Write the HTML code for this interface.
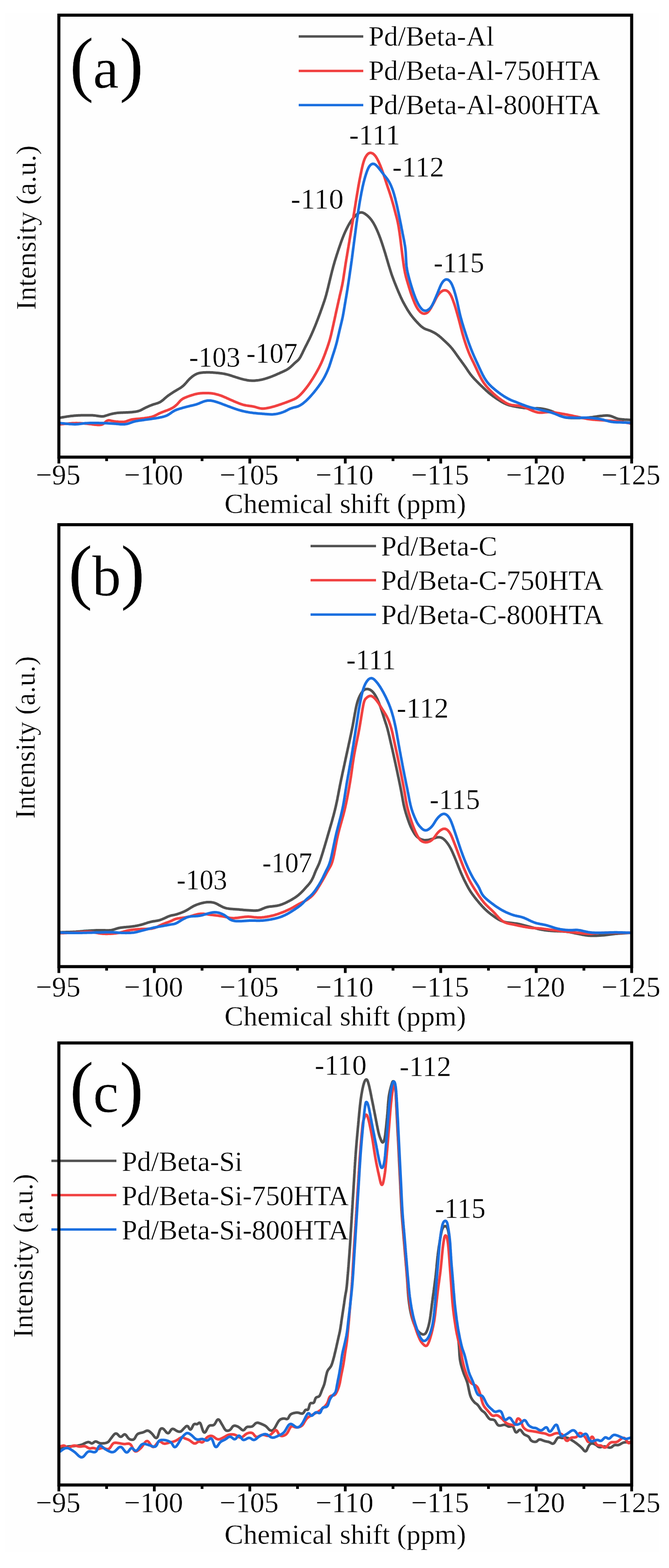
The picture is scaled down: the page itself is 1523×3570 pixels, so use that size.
<!DOCTYPE html><html><head><meta charset="utf-8"><style>html,body{margin:0;padding:0;background:#fff;}svg{display:block;filter:blur(0.5px);}text{font-family:"Liberation Serif","Times New Roman",serif;fill:#000;stroke:#fefefe;stroke-width:0.5px;}</style></head><body>
<svg width="1523" height="3570" viewBox="0 0 1523 3570">
<rect width="1523" height="3570" fill="#ffffff"/>
<rect x="12" y="29" width="1489" height="3505" fill="#fefefe"/>
<g fill="none" stroke-width="6" stroke-linejoin="round" stroke-linecap="round">
<path stroke="#515151" d="M136.8 951.0L139.5 950.6L141.1 950.3L142.8 950.0L144.7 949.7L146.7 949.4L148.6 949.1L150.6 948.8L152.6 948.4L154.6 948.1L156.6 947.9L158.5 947.6L160.5 947.3L162.5 947.1L164.5 946.9L166.5 946.7L168.5 946.5L170.5 946.3L172.5 946.2L174.4 946.0L176.4 945.9L178.4 945.8L180.4 945.8L182.4 945.7L184.4 945.6L186.4 945.6L188.4 945.5L190.4 945.5L192.4 945.4L194.4 945.4L196.4 945.4L198.4 945.4L200.4 945.4L202.4 945.4L204.4 945.4L206.4 945.4L208.4 945.5L210.4 945.6L212.4 945.7L214.4 945.9L216.4 946.1L218.4 946.4L220.4 946.7L222.3 947.0L224.3 947.3L226.3 947.6L228.3 947.8L230.3 948.0L232.2 948.0L234.2 947.9L236.2 947.7L238.1 947.3L240.0 946.7L241.9 946.1L243.8 945.5L245.7 944.9L247.6 944.3L249.5 943.7L251.4 943.2L253.4 942.7L255.3 942.2L257.3 941.8L259.2 941.4L261.2 941.0L263.2 940.7L265.1 940.4L267.1 940.1L269.1 939.9L271.1 939.8L273.1 939.7L275.1 939.6L277.1 939.5L279.1 939.4L281.1 939.3L283.1 939.3L285.1 939.2L287.1 939.1L289.1 939.0L291.1 938.9L293.1 938.8L295.1 938.7L297.1 938.5L299.1 938.4L301.0 938.2L303.0 938.0L305.0 937.8L307.0 937.6L309.0 937.3L310.9 936.9L312.9 936.5L314.8 936.0L316.7 935.4L318.6 934.7L320.4 933.9L322.2 933.1L324.0 932.1L325.7 931.2L327.5 930.2L329.3 929.3L331.0 928.4L332.8 927.5L334.6 926.7L336.5 925.9L338.3 925.1L340.1 924.3L342.0 923.5L343.9 922.8L345.7 922.1L347.6 921.4L349.5 920.7L351.4 920.1L353.3 919.6L355.2 919.0L357.1 918.4L359.0 917.8L360.9 917.1L362.7 916.3L364.5 915.4L366.2 914.3L367.8 913.2L369.4 912.0L370.9 910.8L372.5 909.5L374.0 908.1L375.5 906.8L377.0 905.5L378.5 904.2L380.0 903.0L381.6 901.7L383.2 900.5L384.8 899.4L386.5 898.2L388.1 897.1L389.8 896.0L391.5 894.9L393.1 893.8L394.8 892.7L396.5 891.7L398.2 890.6L399.9 889.6L401.7 888.6L403.4 887.5L405.1 886.5L406.8 885.5L408.6 884.5L410.2 883.5L411.9 882.4L413.5 881.2L415.1 880.0L416.7 878.7L418.1 877.4L419.6 876.0L420.9 874.5L422.3 873.1L423.6 871.6L424.9 870.1L426.2 868.5L427.5 867.0L428.9 865.5L430.2 864.1L431.6 862.7L433.1 861.3L434.6 860.0L436.1 858.7L437.7 857.4L439.3 856.2L440.9 855.1L442.6 854.0L444.3 853.0L446.1 852.1L447.9 851.3L449.7 850.5L451.6 849.9L453.5 849.4L455.5 849.0L457.4 848.7L459.4 848.4L461.4 848.2L463.4 848.1L465.4 848.0L467.4 847.9L469.4 847.8L471.4 847.8L473.4 847.8L475.4 847.8L477.4 847.8L479.4 847.9L481.4 848.0L483.4 848.1L485.4 848.2L487.4 848.4L489.4 848.6L491.3 848.7L493.3 848.9L495.3 849.1L497.3 849.3L499.3 849.5L501.3 849.8L503.3 850.0L505.3 850.3L507.2 850.6L509.2 850.9L511.2 851.3L513.1 851.7L515.1 852.1L517.0 852.6L519.0 853.1L520.9 853.6L522.8 854.2L524.7 854.8L526.6 855.4L528.5 856.0L530.4 856.7L532.3 857.3L534.2 857.9L536.1 858.5L538.0 859.2L539.9 859.7L541.8 860.3L543.7 860.9L545.7 861.5L547.6 862.1L549.5 862.6L551.4 863.1L553.4 863.6L555.3 864.1L557.3 864.5L559.2 864.9L561.2 865.3L563.1 865.7L565.1 866.0L567.1 866.3L569.1 866.5L571.1 866.6L573.1 866.7L575.1 866.8L577.1 866.7L579.1 866.7L581.0 866.5L583.0 866.3L585.0 866.1L587.0 865.9L589.0 865.6L591.0 865.2L592.9 864.9L594.9 864.5L596.8 864.1L598.8 863.6L600.7 863.1L602.6 862.6L604.6 862.0L606.5 861.4L608.4 860.8L610.3 860.2L612.2 859.5L614.0 858.9L615.9 858.2L617.8 857.5L619.7 856.8L621.5 856.0L623.4 855.3L625.2 854.5L627.1 853.7L628.9 852.9L630.7 852.1L632.5 851.3L634.4 850.5L636.2 849.7L638.0 848.8L639.8 848.0L641.7 847.2L643.5 846.4L645.3 845.5L647.1 844.7L648.9 843.8L650.7 843.0L652.5 842.0L654.2 841.0L655.8 839.9L657.5 838.7L659.1 837.5L660.6 836.3L662.1 835.0L663.6 833.6L665.1 832.3L666.5 830.9L667.9 829.5L669.4 828.1L670.8 826.7L672.3 825.4L673.8 824.1L675.4 822.8L676.9 821.5L678.3 820.2L679.7 818.8L680.9 817.2L682.1 815.6L683.2 813.9L684.2 812.2L685.1 810.5L686.0 808.7L686.9 806.9L687.8 805.1L688.7 803.3L689.5 801.5L690.4 799.7L691.3 797.9L692.1 796.1L693.0 794.3L693.9 792.5L694.8 790.7L695.7 788.9L696.6 787.1L697.5 785.3L698.4 783.6L699.3 781.8L700.2 780.0L701.1 778.2L702.0 776.4L702.9 774.6L703.8 772.9L704.7 771.1L705.5 769.3L706.4 767.5L707.2 765.6L708.1 763.8L708.9 762.0L709.7 760.2L710.5 758.4L711.3 756.5L712.1 754.7L712.9 752.8L713.7 751.0L714.5 749.2L715.2 747.3L716.0 745.5L716.8 743.6L717.5 741.8L718.3 739.9L719.0 738.1L719.8 736.2L720.5 734.3L721.2 732.5L721.9 730.6L722.7 728.7L723.4 726.9L724.1 725.0L724.8 723.1L725.5 721.3L726.2 719.4L726.9 717.5L727.6 715.6L728.3 713.8L729.0 711.9L729.7 710.0L730.3 708.1L731.0 706.2L731.7 704.4L732.4 702.5L733.1 700.6L733.7 698.7L734.4 696.8L735.0 694.9L735.7 693.0L736.3 691.2L737.0 689.3L737.6 687.4L738.3 685.5L738.9 683.6L739.5 681.7L740.1 679.8L740.7 677.9L741.3 675.9L741.8 674.0L742.4 672.1L742.9 670.2L743.4 668.2L743.9 666.3L744.4 664.4L744.9 662.4L745.4 660.5L745.9 658.5L746.4 656.6L746.9 654.7L747.3 652.7L747.8 650.8L748.3 648.8L748.7 646.9L749.2 644.9L749.7 643.0L750.1 641.1L750.6 639.1L751.1 637.2L751.5 635.2L752.0 633.3L752.5 631.3L753.0 629.4L753.4 627.4L753.9 625.5L754.4 623.6L754.9 621.6L755.4 619.7L755.8 617.7L756.3 615.8L756.9 613.9L757.4 611.9L757.9 610.0L758.4 608.1L758.9 606.1L759.5 604.2L760.0 602.3L760.6 600.4L761.1 598.4L761.7 596.5L762.2 594.6L762.8 592.7L763.4 590.8L764.0 588.9L764.6 587.0L765.2 585.1L765.8 583.1L766.4 581.2L767.0 579.3L767.6 577.4L768.3 575.5L768.9 573.6L769.5 571.7L770.1 569.8L770.8 567.9L771.4 566.0L772.0 564.1L772.7 562.3L773.3 560.4L774.0 558.5L774.6 556.6L775.3 554.7L776.0 552.8L776.6 550.9L777.3 549.0L778.0 547.2L778.7 545.3L779.4 543.4L780.1 541.6L780.9 539.7L781.6 537.8L782.4 536.0L783.1 534.1L783.9 532.3L784.7 530.5L785.5 528.6L786.3 526.8L787.2 525.0L788.0 523.2L788.9 521.4L789.8 519.6L790.7 517.8L791.6 516.0L792.5 514.3L793.5 512.5L794.5 510.8L795.5 509.0L796.5 507.3L797.6 505.6L798.6 503.9L799.8 502.3L800.9 500.7L802.1 499.1L803.3 497.5L804.6 496.0L805.9 494.5L807.3 493.0L808.7 491.5L810.1 490.1L811.5 488.8L813.1 487.5L814.6 486.3L816.3 485.3L818.0 484.5L819.9 483.9L821.7 483.7L823.6 483.7L825.4 484.1L827.3 484.8L829.0 485.7L830.7 486.7L832.3 487.8L833.9 489.0L835.5 490.2L837.0 491.5L838.5 492.9L839.9 494.3L841.3 495.7L842.6 497.2L843.9 498.7L845.1 500.3L846.3 501.9L847.4 503.6L848.5 505.2L849.6 506.9L850.6 508.6L851.6 510.4L852.5 512.1L853.5 513.9L854.4 515.7L855.3 517.5L856.1 519.3L857.0 521.1L857.8 522.9L858.6 524.7L859.4 526.6L860.2 528.4L861.0 530.3L861.7 532.1L862.5 534.0L863.2 535.8L863.9 537.7L864.6 539.6L865.3 541.4L866.0 543.3L866.7 545.2L867.3 547.1L868.0 549.0L868.6 550.9L869.3 552.8L869.9 554.7L870.5 556.6L871.2 558.5L871.8 560.4L872.4 562.3L873.0 564.2L873.6 566.1L874.2 568.0L874.8 569.9L875.4 571.8L876.0 573.7L876.6 575.6L877.2 577.5L877.8 579.5L878.3 581.4L878.9 583.3L879.5 585.2L880.0 587.1L880.6 589.0L881.2 591.0L881.7 592.9L882.3 594.8L882.9 596.7L883.4 598.6L884.0 600.6L884.6 602.5L885.1 604.4L885.7 606.3L886.3 608.2L886.9 610.1L887.5 612.0L888.1 614.0L888.7 615.9L889.3 617.8L889.9 619.7L890.5 621.6L891.1 623.5L891.8 625.4L892.4 627.2L893.1 629.1L893.8 631.0L894.5 632.9L895.2 634.8L895.9 636.6L896.6 638.5L897.3 640.4L898.0 642.2L898.8 644.1L899.5 646.0L900.3 647.8L901.0 649.7L901.8 651.5L902.5 653.4L903.3 655.2L904.0 657.1L904.8 658.9L905.6 660.8L906.3 662.6L907.1 664.5L907.9 666.3L908.7 668.1L909.5 670.0L910.3 671.8L911.1 673.6L911.9 675.4L912.7 677.3L913.6 679.1L914.5 680.9L915.3 682.7L916.2 684.5L917.1 686.3L918.0 688.0L919.0 689.8L919.9 691.6L920.9 693.3L921.8 695.1L922.8 696.8L923.8 698.6L924.8 700.3L925.8 702.0L926.8 703.7L927.8 705.5L928.9 707.2L930.0 708.8L931.1 710.5L932.2 712.2L933.3 713.8L934.4 715.5L935.6 717.1L936.8 718.7L938.0 720.3L939.2 721.9L940.5 723.4L941.8 725.0L943.1 726.5L944.4 728.0L945.7 729.5L947.0 731.0L948.4 732.5L949.7 733.9L951.1 735.4L952.5 736.8L953.9 738.3L955.3 739.7L956.7 741.1L958.2 742.4L959.7 743.7L961.3 744.9L962.9 746.1L964.6 747.2L966.3 748.1L968.1 749.0L970.0 749.7L971.8 750.4L973.7 751.0L975.6 751.7L977.5 752.3L979.4 753.1L981.2 753.8L983.0 754.7L984.8 755.6L986.6 756.5L988.3 757.4L990.1 758.4L991.8 759.4L993.5 760.5L995.1 761.6L996.7 762.8L998.3 764.0L999.9 765.2L1001.4 766.5L1003.0 767.8L1004.5 769.1L1005.9 770.5L1007.4 771.8L1008.9 773.2L1010.3 774.6L1011.8 775.9L1013.3 777.3L1014.7 778.6L1016.2 780.0L1017.6 781.4L1019.1 782.8L1020.5 784.2L1021.9 785.6L1023.3 787.0L1024.7 788.5L1026.0 790.0L1027.4 791.5L1028.6 793.0L1029.9 794.5L1031.1 796.1L1032.3 797.7L1033.5 799.3L1034.7 800.9L1035.9 802.5L1037.0 804.2L1038.2 805.8L1039.3 807.4L1040.5 809.1L1041.7 810.7L1042.8 812.3L1044.0 814.0L1045.1 815.6L1046.3 817.2L1047.5 818.8L1048.7 820.4L1049.9 822.0L1051.0 823.7L1052.2 825.3L1053.4 826.9L1054.6 828.5L1055.7 830.1L1056.9 831.8L1058.1 833.4L1059.2 835.0L1060.4 836.6L1061.5 838.3L1062.6 840.0L1063.7 841.6L1064.8 843.3L1065.9 845.0L1067.0 846.6L1068.2 848.3L1069.3 849.9L1070.5 851.5L1071.7 853.1L1073.0 854.7L1074.2 856.2L1075.5 857.7L1076.9 859.2L1078.2 860.7L1079.5 862.2L1080.9 863.7L1082.3 865.1L1083.7 866.5L1085.1 868.0L1086.5 869.4L1087.9 870.8L1089.3 872.3L1090.7 873.7L1092.1 875.1L1093.6 876.5L1095.0 877.9L1096.4 879.3L1097.9 880.6L1099.3 882.0L1100.8 883.4L1102.2 884.8L1103.7 886.1L1105.1 887.5L1106.6 888.9L1108.1 890.2L1109.6 891.5L1111.1 892.9L1112.6 894.2L1114.1 895.5L1115.7 896.7L1117.2 898.0L1118.8 899.2L1120.4 900.4L1122.0 901.6L1123.6 902.8L1125.2 903.9L1126.9 905.1L1128.5 906.2L1130.2 907.4L1131.8 908.5L1133.5 909.6L1135.2 910.6L1136.9 911.7L1138.6 912.8L1140.3 913.8L1142.0 914.8L1143.8 915.8L1145.5 916.8L1147.3 917.7L1149.1 918.6L1150.9 919.4L1152.7 920.2L1154.6 921.0L1156.4 921.7L1158.3 922.3L1160.2 922.9L1162.2 923.4L1164.1 923.9L1166.1 924.3L1168.0 924.7L1170.0 925.1L1171.9 925.5L1173.9 925.8L1175.9 926.2L1177.8 926.5L1179.8 926.9L1181.8 927.2L1183.8 927.5L1185.7 927.8L1187.7 928.1L1189.7 928.4L1191.7 928.7L1193.7 928.9L1195.7 929.1L1197.6 929.3L1199.6 929.5L1201.6 929.6L1203.6 929.8L1205.6 929.9L1207.6 929.9L1209.6 929.9L1211.6 929.9L1213.6 929.8L1215.6 929.8L1217.6 929.7L1219.6 929.7L1221.6 929.6L1223.6 929.6L1225.6 929.7L1227.6 929.8L1229.6 929.9L1231.6 930.1L1233.5 930.4L1235.5 930.7L1237.5 931.1L1239.4 931.5L1241.4 931.9L1243.3 932.3L1245.3 932.8L1247.2 933.4L1249.1 933.9L1251.0 934.5L1252.9 935.2L1254.8 935.8L1256.7 936.6L1258.5 937.3L1260.3 938.1L1262.1 939.0L1263.9 939.9L1265.7 940.9L1267.4 941.8L1269.2 942.8L1270.9 943.8L1272.6 944.8L1274.4 945.7L1276.2 946.6L1278.0 947.5L1279.8 948.2L1281.7 948.9L1283.6 949.5L1285.5 950.0L1287.5 950.5L1289.4 950.8L1291.4 951.1L1293.4 951.3L1295.4 951.5L1297.4 951.6L1299.4 951.7L1301.4 951.7L1303.4 951.7L1305.4 951.8L1307.4 951.8L1309.4 951.8L1311.4 951.8L1313.4 951.8L1315.4 951.8L1317.4 951.7L1319.4 951.7L1321.4 951.6L1323.4 951.6L1325.4 951.5L1327.4 951.4L1329.4 951.3L1331.4 951.2L1333.4 951.1L1335.4 951.0L1337.3 950.8L1339.3 950.7L1341.3 950.5L1343.3 950.3L1345.3 950.1L1347.3 949.9L1349.3 949.6L1351.3 949.3L1353.2 949.0L1355.2 948.7L1357.2 948.4L1359.2 948.1L1361.1 947.8L1363.1 947.6L1365.1 947.3L1367.1 947.1L1369.1 946.9L1371.1 946.7L1373.1 946.5L1375.1 946.3L1377.1 946.2L1379.0 946.1L1381.0 946.1L1383.0 946.1L1385.0 946.2L1387.0 946.5L1388.9 946.8L1390.8 947.3L1392.7 947.9L1394.6 948.7L1396.4 949.5L1398.2 950.3L1400.1 951.1L1401.9 951.8L1403.8 952.5L1405.7 953.1L1407.6 953.6L1409.6 954.0L1411.5 954.3L1413.5 954.6L1415.5 954.8L1417.5 955.0L1419.5 955.1L1421.5 955.3L1423.5 955.4L1425.5 955.5L1427.4 955.6L1429.4 955.7L1431.3 955.8L1432.9 955.9L1434.3 956.0L1437.0 956.1"/>
<path stroke="#F14040" d="M136.8 966.0L139.6 965.7L141.1 965.6L142.9 965.4L144.8 965.3L146.8 965.1L148.7 964.9L150.7 964.7L152.7 964.5L154.7 964.4L156.7 964.2L158.7 964.0L160.7 963.9L162.7 963.7L164.7 963.6L166.7 963.5L168.7 963.4L170.7 963.4L172.7 963.3L174.7 963.3L176.7 963.4L178.7 963.4L180.7 963.5L182.7 963.6L184.7 963.7L186.7 963.8L188.7 964.0L190.7 964.1L192.7 964.3L194.6 964.4L196.6 964.6L198.6 964.8L200.6 965.0L202.6 965.2L204.6 965.4L206.6 965.6L208.6 965.9L210.6 966.2L212.5 966.4L214.5 966.7L216.5 966.9L218.5 967.1L220.5 967.3L222.5 967.4L224.5 967.5L226.4 967.5L228.4 967.3L230.3 967.0L232.2 966.5L234.0 965.7L235.6 964.7L237.1 963.5L238.6 962.2L240.0 960.8L241.4 959.6L243.0 958.4L244.6 957.6L246.4 957.1L248.2 957.0L250.1 957.2L252.0 957.6L253.9 958.1L255.8 958.5L257.8 958.9L259.8 959.3L261.7 959.5L263.7 959.8L265.7 960.0L267.7 960.1L269.7 960.3L271.7 960.4L273.7 960.6L275.7 960.6L277.7 960.6L279.7 960.6L281.6 960.4L283.6 960.2L285.6 959.8L287.5 959.3L289.3 958.6L291.2 957.9L293.1 957.2L294.9 956.6L296.8 956.0L298.8 955.5L300.7 955.0L302.7 954.7L304.7 954.4L306.6 954.2L308.6 954.0L310.6 953.8L312.6 953.7L314.6 953.5L316.6 953.4L318.6 953.2L320.6 953.0L322.6 952.8L324.6 952.6L326.5 952.4L328.5 952.1L330.5 951.8L332.5 951.6L334.5 951.3L336.4 950.9L338.4 950.6L340.4 950.2L342.3 949.8L344.3 949.3L346.2 948.8L348.1 948.2L350.0 947.5L351.8 946.8L353.6 945.9L355.4 945.0L357.2 944.1L358.9 943.1L360.7 942.2L362.5 941.3L364.3 940.5L366.1 939.7L368.0 938.9L369.8 938.2L371.7 937.5L373.6 936.8L375.4 936.1L377.3 935.4L379.2 934.7L381.1 934.0L382.9 933.3L384.8 932.5L386.6 931.7L388.4 930.9L390.2 930.0L392.0 929.1L393.7 928.0L395.4 927.0L397.0 925.8L398.6 924.6L400.1 923.3L401.6 922.0L403.1 920.7L404.4 919.2L405.8 917.7L407.1 916.2L408.4 914.7L409.7 913.2L411.1 911.8L412.6 910.5L414.1 909.3L415.8 908.2L417.5 907.2L419.3 906.3L421.1 905.5L422.9 904.7L424.8 903.9L426.6 903.2L428.5 902.5L430.4 901.8L432.3 901.2L434.2 900.6L436.1 899.9L438.0 899.3L439.9 898.8L441.8 898.2L443.7 897.7L445.7 897.2L447.6 896.8L449.6 896.4L451.6 896.0L453.5 895.7L455.5 895.5L457.5 895.3L459.5 895.2L461.5 895.0L463.5 895.0L465.5 894.9L467.5 894.9L469.5 894.9L471.5 894.9L473.5 895.0L475.5 895.1L477.5 895.2L479.5 895.3L481.5 895.6L483.4 895.8L485.4 896.1L487.4 896.4L489.3 896.8L491.3 897.3L493.2 897.8L495.2 898.3L497.1 898.9L499.0 899.5L500.9 900.1L502.8 900.7L504.6 901.4L506.5 902.1L508.4 902.9L510.2 903.7L512.0 904.5L513.9 905.3L515.7 906.1L517.5 907.0L519.3 907.8L521.1 908.6L523.0 909.4L524.8 910.2L526.6 911.0L528.5 911.8L530.3 912.6L532.1 913.4L534.0 914.2L535.8 915.0L537.7 915.8L539.5 916.5L541.3 917.3L543.2 918.0L545.1 918.8L546.9 919.4L548.8 920.1L550.7 920.7L552.6 921.3L554.6 921.8L556.5 922.3L558.5 922.7L560.4 923.1L562.4 923.4L564.4 923.7L566.4 924.0L568.3 924.3L570.3 924.5L572.3 924.8L574.3 925.1L576.2 925.5L578.2 925.9L580.1 926.4L582.0 926.9L584.0 927.5L585.9 928.1L587.8 928.6L589.7 929.1L591.7 929.6L593.6 929.9L595.6 930.2L597.6 930.3L599.6 930.2L601.5 930.1L603.5 929.9L605.5 929.6L607.5 929.3L609.4 928.9L611.4 928.5L613.3 928.1L615.3 927.6L617.2 927.2L619.2 926.7L621.1 926.2L623.0 925.6L624.9 925.1L626.9 924.5L628.8 923.9L630.7 923.3L632.6 922.7L634.5 922.0L636.4 921.4L638.3 920.8L640.2 920.1L642.0 919.5L643.9 918.8L645.8 918.1L647.7 917.5L649.6 916.8L651.5 916.1L653.3 915.4L655.2 914.7L657.1 913.9L658.9 913.2L660.8 912.5L662.6 911.7L664.5 911.0L666.3 910.2L668.2 909.5L670.0 908.7L671.8 907.8L673.6 906.8L675.3 905.8L676.9 904.7L678.5 903.5L680.0 902.2L681.5 900.9L682.9 899.5L684.4 898.1L685.7 896.7L687.1 895.2L688.5 893.7L689.8 892.2L691.1 890.7L692.4 889.2L693.7 887.6L694.9 886.1L696.2 884.5L697.4 883.0L698.6 881.4L699.8 879.8L701.0 878.2L702.2 876.5L703.4 874.9L704.5 873.3L705.6 871.6L706.7 870.0L707.8 868.3L708.9 866.6L710.0 864.9L711.1 863.3L712.2 861.6L713.2 859.9L714.3 858.2L715.3 856.5L716.3 854.7L717.4 853.0L718.4 851.3L719.4 849.6L720.4 847.8L721.4 846.1L722.3 844.3L723.3 842.6L724.2 840.8L725.2 839.1L726.1 837.3L727.0 835.5L727.9 833.7L728.8 831.9L729.7 830.1L730.5 828.3L731.4 826.5L732.2 824.7L733.0 822.9L733.8 821.0L734.6 819.2L735.3 817.3L736.1 815.5L736.8 813.6L737.5 811.8L738.3 809.9L739.0 808.0L739.7 806.1L740.4 804.3L741.1 802.4L741.7 800.5L742.4 798.6L743.1 796.8L743.8 794.9L744.5 793.0L745.1 791.1L745.8 789.2L746.4 787.3L747.1 785.4L747.7 783.5L748.3 781.6L748.9 779.7L749.5 777.8L750.1 775.9L750.6 774.0L751.2 772.1L751.7 770.1L752.2 768.2L752.7 766.3L753.2 764.3L753.7 762.4L754.1 760.4L754.6 758.5L755.0 756.5L755.5 754.6L755.9 752.6L756.3 750.7L756.8 748.7L757.2 746.8L757.6 744.8L758.1 742.9L758.5 740.9L759.0 739.0L759.4 737.0L759.8 735.1L760.3 733.1L760.7 731.2L761.1 729.2L761.6 727.2L762.0 725.3L762.4 723.3L762.8 721.4L763.3 719.4L763.7 717.5L764.1 715.5L764.5 713.6L765.0 711.6L765.4 709.7L765.8 707.7L766.3 705.8L766.7 703.8L767.1 701.8L767.6 699.9L768.0 697.9L768.4 696.0L768.9 694.0L769.3 692.1L769.7 690.1L770.2 688.2L770.6 686.2L771.0 684.3L771.5 682.3L771.9 680.4L772.4 678.4L772.8 676.5L773.2 674.5L773.7 672.6L774.1 670.6L774.6 668.7L775.0 666.7L775.5 664.8L776.0 662.8L776.4 660.9L776.9 658.9L777.3 657.0L777.7 655.0L778.2 653.1L778.6 651.1L779.0 649.2L779.4 647.2L779.8 645.2L780.1 643.3L780.5 641.3L780.8 639.3L781.2 637.4L781.5 635.4L781.8 633.4L782.1 631.4L782.4 629.5L782.7 627.5L783.0 625.5L783.3 623.5L783.6 621.6L783.9 619.6L784.2 617.6L784.5 615.6L784.8 613.6L785.1 611.7L785.4 609.7L785.7 607.7L786.0 605.7L786.3 603.8L786.6 601.8L786.9 599.8L787.2 597.8L787.6 595.9L787.9 593.9L788.2 591.9L788.5 589.9L788.9 588.0L789.2 586.0L789.5 584.0L789.9 582.0L790.2 580.1L790.5 578.1L790.8 576.1L791.2 574.2L791.5 572.2L791.8 570.2L792.2 568.2L792.5 566.3L792.8 564.3L793.2 562.3L793.5 560.4L793.8 558.4L794.2 556.4L794.5 554.4L794.8 552.5L795.2 550.5L795.5 548.5L795.8 546.5L796.1 544.6L796.5 542.6L796.8 540.6L797.1 538.7L797.5 536.7L797.8 534.7L798.1 532.7L798.4 530.8L798.8 528.8L799.1 526.8L799.4 524.8L799.8 522.9L800.1 520.9L800.4 518.9L800.8 517.0L801.1 515.0L801.4 513.0L801.7 511.0L802.1 509.1L802.4 507.1L802.7 505.1L803.1 503.1L803.4 501.2L803.7 499.2L804.0 497.2L804.4 495.3L804.7 493.3L805.0 491.3L805.3 489.3L805.6 487.4L806.0 485.4L806.3 483.4L806.6 481.4L806.9 479.5L807.2 477.5L807.5 475.5L807.8 473.5L808.2 471.6L808.5 469.6L808.8 467.6L809.1 465.6L809.4 463.7L809.7 461.7L810.0 459.7L810.4 457.7L810.7 455.8L811.0 453.8L811.3 451.8L811.6 449.8L812.0 447.9L812.3 445.9L812.6 443.9L813.0 441.9L813.3 440.0L813.6 438.0L813.9 436.0L814.3 434.0L814.6 432.1L814.9 430.1L815.3 428.1L815.6 426.2L815.9 424.2L816.3 422.2L816.6 420.2L817.0 418.3L817.3 416.3L817.7 414.3L818.1 412.4L818.4 410.4L818.8 408.5L819.2 406.5L819.6 404.5L820.0 402.6L820.4 400.6L820.8 398.6L821.2 396.7L821.6 394.7L822.0 392.8L822.4 390.8L822.8 388.9L823.2 386.9L823.6 384.9L824.1 383.0L824.5 381.0L825.0 379.1L825.4 377.1L825.9 375.2L826.4 373.3L826.9 371.3L827.5 369.4L828.1 367.5L828.7 365.6L829.4 363.7L830.1 361.9L830.9 360.1L831.8 358.3L832.8 356.6L833.9 354.9L835.0 353.3L836.3 351.8L837.6 350.4L839.1 349.3L840.8 348.5L842.5 348.1L844.3 348.1L846.1 348.5L847.8 349.2L849.5 350.2L851.0 351.4L852.4 352.7L853.7 354.2L855.0 355.8L856.1 357.4L857.1 359.1L858.1 360.8L859.1 362.6L860.0 364.3L860.9 366.1L861.8 367.9L862.6 369.7L863.4 371.6L864.2 373.4L865.0 375.2L865.8 377.1L866.5 378.9L867.2 380.8L868.0 382.7L868.7 384.5L869.4 386.4L870.0 388.3L870.7 390.2L871.4 392.1L872.1 393.9L872.7 395.8L873.4 397.7L874.0 399.6L874.7 401.5L875.3 403.4L875.9 405.3L876.5 407.2L877.1 409.1L877.8 411.0L878.4 412.9L879.0 414.8L879.6 416.7L880.2 418.6L880.9 420.5L881.5 422.4L882.1 424.3L882.8 426.2L883.4 428.1L884.1 430.0L884.7 431.9L885.4 433.8L886.0 435.7L886.6 437.6L887.3 439.5L887.9 441.4L888.5 443.3L889.1 445.2L889.7 447.1L890.3 449.0L890.9 450.9L891.5 452.8L892.0 454.8L892.6 456.7L893.1 458.6L893.7 460.5L894.2 462.4L894.8 464.4L895.3 466.3L895.8 468.2L896.4 470.1L896.9 472.1L897.4 474.0L897.9 475.9L898.4 477.9L898.9 479.8L899.4 481.8L899.9 483.7L900.4 485.6L900.9 487.6L901.4 489.5L902.0 491.4L902.5 493.4L903.0 495.3L903.5 497.2L904.0 499.2L904.4 501.1L904.9 503.1L905.3 505.0L905.7 507.0L906.1 508.9L906.5 510.9L906.9 512.9L907.2 514.8L907.6 516.8L907.9 518.8L908.2 520.7L908.5 522.7L908.8 524.7L909.1 526.7L909.4 528.7L909.7 530.6L910.0 532.6L910.2 534.6L910.5 536.6L910.8 538.6L911.0 540.5L911.3 542.5L911.5 544.5L911.8 546.5L912.0 548.5L912.3 550.5L912.5 552.5L912.7 554.4L913.0 556.4L913.2 558.4L913.5 560.4L913.7 562.4L914.0 564.4L914.2 566.4L914.4 568.3L914.7 570.3L914.9 572.3L915.2 574.3L915.4 576.3L915.6 578.3L915.9 580.3L916.1 582.2L916.4 584.2L916.6 586.2L916.9 588.2L917.2 590.2L917.4 592.2L917.7 594.1L918.0 596.1L918.2 598.1L918.5 600.1L918.8 602.1L919.1 604.0L919.4 606.0L919.7 608.0L920.0 610.0L920.4 611.9L920.7 613.9L921.1 615.9L921.5 617.8L921.8 619.8L922.2 621.8L922.7 623.7L923.1 625.7L923.6 627.6L924.0 629.5L924.5 631.5L925.1 633.4L925.6 635.3L926.2 637.3L926.7 639.2L927.3 641.1L927.9 643.0L928.4 644.9L929.0 646.8L929.6 648.8L930.2 650.7L930.7 652.6L931.3 654.5L931.9 656.4L932.5 658.3L933.1 660.2L933.7 662.1L934.3 664.0L934.9 665.9L935.6 667.8L936.2 669.7L936.9 671.6L937.6 673.5L938.2 675.4L938.9 677.3L939.6 679.1L940.4 681.0L941.1 682.9L941.8 684.7L942.6 686.6L943.3 688.4L944.1 690.3L944.9 692.1L945.8 693.9L946.6 695.7L947.6 697.5L948.5 699.2L949.5 700.9L950.6 702.6L951.7 704.3L952.9 705.9L954.2 707.4L955.5 708.9L956.9 710.2L958.5 711.5L960.1 712.5L961.8 713.4L963.6 713.9L965.5 714.2L967.3 714.0L969.2 713.6L970.9 712.9L972.5 711.9L974.1 710.6L975.4 709.2L976.7 707.7L977.9 706.1L979.0 704.5L980.0 702.8L981.1 701.1L982.0 699.3L983.0 697.6L984.0 695.8L985.0 694.1L985.9 692.3L986.9 690.6L987.8 688.8L988.7 687.0L989.6 685.3L990.5 683.5L991.4 681.7L992.3 679.9L993.3 678.1L994.2 676.4L995.2 674.7L996.3 673.0L997.4 671.3L998.7 669.8L1000.0 668.3L1001.3 666.8L1002.8 665.5L1004.3 664.2L1005.9 663.1L1007.6 662.1L1009.4 661.4L1011.2 661.0L1013.1 660.9L1014.9 661.2L1016.7 661.8L1018.4 662.7L1019.9 663.8L1021.3 665.1L1022.7 666.6L1023.8 668.2L1024.9 669.8L1025.9 671.6L1026.9 673.3L1027.7 675.1L1028.6 676.9L1029.3 678.8L1030.1 680.6L1030.8 682.5L1031.5 684.4L1032.1 686.3L1032.8 688.2L1033.5 690.0L1034.1 691.9L1034.8 693.8L1035.4 695.7L1036.0 697.6L1036.6 699.5L1037.2 701.5L1037.8 703.4L1038.3 705.3L1038.9 707.2L1039.4 709.1L1040.0 711.1L1040.5 713.0L1041.1 714.9L1041.6 716.8L1042.1 718.8L1042.7 720.7L1043.2 722.6L1043.7 724.5L1044.3 726.5L1044.8 728.4L1045.3 730.3L1045.8 732.3L1046.3 734.2L1046.8 736.1L1047.3 738.1L1047.8 740.0L1048.3 742.0L1048.8 743.9L1049.3 745.8L1049.8 747.8L1050.3 749.7L1050.8 751.6L1051.3 753.6L1051.8 755.5L1052.3 757.4L1052.8 759.4L1053.4 761.3L1053.9 763.2L1054.5 765.1L1055.1 767.1L1055.6 769.0L1056.2 770.9L1056.8 772.8L1057.4 774.7L1058.0 776.6L1058.6 778.5L1059.2 780.4L1059.8 782.3L1060.5 784.2L1061.1 786.1L1061.8 788.0L1062.4 789.9L1063.1 791.8L1063.8 793.7L1064.5 795.5L1065.2 797.4L1065.9 799.3L1066.6 801.1L1067.4 803.0L1068.1 804.8L1068.9 806.7L1069.7 808.5L1070.5 810.3L1071.4 812.1L1072.2 814.0L1073.1 815.8L1074.0 817.6L1074.8 819.4L1075.7 821.2L1076.6 823.0L1077.5 824.7L1078.4 826.5L1079.2 828.3L1080.1 830.1L1081.0 831.9L1081.8 833.8L1082.7 835.6L1083.5 837.4L1084.4 839.2L1085.2 841.0L1086.0 842.8L1086.9 844.6L1087.7 846.5L1088.6 848.3L1089.4 850.1L1090.3 851.9L1091.2 853.7L1092.1 855.5L1093.0 857.2L1093.9 859.0L1094.8 860.8L1095.8 862.5L1096.8 864.3L1097.8 866.0L1098.8 867.7L1099.9 869.4L1101.0 871.1L1102.1 872.7L1103.3 874.3L1104.5 875.9L1105.7 877.5L1107.0 879.1L1108.3 880.6L1109.6 882.1L1110.9 883.6L1112.3 885.1L1113.6 886.5L1115.0 888.0L1116.4 889.4L1117.8 890.8L1119.2 892.2L1120.7 893.6L1122.1 895.0L1123.6 896.4L1125.1 897.7L1126.5 899.0L1128.0 900.4L1129.6 901.6L1131.1 902.9L1132.7 904.2L1134.3 905.4L1135.8 906.6L1137.4 907.8L1139.1 909.0L1140.7 910.2L1142.3 911.3L1144.0 912.4L1145.6 913.5L1147.3 914.6L1149.0 915.7L1150.7 916.8L1152.4 917.7L1154.2 918.6L1156.0 919.5L1157.9 920.2L1159.7 920.9L1161.7 921.4L1163.6 921.9L1165.5 922.3L1167.5 922.6L1169.5 922.8L1171.5 923.0L1173.5 923.2L1175.5 923.3L1177.5 923.5L1179.5 923.7L1181.4 923.9L1183.4 924.2L1185.4 924.6L1187.3 925.0L1189.2 925.5L1191.1 926.1L1193.0 926.8L1194.9 927.5L1196.7 928.3L1198.5 929.1L1200.4 929.9L1202.2 930.8L1204.0 931.6L1205.8 932.5L1207.6 933.3L1209.5 934.1L1211.3 934.9L1213.2 935.6L1215.0 936.3L1216.9 937.0L1218.8 937.7L1220.7 938.2L1222.6 938.7L1224.6 939.1L1226.5 939.4L1228.5 939.5L1230.5 939.5L1232.5 939.5L1234.5 939.4L1236.5 939.2L1238.5 939.0L1240.5 938.8L1242.4 938.6L1244.4 938.4L1246.4 938.3L1248.4 938.2L1250.4 938.2L1252.4 938.3L1254.4 938.4L1256.4 938.6L1258.4 938.8L1260.4 939.0L1262.4 939.2L1264.3 939.5L1266.3 939.8L1268.3 940.1L1270.3 940.4L1272.2 940.7L1274.2 941.0L1276.2 941.4L1278.2 941.7L1280.1 942.1L1282.1 942.4L1284.1 942.8L1286.0 943.2L1288.0 943.5L1290.0 943.9L1291.9 944.3L1293.9 944.7L1295.8 945.1L1297.8 945.5L1299.7 945.9L1301.7 946.3L1303.7 946.7L1305.6 947.2L1307.6 947.6L1309.5 948.0L1311.5 948.4L1313.5 948.8L1315.4 949.2L1317.4 949.6L1319.3 950.0L1321.3 950.5L1323.2 950.9L1325.2 951.3L1327.1 951.7L1329.1 952.2L1331.1 952.6L1333.0 952.9L1335.0 953.3L1337.0 953.7L1338.9 954.0L1340.9 954.3L1342.9 954.6L1344.9 954.8L1346.9 955.1L1348.8 955.3L1350.8 955.5L1352.8 955.6L1354.8 955.8L1356.8 955.9L1358.8 956.1L1360.8 956.2L1362.8 956.3L1364.8 956.5L1366.8 956.6L1368.8 956.7L1370.8 956.8L1372.8 957.0L1374.8 957.1L1376.8 957.2L1378.8 957.4L1380.8 957.5L1382.8 957.6L1384.8 957.7L1386.7 957.8L1388.7 958.0L1390.7 958.1L1392.7 958.2L1394.7 958.3L1396.7 958.5L1398.7 958.6L1400.7 958.8L1402.7 959.0L1404.7 959.1L1406.7 959.4L1408.7 959.6L1410.7 959.8L1412.6 960.1L1414.6 960.4L1416.6 960.7L1418.6 961.0L1420.5 961.4L1422.5 961.7L1424.5 962.0L1426.4 962.4L1428.4 962.7L1430.3 963.1L1432.0 963.4L1433.6 963.7L1437.0 964.3"/>
<path stroke="#1A6FDF" d="M136.8 963.3L139.6 963.6L141.1 963.7L142.9 963.9L144.8 964.1L146.8 964.3L148.7 964.5L150.7 964.7L152.7 964.9L154.7 965.0L156.7 965.2L158.7 965.4L160.7 965.5L162.7 965.6L164.7 965.7L166.7 965.8L168.7 965.9L170.7 965.9L172.7 965.9L174.7 965.8L176.7 965.7L178.7 965.5L180.6 965.3L182.6 965.0L184.6 964.8L186.6 964.5L188.6 964.3L190.6 964.0L192.6 963.8L194.5 963.6L196.5 963.5L198.5 963.4L200.5 963.3L202.5 963.2L204.5 963.1L206.5 963.1L208.5 963.1L210.5 963.1L212.5 963.1L214.5 963.1L216.5 963.1L218.5 963.1L220.5 963.1L222.5 963.1L224.5 963.1L226.5 963.2L228.5 963.2L230.5 963.2L232.5 963.3L234.5 963.3L236.5 963.4L238.5 963.5L240.5 963.5L242.5 963.6L244.5 963.7L246.5 963.8L248.5 964.0L250.5 964.1L252.5 964.2L254.5 964.3L256.5 964.4L258.5 964.6L260.5 964.7L262.5 964.8L264.5 965.0L266.5 965.2L268.5 965.3L270.4 965.5L272.4 965.7L274.4 965.9L276.4 966.0L278.4 966.1L280.4 966.1L282.4 966.0L284.4 965.9L286.4 965.6L288.3 965.3L290.3 964.8L292.2 964.3L294.1 963.7L296.0 963.0L297.8 962.4L299.7 961.7L301.6 961.0L303.5 960.4L305.4 959.9L307.4 959.4L309.3 958.9L311.3 958.5L313.2 958.2L315.2 957.8L317.2 957.5L319.2 957.2L321.1 957.0L323.1 956.7L325.1 956.4L327.1 956.2L329.1 955.9L331.0 955.6L333.0 955.3L335.0 955.1L337.0 954.8L339.0 954.5L341.0 954.2L342.9 954.0L344.9 953.7L346.9 953.4L348.9 953.1L350.9 952.8L352.8 952.6L354.8 952.2L356.8 951.9L358.8 951.6L360.7 951.2L362.7 950.8L364.6 950.4L366.6 950.0L368.5 949.6L370.5 949.1L372.4 948.6L374.3 948.0L376.2 947.4L378.1 946.7L379.9 945.9L381.7 945.1L383.4 944.1L385.1 943.0L386.8 941.9L388.4 940.8L390.0 939.6L391.6 938.4L393.3 937.3L395.0 936.3L396.7 935.3L398.5 934.4L400.4 933.6L402.2 932.9L404.1 932.2L406.0 931.6L407.9 931.0L409.8 930.4L411.7 929.8L413.6 929.3L415.6 928.7L417.5 928.2L419.4 927.7L421.3 927.1L423.3 926.6L425.2 926.1L427.2 925.6L429.1 925.1L431.0 924.7L433.0 924.2L434.9 923.7L436.9 923.3L438.8 922.8L440.8 922.3L442.7 921.8L444.6 921.3L446.5 920.8L448.5 920.2L450.3 919.5L452.2 918.9L454.1 918.1L455.9 917.3L457.7 916.5L459.6 915.7L461.4 915.0L463.3 914.3L465.2 913.6L467.1 913.1L469.0 912.7L471.0 912.3L473.0 912.1L474.9 912.0L476.9 912.0L478.9 912.1L480.9 912.3L482.9 912.6L484.8 913.0L486.8 913.4L488.7 914.0L490.6 914.5L492.5 915.1L494.4 915.7L496.3 916.3L498.2 917.0L500.1 917.6L502.0 918.3L503.9 919.0L505.7 919.8L507.6 920.5L509.5 921.2L511.3 921.9L513.2 922.6L515.1 923.3L516.9 924.0L518.8 924.7L520.7 925.4L522.6 926.1L524.4 926.8L526.3 927.5L528.2 928.2L530.1 928.9L532.0 929.5L533.8 930.2L535.7 930.9L537.6 931.5L539.5 932.1L541.4 932.8L543.3 933.3L545.2 933.9L547.2 934.5L549.1 935.0L551.0 935.5L553.0 936.0L554.9 936.4L556.9 936.9L558.8 937.3L560.8 937.7L562.8 938.0L564.7 938.4L566.7 938.7L568.7 939.1L570.6 939.4L572.6 939.6L574.6 939.9L576.6 940.2L578.6 940.4L580.6 940.6L582.6 940.8L584.5 941.0L586.5 941.2L588.5 941.4L590.5 941.5L592.5 941.7L594.5 941.8L596.5 942.0L598.5 942.2L600.5 942.3L602.5 942.5L604.5 942.7L606.5 942.8L608.5 943.0L610.5 943.1L612.5 943.2L614.5 943.3L616.4 943.4L618.4 943.4L620.4 943.4L622.4 943.3L624.4 943.1L626.4 942.9L628.4 942.6L630.4 942.3L632.3 941.9L634.3 941.4L636.2 940.9L638.1 940.4L640.0 939.8L641.9 939.1L643.8 938.5L645.7 937.8L647.5 937.0L649.3 936.2L651.1 935.3L652.9 934.4L654.7 933.5L656.4 932.5L658.2 931.6L660.0 930.8L661.9 930.0L663.7 929.4L665.6 928.8L667.6 928.2L669.5 927.7L671.4 927.2L673.4 926.8L675.3 926.2L677.2 925.6L679.0 924.9L680.9 924.1L682.6 923.2L684.4 922.2L686.0 921.1L687.7 920.0L689.3 918.8L690.9 917.6L692.4 916.3L693.9 915.0L695.4 913.7L696.9 912.4L698.4 911.0L699.8 909.6L701.2 908.2L702.6 906.8L704.0 905.3L705.4 903.9L706.7 902.4L708.1 900.9L709.4 899.4L710.7 897.9L712.0 896.4L713.3 894.9L714.6 893.3L715.8 891.8L717.1 890.2L718.3 888.6L719.6 887.1L720.8 885.5L722.0 883.9L723.2 882.3L724.4 880.7L725.6 879.1L726.7 877.4L727.9 875.8L729.0 874.2L730.2 872.5L731.3 870.9L732.4 869.2L733.4 867.5L734.5 865.8L735.5 864.1L736.5 862.4L737.5 860.6L738.5 858.9L739.4 857.1L740.3 855.3L741.2 853.5L742.1 851.7L743.0 849.9L743.8 848.1L744.6 846.3L745.4 844.5L746.2 842.6L747.0 840.8L747.7 838.9L748.5 837.1L749.2 835.2L749.9 833.3L750.5 831.4L751.1 829.5L751.8 827.6L752.4 825.7L753.0 823.8L753.6 821.9L754.2 820.0L754.8 818.1L755.4 816.2L756.0 814.3L756.6 812.4L757.2 810.5L757.8 808.6L758.4 806.7L759.1 804.8L759.7 802.9L760.3 801.0L760.9 799.1L761.5 797.2L762.1 795.2L762.7 793.3L763.3 791.4L763.8 789.5L764.4 787.6L764.9 785.7L765.5 783.7L766.0 781.8L766.5 779.9L767.0 777.9L767.5 776.0L767.9 774.0L768.4 772.1L768.9 770.1L769.3 768.2L769.7 766.2L770.2 764.3L770.6 762.3L771.1 760.4L771.5 758.4L772.0 756.5L772.4 754.5L772.9 752.6L773.3 750.7L773.8 748.7L774.3 746.8L774.7 744.8L775.2 742.9L775.7 740.9L776.2 739.0L776.6 737.1L777.1 735.1L777.6 733.2L778.0 731.2L778.5 729.3L778.9 727.3L779.3 725.4L779.8 723.4L780.2 721.4L780.6 719.5L780.9 717.5L781.3 715.6L781.7 713.6L782.0 711.6L782.4 709.7L782.7 707.7L783.0 705.7L783.4 703.7L783.7 701.8L784.0 699.8L784.4 697.8L784.7 695.8L785.0 693.9L785.4 691.9L785.7 689.9L786.0 688.0L786.4 686.0L786.7 684.0L787.0 682.0L787.4 680.1L787.7 678.1L788.1 676.1L788.4 674.2L788.7 672.2L789.1 670.2L789.4 668.2L789.7 666.3L790.0 664.3L790.3 662.3L790.7 660.3L791.0 658.4L791.3 656.4L791.6 654.4L791.9 652.4L792.2 650.5L792.5 648.5L792.8 646.5L793.1 644.5L793.4 642.6L793.7 640.6L794.0 638.6L794.3 636.6L794.6 634.6L794.9 632.7L795.2 630.7L795.5 628.7L795.8 626.7L796.1 624.8L796.4 622.8L796.6 620.8L796.9 618.8L797.2 616.8L797.5 614.9L797.8 612.9L798.1 610.9L798.4 608.9L798.6 606.9L798.9 605.0L799.2 603.0L799.5 601.0L799.7 599.0L800.0 597.0L800.3 595.1L800.6 593.1L800.8 591.1L801.1 589.1L801.4 587.1L801.6 585.1L801.9 583.2L802.1 581.2L802.4 579.2L802.7 577.2L802.9 575.2L803.2 573.2L803.4 571.3L803.7 569.3L803.9 567.3L804.2 565.3L804.5 563.3L804.7 561.3L805.0 559.4L805.2 557.4L805.5 555.4L805.7 553.4L806.0 551.4L806.3 549.4L806.5 547.5L806.8 545.5L807.0 543.5L807.3 541.5L807.6 539.5L807.8 537.5L808.1 535.6L808.3 533.6L808.6 531.6L808.9 529.6L809.1 527.6L809.4 525.6L809.6 523.7L809.9 521.7L810.2 519.7L810.4 517.7L810.7 515.7L810.9 513.7L811.2 511.8L811.5 509.8L811.7 507.8L812.0 505.8L812.3 503.8L812.6 501.9L812.8 499.9L813.1 497.9L813.4 495.9L813.7 493.9L814.0 492.0L814.3 490.0L814.6 488.0L814.8 486.0L815.1 484.0L815.4 482.1L815.7 480.1L816.0 478.1L816.3 476.1L816.7 474.2L817.0 472.2L817.3 470.2L817.6 468.2L817.9 466.3L818.2 464.3L818.6 462.3L818.9 460.3L819.2 458.4L819.6 456.4L819.9 454.4L820.3 452.5L820.6 450.5L821.0 448.5L821.3 446.6L821.7 444.6L822.1 442.6L822.4 440.7L822.8 438.7L823.2 436.7L823.6 434.8L824.0 432.8L824.4 430.9L824.8 428.9L825.2 426.9L825.6 425.0L826.1 423.0L826.5 421.1L827.0 419.1L827.4 417.2L827.9 415.2L828.4 413.3L828.9 411.4L829.4 409.4L829.9 407.5L830.5 405.6L831.0 403.7L831.6 401.7L832.2 399.8L832.8 397.9L833.4 396.0L834.0 394.1L834.7 392.2L835.3 390.3L836.0 388.5L836.8 386.6L837.6 384.8L838.4 383.0L839.3 381.2L840.3 379.5L841.5 377.9L842.7 376.4L844.1 375.1L845.6 374.0L847.3 373.3L849.0 373.0L850.8 373.2L852.5 373.7L854.1 374.6L855.7 375.8L857.1 377.1L858.5 378.5L859.9 380.0L861.2 381.5L862.5 383.0L863.7 384.6L864.9 386.1L866.2 387.7L867.4 389.3L868.6 390.9L869.8 392.5L871.0 394.1L872.2 395.7L873.5 397.3L874.7 398.8L876.0 400.4L877.2 401.9L878.5 403.5L879.7 405.0L881.0 406.6L882.1 408.2L883.3 409.9L884.3 411.6L885.4 413.3L886.4 415.0L887.3 416.8L888.2 418.6L889.1 420.4L889.9 422.2L890.7 424.0L891.4 425.9L892.2 427.7L892.9 429.6L893.6 431.5L894.3 433.3L894.9 435.2L895.5 437.1L896.1 439.0L896.7 441.0L897.3 442.9L897.8 444.8L898.3 446.7L898.8 448.7L899.4 450.6L899.9 452.5L900.4 454.5L900.8 456.4L901.3 458.3L901.8 460.3L902.2 462.2L902.7 464.2L903.2 466.1L903.6 468.1L904.0 470.0L904.5 472.0L904.9 473.9L905.3 475.9L905.7 477.9L906.1 479.8L906.5 481.8L907.0 483.7L907.4 485.7L907.8 487.6L908.2 489.6L908.6 491.6L909.0 493.5L909.4 495.5L909.8 497.4L910.2 499.4L910.6 501.4L911.0 503.3L911.4 505.3L911.8 507.2L912.2 509.2L912.6 511.2L913.0 513.1L913.4 515.1L913.8 517.0L914.1 519.0L914.5 521.0L914.9 522.9L915.3 524.9L915.7 526.9L916.1 528.8L916.4 530.8L916.8 532.7L917.2 534.7L917.6 536.7L918.0 538.6L918.4 540.6L918.8 542.5L919.2 544.5L919.6 546.5L919.9 548.4L920.3 550.4L920.7 552.4L921.0 554.3L921.3 556.3L921.7 558.3L922.0 560.3L922.3 562.2L922.5 564.2L922.8 566.2L923.0 568.2L923.2 570.2L923.4 572.2L923.6 574.2L923.7 576.2L923.8 578.2L923.9 580.2L924.0 582.1L924.1 584.1L924.2 586.1L924.3 588.1L924.4 590.1L924.5 592.1L924.6 594.1L924.7 596.1L924.8 598.1L924.9 600.1L925.1 602.1L925.3 604.1L925.5 606.1L925.8 608.1L926.1 610.1L926.4 612.0L926.7 614.0L927.1 616.0L927.5 617.9L927.9 619.9L928.4 621.8L928.8 623.8L929.3 625.7L929.8 627.7L930.3 629.6L930.8 631.5L931.3 633.5L931.8 635.4L932.4 637.3L932.9 639.2L933.5 641.2L934.0 643.1L934.6 645.0L935.2 646.9L935.7 648.8L936.3 650.7L936.9 652.7L937.5 654.6L938.1 656.5L938.7 658.4L939.3 660.3L939.9 662.2L940.5 664.1L941.2 666.0L941.8 667.9L942.5 669.8L943.2 671.6L943.9 673.5L944.6 675.4L945.3 677.3L946.0 679.1L946.8 681.0L947.6 682.8L948.4 684.6L949.2 686.4L950.1 688.2L951.0 690.0L951.9 691.8L952.9 693.5L953.9 695.3L955.0 697.0L956.1 698.6L957.2 700.2L958.5 701.8L959.8 703.3L961.2 704.7L962.7 705.8L964.3 706.7L966.1 707.3L967.9 707.6L969.7 707.4L971.6 707.0L973.3 706.2L975.0 705.2L976.5 704.0L978.0 702.7L979.4 701.3L980.6 699.8L981.8 698.2L982.9 696.5L983.9 694.8L984.8 693.0L985.7 691.2L986.6 689.4L987.4 687.6L988.3 685.8L989.0 684.0L989.8 682.1L990.6 680.3L991.4 678.4L992.2 676.6L993.0 674.7L993.7 672.9L994.5 671.1L995.3 669.2L996.1 667.4L996.8 665.5L997.6 663.7L998.3 661.8L999.0 659.9L999.8 658.1L1000.5 656.2L1001.3 654.4L1002.1 652.5L1002.9 650.7L1003.7 648.9L1004.6 647.1L1005.6 645.4L1006.6 643.7L1007.7 642.1L1009.0 640.5L1010.3 639.1L1011.8 637.9L1013.3 636.9L1015.0 636.3L1016.8 636.2L1018.6 636.4L1020.2 637.1L1021.8 638.1L1023.2 639.4L1024.5 640.9L1025.7 642.4L1026.8 644.1L1027.8 645.8L1028.7 647.6L1029.5 649.4L1030.3 651.2L1031.0 653.1L1031.8 655.0L1032.4 656.9L1033.1 658.7L1033.7 660.6L1034.3 662.6L1034.9 664.5L1035.4 666.4L1036.0 668.3L1036.6 670.2L1037.1 672.2L1037.6 674.1L1038.1 676.0L1038.6 677.9L1039.1 679.9L1039.6 681.8L1040.1 683.8L1040.5 685.7L1041.0 687.7L1041.4 689.6L1041.8 691.6L1042.2 693.5L1042.7 695.5L1043.1 697.5L1043.5 699.4L1043.9 701.4L1044.3 703.3L1044.7 705.3L1045.2 707.2L1045.6 709.2L1046.0 711.1L1046.5 713.1L1046.9 715.0L1047.4 717.0L1047.9 718.9L1048.4 720.8L1048.9 722.8L1049.4 724.7L1050.0 726.6L1050.5 728.6L1051.0 730.5L1051.6 732.4L1052.1 734.3L1052.7 736.3L1053.3 738.2L1053.9 740.1L1054.4 742.0L1055.0 743.9L1055.6 745.8L1056.2 747.7L1056.8 749.6L1057.4 751.5L1058.0 753.4L1058.6 755.4L1059.3 757.3L1059.9 759.2L1060.5 761.1L1061.1 763.0L1061.7 764.9L1062.4 766.8L1063.0 768.7L1063.6 770.6L1064.3 772.4L1064.9 774.3L1065.6 776.2L1066.2 778.1L1066.9 780.0L1067.6 781.9L1068.3 783.8L1069.0 785.6L1069.7 787.5L1070.4 789.4L1071.1 791.3L1071.8 793.1L1072.5 795.0L1073.3 796.8L1074.0 798.7L1074.8 800.5L1075.5 802.4L1076.3 804.2L1077.1 806.1L1077.9 807.9L1078.7 809.8L1079.5 811.6L1080.3 813.4L1081.1 815.2L1081.9 817.1L1082.8 818.9L1083.6 820.7L1084.4 822.5L1085.3 824.3L1086.1 826.1L1087.0 828.0L1087.8 829.8L1088.6 831.6L1089.5 833.4L1090.3 835.2L1091.1 837.0L1092.0 838.9L1092.8 840.7L1093.7 842.5L1094.5 844.3L1095.4 846.1L1096.2 847.9L1097.1 849.7L1098.0 851.5L1098.9 853.3L1099.8 855.0L1100.8 856.8L1101.7 858.6L1102.7 860.3L1103.8 862.0L1104.8 863.7L1105.9 865.4L1107.1 867.0L1108.2 868.6L1109.4 870.2L1110.7 871.8L1112.0 873.3L1113.3 874.8L1114.7 876.2L1116.1 877.6L1117.6 879.0L1119.0 880.4L1120.5 881.7L1122.0 883.0L1123.5 884.3L1125.1 885.6L1126.6 886.9L1128.1 888.2L1129.7 889.4L1131.2 890.7L1132.8 891.9L1134.4 893.2L1136.0 894.4L1137.6 895.5L1139.2 896.7L1140.9 897.9L1142.5 899.0L1144.2 900.1L1145.8 901.2L1147.5 902.3L1149.2 903.3L1150.9 904.4L1152.7 905.4L1154.4 906.4L1156.1 907.4L1157.9 908.3L1159.7 909.2L1161.5 910.1L1163.3 910.9L1165.1 911.7L1167.0 912.4L1168.9 913.2L1170.7 913.9L1172.6 914.6L1174.5 915.3L1176.3 916.0L1178.2 916.8L1180.0 917.5L1181.9 918.2L1183.8 919.0L1185.6 919.7L1187.5 920.4L1189.3 921.2L1191.2 921.9L1193.1 922.6L1195.0 923.3L1196.8 924.0L1198.7 924.6L1200.6 925.3L1202.5 925.9L1204.4 926.5L1206.3 927.1L1208.3 927.7L1210.2 928.2L1212.1 928.7L1214.0 929.2L1216.0 929.7L1217.9 930.2L1219.9 930.6L1221.8 931.1L1223.8 931.5L1225.7 932.0L1227.7 932.5L1229.6 932.9L1231.6 933.4L1233.5 933.9L1235.4 934.3L1237.4 934.8L1239.3 935.2L1241.3 935.7L1243.2 936.1L1245.2 936.6L1247.1 937.1L1249.1 937.6L1251.0 938.1L1252.9 938.6L1254.8 939.2L1256.8 939.8L1258.6 940.4L1260.5 941.1L1262.4 941.8L1264.2 942.5L1266.1 943.3L1267.9 944.1L1269.8 944.8L1271.6 945.6L1273.5 946.4L1275.3 947.1L1277.2 947.7L1279.1 948.4L1281.0 948.9L1283.0 949.4L1284.9 949.8L1286.9 950.1L1288.9 950.4L1290.9 950.6L1292.8 950.8L1294.8 950.9L1296.8 951.0L1298.8 951.0L1300.8 951.1L1302.8 951.1L1304.8 951.1L1306.8 951.2L1308.8 951.2L1310.8 951.2L1312.8 951.2L1314.8 951.2L1316.8 951.2L1318.8 951.2L1320.8 951.2L1322.8 951.1L1324.8 951.1L1326.8 951.1L1328.8 951.1L1330.8 951.0L1332.8 951.0L1334.8 951.0L1336.8 951.1L1338.8 951.1L1340.8 951.2L1342.8 951.3L1344.8 951.4L1346.8 951.6L1348.8 951.8L1350.8 951.9L1352.8 952.2L1354.8 952.4L1356.8 952.7L1358.7 952.9L1360.7 953.2L1362.7 953.6L1364.7 953.9L1366.6 954.3L1368.6 954.7L1370.5 955.1L1372.5 955.5L1374.4 956.0L1376.3 956.6L1378.3 957.1L1380.2 957.6L1382.1 958.2L1384.0 958.7L1386.0 959.2L1387.9 959.6L1389.9 960.0L1391.9 960.4L1393.8 960.6L1395.8 960.9L1397.8 961.0L1399.8 961.2L1401.8 961.3L1403.8 961.4L1405.8 961.4L1407.8 961.5L1409.8 961.6L1411.8 961.6L1413.8 961.7L1415.8 961.8L1417.8 961.9L1419.8 962.0L1421.8 962.1L1423.8 962.1L1425.8 962.2L1427.8 962.3L1429.7 962.4L1431.6 962.5L1433.3 962.5L1434.6 962.6L1437.0 962.7"/>
</g>
<line x1="680" y1="83.1" x2="827" y2="83.1" stroke="#515151" stroke-width="5.5"/>
<line x1="680" y1="161.4" x2="827" y2="161.4" stroke="#F14040" stroke-width="5.5"/>
<line x1="680" y1="239.3" x2="827" y2="239.3" stroke="#1A6FDF" stroke-width="5.5"/>
<text x="839" y="104" font-size="63.5">Pd/Beta-Al</text>
<text x="839" y="182" font-size="63.5">Pd/Beta-Al-750HTA</text>
<text x="839" y="260" font-size="63.5">Pd/Beta-Al-800HTA</text>
<rect x="134.0" y="34.5" width="1304.0" height="1006.3" fill="none" stroke="#000" stroke-width="7"/>
<line x1="134.0" y1="1040.8" x2="134.0" y2="1055.3" stroke="#000" stroke-width="6.3"/>
<line x1="242.7" y1="1040.8" x2="242.7" y2="1049.8" stroke="#000" stroke-width="6.3"/>
<line x1="351.3" y1="1040.8" x2="351.3" y2="1055.3" stroke="#000" stroke-width="6.3"/>
<line x1="460.0" y1="1040.8" x2="460.0" y2="1049.8" stroke="#000" stroke-width="6.3"/>
<line x1="568.7" y1="1040.8" x2="568.7" y2="1055.3" stroke="#000" stroke-width="6.3"/>
<line x1="677.3" y1="1040.8" x2="677.3" y2="1049.8" stroke="#000" stroke-width="6.3"/>
<line x1="786.0" y1="1040.8" x2="786.0" y2="1055.3" stroke="#000" stroke-width="6.3"/>
<line x1="894.7" y1="1040.8" x2="894.7" y2="1049.8" stroke="#000" stroke-width="6.3"/>
<line x1="1003.3" y1="1040.8" x2="1003.3" y2="1055.3" stroke="#000" stroke-width="6.3"/>
<line x1="1112.0" y1="1040.8" x2="1112.0" y2="1049.8" stroke="#000" stroke-width="6.3"/>
<line x1="1220.7" y1="1040.8" x2="1220.7" y2="1055.3" stroke="#000" stroke-width="6.3"/>
<line x1="1329.3" y1="1040.8" x2="1329.3" y2="1049.8" stroke="#000" stroke-width="6.3"/>
<line x1="1438.0" y1="1040.8" x2="1438.0" y2="1055.3" stroke="#000" stroke-width="6.3"/>
<text x="132.5" y="1103" font-size="65" text-anchor="middle">−95</text>
<text x="349.8" y="1103" font-size="65" text-anchor="middle">−100</text>
<text x="567.2" y="1103" font-size="65" text-anchor="middle">−105</text>
<text x="784.5" y="1103" font-size="65" text-anchor="middle">−110</text>
<text x="1001.8" y="1103" font-size="65" text-anchor="middle">−115</text>
<text x="1219.2" y="1103" font-size="65" text-anchor="middle">−120</text>
<text x="1436.5" y="1103" font-size="65" text-anchor="middle">−125</text>
<text x="511" y="1168" font-size="64.3">Chemical shift (ppm)</text>
<text transform="translate(80.8,706) rotate(-90)" font-size="64">Intensity (a.u.)</text>
<text x="158.4" y="200" font-size="165">(</text>
<text x="211.7" y="200" font-size="132">a</text>
<text x="271.8" y="200" font-size="165">)</text>
<text transform="translate(794.8,329) scale(1,0.998)" font-size="66.1">-111</text>
<text transform="translate(893.2,401.8) scale(1,1.006)" font-size="65.6">-112</text>
<text transform="translate(662,474.6) scale(1,0.987)" font-size="66.9">-110</text>
<text transform="translate(987,619.6) scale(1,1.026)" font-size="64.3">-115</text>
<text transform="translate(430.5,835) scale(1,1.039)" font-size="63.5">-103</text>
<text transform="translate(560.7,826) scale(1,1.038)" font-size="63.6">-107</text>
<g fill="none" stroke-width="6" stroke-linejoin="round" stroke-linecap="round">
<path stroke="#515151" d="M136.8 2122.5L139.6 2122.4L141.1 2122.4L142.9 2122.3L144.8 2122.3L146.8 2122.2L148.8 2122.2L150.8 2122.1L152.8 2122.1L154.8 2122.0L156.8 2121.9L158.8 2121.9L160.8 2121.8L162.8 2121.7L164.8 2121.7L166.8 2121.6L168.8 2121.5L170.8 2121.4L172.8 2121.3L174.8 2121.1L176.8 2121.0L178.8 2120.8L180.8 2120.7L182.7 2120.5L184.7 2120.3L186.7 2120.2L188.7 2120.0L190.7 2119.8L192.7 2119.6L194.7 2119.5L196.7 2119.3L198.7 2119.2L200.7 2119.1L202.7 2118.9L204.7 2118.8L206.7 2118.7L208.7 2118.6L210.7 2118.5L212.7 2118.4L214.7 2118.3L216.7 2118.2L218.7 2118.1L220.7 2118.1L222.7 2118.0L224.7 2118.0L226.7 2117.9L228.7 2117.9L230.7 2117.9L232.7 2118.0L234.7 2118.0L236.7 2118.1L238.7 2118.1L240.7 2118.2L242.7 2118.2L244.7 2118.2L246.6 2118.2L248.6 2118.1L250.6 2117.9L252.6 2117.7L254.6 2117.4L256.5 2117.0L258.5 2116.5L260.4 2115.9L262.3 2115.3L264.2 2114.7L266.1 2114.1L268.0 2113.5L269.9 2113.0L271.9 2112.6L273.8 2112.2L275.8 2111.9L277.8 2111.7L279.8 2111.5L281.8 2111.3L283.7 2111.1L285.7 2111.0L287.7 2110.8L289.7 2110.6L291.7 2110.5L293.7 2110.3L295.7 2110.1L297.7 2109.8L299.7 2109.6L301.7 2109.3L303.6 2109.0L305.6 2108.7L307.6 2108.4L309.5 2108.0L311.5 2107.7L313.5 2107.3L315.4 2106.9L317.4 2106.4L319.3 2106.0L321.3 2105.5L323.2 2105.0L325.1 2104.4L327.0 2103.8L328.9 2103.2L330.8 2102.6L332.7 2102.0L334.6 2101.3L336.5 2100.7L338.4 2100.1L340.4 2099.6L342.3 2099.1L344.2 2098.6L346.2 2098.2L348.2 2097.8L350.1 2097.5L352.1 2097.2L354.1 2096.9L356.0 2096.5L358.0 2096.2L360.0 2095.8L361.9 2095.3L363.8 2094.8L365.7 2094.2L367.6 2093.5L369.5 2092.8L371.3 2092.0L373.1 2091.2L375.0 2090.4L376.8 2089.5L378.6 2088.7L380.4 2087.8L382.2 2087.0L384.1 2086.3L385.9 2085.6L387.8 2085.0L389.7 2084.4L391.7 2084.0L393.6 2083.6L395.6 2083.3L397.5 2082.9L399.5 2082.4L401.4 2081.9L403.3 2081.3L405.2 2080.7L407.1 2080.0L409.0 2079.4L410.9 2078.7L412.8 2078.0L414.6 2077.3L416.5 2076.5L418.3 2075.7L420.1 2074.9L421.9 2074.0L423.7 2073.1L425.4 2072.1L427.2 2071.1L428.9 2070.1L430.6 2069.0L432.3 2068.0L433.9 2066.9L435.6 2065.8L437.4 2064.8L439.1 2063.8L440.9 2062.9L442.7 2062.0L444.5 2061.2L446.3 2060.4L448.2 2059.7L450.1 2059.0L452.0 2058.4L453.9 2057.8L455.8 2057.2L457.7 2056.7L459.6 2056.1L461.6 2055.7L463.5 2055.3L465.5 2054.9L467.5 2054.6L469.4 2054.3L471.4 2054.1L473.4 2054.0L475.4 2054.0L477.4 2054.0L479.4 2054.1L481.4 2054.3L483.4 2054.6L485.3 2054.9L487.2 2055.4L489.1 2055.9L491.0 2056.7L492.8 2057.5L494.5 2058.4L496.3 2059.3L498.0 2060.3L499.8 2061.3L501.6 2062.2L503.3 2063.1L505.1 2064.1L506.9 2064.9L508.7 2065.7L510.6 2066.4L512.5 2067.1L514.4 2067.6L516.3 2068.1L518.3 2068.4L520.3 2068.7L522.2 2069.0L524.2 2069.2L526.2 2069.4L528.2 2069.6L530.2 2069.7L532.2 2069.9L534.2 2070.0L536.2 2070.2L538.2 2070.3L540.2 2070.5L542.2 2070.6L544.2 2070.8L546.1 2071.0L548.1 2071.2L550.1 2071.3L552.1 2071.5L554.1 2071.7L556.1 2071.9L558.1 2072.0L560.1 2072.2L562.1 2072.3L564.1 2072.5L566.1 2072.6L568.1 2072.7L570.1 2072.8L572.1 2073.0L574.1 2073.1L576.1 2073.2L578.1 2073.3L580.1 2073.3L582.0 2073.3L584.0 2073.1L586.0 2072.9L588.0 2072.6L589.9 2072.1L591.8 2071.5L593.7 2070.9L595.5 2070.1L597.3 2069.3L599.1 2068.5L601.0 2067.7L602.8 2066.9L604.7 2066.3L606.6 2065.7L608.5 2065.2L610.5 2064.8L612.4 2064.4L614.4 2064.1L616.4 2063.9L618.4 2063.7L620.4 2063.5L622.4 2063.2L624.4 2063.0L626.3 2062.8L628.3 2062.5L630.3 2062.2L632.2 2061.8L634.2 2061.4L636.1 2060.9L638.0 2060.3L639.9 2059.7L641.8 2059.1L643.7 2058.3L645.5 2057.6L647.4 2056.8L649.2 2056.0L651.0 2055.1L652.8 2054.2L654.6 2053.3L656.4 2052.4L658.1 2051.5L659.9 2050.5L661.6 2049.6L663.4 2048.6L665.1 2047.6L666.8 2046.6L668.5 2045.5L670.2 2044.5L671.9 2043.4L673.6 2042.2L675.2 2041.1L676.8 2039.9L678.4 2038.7L679.9 2037.4L681.4 2036.1L682.9 2034.8L684.4 2033.4L685.8 2032.0L687.2 2030.6L688.6 2029.2L690.0 2027.7L691.4 2026.2L692.7 2024.8L694.1 2023.3L695.4 2021.8L696.7 2020.3L698.1 2018.8L699.4 2017.4L700.8 2015.9L702.1 2014.4L703.4 2012.8L704.6 2011.3L705.8 2009.7L707.0 2008.1L708.1 2006.4L709.1 2004.7L710.1 2003.0L711.0 2001.2L711.9 1999.4L712.8 1997.6L713.5 1995.8L714.3 1993.9L715.1 1992.1L715.8 1990.2L716.5 1988.3L717.3 1986.5L718.0 1984.6L718.8 1982.8L719.6 1981.0L720.4 1979.1L721.3 1977.3L722.2 1975.5L723.0 1973.7L723.9 1971.9L724.7 1970.1L725.5 1968.3L726.3 1966.4L727.0 1964.6L727.7 1962.7L728.4 1960.8L729.0 1958.9L729.7 1957.0L730.3 1955.1L730.9 1953.2L731.5 1951.3L732.1 1949.4L732.7 1947.5L733.3 1945.6L733.9 1943.7L734.5 1941.8L735.1 1939.9L735.7 1938.0L736.2 1936.0L736.8 1934.1L737.4 1932.2L738.0 1930.3L738.6 1928.4L739.1 1926.5L739.7 1924.6L740.3 1922.6L740.8 1920.7L741.4 1918.8L742.0 1916.9L742.5 1915.0L743.1 1913.0L743.7 1911.1L744.2 1909.2L744.8 1907.3L745.3 1905.4L745.9 1903.4L746.5 1901.5L747.0 1899.6L747.6 1897.7L748.1 1895.8L748.7 1893.8L749.3 1891.9L749.8 1890.0L750.4 1888.1L750.9 1886.2L751.5 1884.2L752.0 1882.3L752.6 1880.4L753.2 1878.5L753.7 1876.6L754.3 1874.6L754.8 1872.7L755.4 1870.8L755.9 1868.9L756.4 1866.9L757.0 1865.0L757.5 1863.1L758.0 1861.1L758.6 1859.2L759.1 1857.3L759.6 1855.4L760.1 1853.4L760.6 1851.5L761.1 1849.6L761.6 1847.6L762.1 1845.7L762.6 1843.7L763.0 1841.8L763.5 1839.8L764.0 1837.9L764.4 1835.9L764.9 1834.0L765.3 1832.0L765.7 1830.1L766.1 1828.1L766.6 1826.2L767.0 1824.2L767.4 1822.3L767.8 1820.3L768.2 1818.3L768.5 1816.4L768.9 1814.4L769.3 1812.5L769.7 1810.5L770.1 1808.5L770.4 1806.6L770.8 1804.6L771.2 1802.6L771.6 1800.7L771.9 1798.7L772.3 1796.7L772.7 1794.8L773.1 1792.8L773.4 1790.8L773.8 1788.9L774.2 1786.9L774.6 1785.0L775.0 1783.0L775.4 1781.0L775.8 1779.1L776.2 1777.1L776.6 1775.2L777.0 1773.2L777.4 1771.3L777.9 1769.3L778.3 1767.3L778.7 1765.4L779.1 1763.4L779.5 1761.5L779.9 1759.5L780.4 1757.6L780.8 1755.6L781.2 1753.6L781.6 1751.7L782.1 1749.7L782.5 1747.8L782.9 1745.8L783.3 1743.9L783.8 1741.9L784.2 1740.0L784.6 1738.0L785.0 1736.1L785.5 1734.1L785.9 1732.1L786.3 1730.2L786.7 1728.2L787.1 1726.3L787.6 1724.3L788.0 1722.4L788.4 1720.4L788.8 1718.5L789.3 1716.5L789.7 1714.6L790.1 1712.6L790.5 1710.6L791.0 1708.7L791.4 1706.7L791.8 1704.8L792.2 1702.8L792.7 1700.9L793.1 1698.9L793.5 1697.0L793.9 1695.0L794.4 1693.1L794.8 1691.1L795.2 1689.2L795.6 1687.2L796.1 1685.2L796.5 1683.3L796.9 1681.3L797.3 1679.4L797.7 1677.4L798.2 1675.5L798.6 1673.5L799.0 1671.6L799.4 1669.6L799.8 1667.6L800.2 1665.7L800.6 1663.7L801.0 1661.8L801.4 1659.8L801.8 1657.8L802.2 1655.9L802.6 1653.9L803.0 1652.0L803.3 1650.0L803.7 1648.0L804.1 1646.1L804.4 1644.1L804.8 1642.1L805.1 1640.1L805.5 1638.2L805.8 1636.2L806.2 1634.2L806.5 1632.3L806.9 1630.3L807.2 1628.3L807.6 1626.4L807.9 1624.4L808.3 1622.4L808.7 1620.5L809.0 1618.5L809.4 1616.5L809.8 1614.6L810.2 1612.6L810.6 1610.7L811.0 1608.7L811.5 1606.8L811.9 1604.8L812.4 1602.9L812.9 1600.9L813.5 1599.0L814.0 1597.1L814.6 1595.2L815.3 1593.3L816.0 1591.4L816.7 1589.6L817.5 1587.7L818.3 1585.9L819.2 1584.1L820.1 1582.3L821.1 1580.6L822.1 1578.9L823.2 1577.2L824.3 1575.6L825.6 1574.0L826.9 1572.6L828.3 1571.3L829.9 1570.2L831.6 1569.4L833.4 1568.9L835.3 1568.7L837.2 1568.8L839.1 1569.2L840.9 1569.8L842.7 1570.6L844.4 1571.6L845.9 1572.8L847.4 1574.1L848.8 1575.5L850.1 1577.0L851.3 1578.6L852.5 1580.2L853.6 1581.9L854.6 1583.6L855.6 1585.3L856.6 1587.1L857.5 1588.8L858.4 1590.6L859.3 1592.4L860.1 1594.2L860.9 1596.1L861.7 1597.9L862.5 1599.7L863.2 1601.6L863.9 1603.5L864.6 1605.3L865.3 1607.2L866.0 1609.1L866.7 1611.0L867.3 1612.9L867.9 1614.8L868.6 1616.7L869.2 1618.6L869.8 1620.5L870.4 1622.4L871.0 1624.3L871.6 1626.2L872.2 1628.1L872.8 1630.0L873.4 1631.9L874.0 1633.8L874.6 1635.7L875.2 1637.6L875.8 1639.6L876.5 1641.5L877.1 1643.4L877.7 1645.2L878.3 1647.1L879.0 1649.0L879.6 1650.9L880.2 1652.9L880.8 1654.8L881.3 1656.7L881.9 1658.6L882.4 1660.5L882.9 1662.5L883.4 1664.4L883.9 1666.4L884.4 1668.3L884.8 1670.2L885.3 1672.2L885.8 1674.1L886.2 1676.1L886.7 1678.0L887.1 1680.0L887.6 1681.9L888.0 1683.9L888.4 1685.8L888.9 1687.8L889.3 1689.7L889.8 1691.7L890.2 1693.6L890.7 1695.6L891.1 1697.5L891.6 1699.5L892.0 1701.4L892.5 1703.4L892.9 1705.3L893.4 1707.3L893.8 1709.2L894.2 1711.2L894.7 1713.1L895.1 1715.1L895.5 1717.0L896.0 1719.0L896.4 1720.9L896.8 1722.9L897.3 1724.8L897.7 1726.8L898.1 1728.7L898.6 1730.7L899.0 1732.7L899.4 1734.6L899.8 1736.6L900.3 1738.5L900.7 1740.5L901.1 1742.4L901.5 1744.4L902.0 1746.3L902.4 1748.3L902.8 1750.2L903.2 1752.2L903.7 1754.2L904.1 1756.1L904.5 1758.1L904.9 1760.0L905.3 1762.0L905.7 1763.9L906.1 1765.9L906.5 1767.9L907.0 1769.8L907.4 1771.8L907.8 1773.7L908.2 1775.7L908.6 1777.6L909.0 1779.6L909.4 1781.6L909.8 1783.5L910.2 1785.5L910.6 1787.4L911.0 1789.4L911.4 1791.4L911.8 1793.3L912.2 1795.3L912.5 1797.2L912.9 1799.2L913.3 1801.2L913.7 1803.1L914.1 1805.1L914.4 1807.1L914.8 1809.0L915.1 1811.0L915.5 1813.0L915.8 1814.9L916.2 1816.9L916.5 1818.9L916.9 1820.9L917.2 1822.8L917.6 1824.8L918.0 1826.8L918.3 1828.7L918.7 1830.7L919.1 1832.6L919.6 1834.6L920.0 1836.5L920.5 1838.5L921.0 1840.4L921.5 1842.4L922.0 1844.3L922.5 1846.2L923.1 1848.1L923.6 1850.1L924.2 1852.0L924.8 1853.9L925.4 1855.8L926.0 1857.7L926.6 1859.6L927.3 1861.5L927.9 1863.4L928.5 1865.3L929.2 1867.2L929.9 1869.1L930.5 1870.9L931.2 1872.8L931.9 1874.7L932.6 1876.6L933.4 1878.4L934.1 1880.3L934.9 1882.1L935.8 1883.9L936.6 1885.7L937.5 1887.5L938.5 1889.3L939.5 1891.0L940.4 1892.7L941.4 1894.5L942.5 1896.2L943.5 1897.9L944.6 1899.6L945.8 1901.2L947.0 1902.7L948.4 1904.2L949.8 1905.5L951.3 1906.8L953.0 1907.9L954.7 1908.9L956.4 1909.9L958.2 1910.7L960.1 1911.4L962.0 1912.0L963.9 1912.4L965.8 1912.7L967.8 1912.9L969.8 1912.8L971.8 1912.7L973.7 1912.4L975.7 1912.1L977.6 1911.7L979.6 1911.2L981.5 1910.7L983.5 1910.2L985.4 1909.6L987.3 1909.0L989.2 1908.3L991.0 1907.7L992.9 1907.1L994.8 1906.6L996.8 1906.3L998.7 1906.2L1000.7 1906.3L1002.6 1906.6L1004.4 1907.2L1006.2 1907.9L1007.9 1908.9L1009.5 1910.0L1011.0 1911.3L1012.5 1912.7L1013.9 1914.1L1015.2 1915.6L1016.5 1917.1L1017.7 1918.7L1018.9 1920.3L1020.0 1921.9L1021.2 1923.6L1022.3 1925.3L1023.3 1927.0L1024.3 1928.7L1025.3 1930.4L1026.2 1932.2L1027.2 1934.0L1028.0 1935.8L1028.9 1937.6L1029.7 1939.4L1030.5 1941.2L1031.3 1943.0L1032.1 1944.9L1032.9 1946.7L1033.7 1948.5L1034.5 1950.4L1035.3 1952.2L1036.0 1954.1L1036.8 1955.9L1037.6 1957.8L1038.3 1959.6L1039.1 1961.5L1039.8 1963.3L1040.5 1965.2L1041.3 1967.1L1042.0 1968.9L1042.7 1970.8L1043.4 1972.7L1044.2 1974.5L1044.9 1976.4L1045.7 1978.2L1046.4 1980.1L1047.2 1981.9L1047.9 1983.8L1048.7 1985.6L1049.5 1987.5L1050.3 1989.3L1051.1 1991.1L1051.9 1992.9L1052.8 1994.8L1053.6 1996.6L1054.4 1998.4L1055.3 2000.2L1056.1 2002.0L1057.0 2003.8L1057.9 2005.6L1058.8 2007.4L1059.7 2009.2L1060.6 2011.0L1061.5 2012.7L1062.4 2014.5L1063.4 2016.3L1064.3 2018.1L1065.3 2019.8L1066.2 2021.6L1067.2 2023.3L1068.2 2025.0L1069.3 2026.7L1070.3 2028.4L1071.4 2030.1L1072.5 2031.8L1073.6 2033.4L1074.8 2035.1L1076.0 2036.7L1077.2 2038.3L1078.4 2039.9L1079.6 2041.5L1080.8 2043.1L1082.0 2044.6L1083.2 2046.2L1084.5 2047.8L1085.7 2049.3L1087.0 2050.9L1088.3 2052.4L1089.6 2054.0L1090.8 2055.5L1092.1 2057.0L1093.5 2058.5L1094.8 2060.0L1096.1 2061.5L1097.4 2063.0L1098.8 2064.5L1100.2 2065.9L1101.6 2067.4L1103.0 2068.8L1104.4 2070.2L1105.9 2071.5L1107.3 2072.9L1108.8 2074.2L1110.3 2075.6L1111.8 2076.9L1113.4 2078.1L1114.9 2079.4L1116.5 2080.6L1118.1 2081.8L1119.7 2083.0L1121.3 2084.2L1122.9 2085.4L1124.5 2086.6L1126.2 2087.7L1127.8 2088.9L1129.5 2090.0L1131.1 2091.1L1132.8 2092.2L1134.5 2093.2L1136.3 2094.2L1138.1 2095.1L1139.9 2095.9L1141.7 2096.7L1143.5 2097.4L1145.4 2098.1L1147.3 2098.7L1149.3 2099.2L1151.2 2099.6L1153.2 2100.0L1155.2 2100.3L1157.1 2100.6L1159.1 2100.8L1161.1 2101.1L1163.1 2101.3L1165.1 2101.5L1167.1 2101.7L1169.1 2101.9L1171.0 2102.2L1173.0 2102.4L1175.0 2102.7L1177.0 2103.0L1178.9 2103.4L1180.9 2103.8L1182.9 2104.2L1184.8 2104.6L1186.8 2105.1L1188.7 2105.6L1190.6 2106.1L1192.6 2106.6L1194.5 2107.1L1196.4 2107.6L1198.4 2108.1L1200.3 2108.6L1202.2 2109.1L1204.2 2109.6L1206.1 2110.1L1208.0 2110.6L1210.0 2111.1L1211.9 2111.7L1213.8 2112.2L1215.8 2112.7L1217.7 2113.2L1219.6 2113.7L1221.6 2114.2L1223.5 2114.7L1225.5 2115.1L1227.4 2115.6L1229.4 2116.0L1231.3 2116.4L1233.3 2116.7L1235.3 2117.1L1237.3 2117.4L1239.2 2117.7L1241.2 2117.9L1243.2 2118.2L1245.2 2118.4L1247.2 2118.7L1249.2 2118.9L1251.1 2119.1L1253.1 2119.3L1255.1 2119.4L1257.1 2119.6L1259.1 2119.7L1261.1 2119.8L1263.1 2119.9L1265.1 2120.0L1267.1 2120.1L1269.1 2120.2L1271.1 2120.2L1273.1 2120.3L1275.1 2120.4L1277.1 2120.4L1279.1 2120.5L1281.1 2120.6L1283.1 2120.7L1285.1 2120.9L1287.1 2121.0L1289.1 2121.2L1291.1 2121.5L1293.0 2121.7L1295.0 2122.0L1297.0 2122.3L1299.0 2122.7L1300.9 2123.1L1302.9 2123.5L1304.8 2123.9L1306.8 2124.3L1308.8 2124.7L1310.7 2125.1L1312.7 2125.5L1314.6 2125.9L1316.6 2126.3L1318.6 2126.6L1320.5 2127.0L1322.5 2127.4L1324.4 2127.8L1326.4 2128.2L1328.4 2128.6L1330.3 2128.9L1332.3 2129.2L1334.3 2129.5L1336.3 2129.8L1338.3 2130.0L1340.2 2130.2L1342.2 2130.3L1344.2 2130.4L1346.2 2130.5L1348.2 2130.5L1350.2 2130.5L1352.2 2130.5L1354.2 2130.5L1356.2 2130.4L1358.2 2130.4L1360.2 2130.3L1362.2 2130.2L1364.2 2130.1L1366.2 2130.0L1368.2 2129.8L1370.2 2129.7L1372.2 2129.6L1374.2 2129.4L1376.2 2129.2L1378.2 2129.0L1380.2 2128.8L1382.2 2128.6L1384.1 2128.3L1386.1 2128.1L1388.1 2127.8L1390.1 2127.5L1392.1 2127.2L1394.0 2126.9L1396.0 2126.7L1398.0 2126.5L1400.0 2126.2L1402.0 2126.1L1404.0 2125.9L1406.0 2125.7L1408.0 2125.6L1410.0 2125.4L1412.0 2125.3L1414.0 2125.2L1415.9 2125.0L1417.9 2124.9L1419.9 2124.8L1421.9 2124.7L1423.9 2124.6L1425.9 2124.4L1427.9 2124.3L1429.9 2124.2L1431.7 2124.1L1433.4 2124.0L1434.8 2123.9L1437.0 2123.8"/>
<path stroke="#F14040" d="M136.8 2124.7L139.6 2124.6L141.1 2124.5L142.9 2124.5L144.8 2124.4L146.8 2124.3L148.8 2124.2L150.8 2124.2L152.8 2124.1L154.8 2124.0L156.8 2123.9L158.8 2123.8L160.8 2123.8L162.8 2123.7L164.8 2123.6L166.8 2123.5L168.8 2123.4L170.8 2123.3L172.8 2123.2L174.8 2123.0L176.8 2122.9L178.8 2122.7L180.7 2122.6L182.7 2122.4L184.7 2122.2L186.7 2122.1L188.7 2121.9L190.7 2121.8L192.7 2121.6L194.7 2121.5L196.7 2121.5L198.7 2121.4L200.7 2121.4L202.7 2121.5L204.7 2121.6L206.7 2121.7L208.7 2122.0L210.6 2122.2L212.6 2122.5L214.6 2122.9L216.5 2123.2L218.5 2123.6L220.5 2124.0L222.4 2124.4L224.4 2124.7L226.4 2125.1L228.4 2125.4L230.3 2125.6L232.3 2125.8L234.3 2125.9L236.3 2126.0L238.3 2126.1L240.3 2126.2L242.3 2126.2L244.3 2126.2L246.3 2126.1L248.3 2126.1L250.3 2126.0L252.3 2125.9L254.3 2125.8L256.3 2125.7L258.3 2125.5L260.3 2125.3L262.3 2125.1L264.3 2124.9L266.2 2124.6L268.2 2124.3L270.2 2124.0L272.1 2123.6L274.1 2123.1L276.0 2122.6L277.9 2122.1L279.9 2121.6L281.8 2121.0L283.7 2120.5L285.6 2119.9L287.6 2119.4L289.5 2118.9L291.5 2118.5L293.4 2118.1L295.4 2117.7L297.3 2117.4L299.3 2117.1L301.3 2116.9L303.3 2116.6L305.3 2116.4L307.3 2116.2L309.3 2116.0L311.3 2115.9L313.3 2115.7L315.2 2115.5L317.2 2115.4L319.2 2115.3L321.2 2115.1L323.2 2115.0L325.2 2115.0L327.2 2114.9L329.2 2114.9L331.2 2114.9L333.2 2114.9L335.2 2114.8L337.2 2114.8L339.2 2114.7L341.2 2114.6L343.2 2114.4L345.2 2114.2L347.1 2113.8L349.1 2113.4L351.0 2112.9L352.9 2112.3L354.8 2111.6L356.6 2110.8L358.4 2110.0L360.2 2109.1L362.0 2108.2L363.8 2107.3L365.6 2106.4L367.4 2105.6L369.2 2104.7L371.0 2103.9L372.9 2103.2L374.8 2102.5L376.6 2101.7L378.5 2101.1L380.4 2100.4L382.3 2099.7L384.1 2099.0L386.0 2098.3L387.9 2097.6L389.7 2096.8L391.5 2096.0L393.3 2095.1L395.1 2094.3L396.9 2093.4L398.7 2092.7L400.5 2092.1L402.5 2091.6L404.4 2091.2L406.4 2090.9L408.4 2090.6L410.3 2090.3L412.3 2090.1L414.3 2089.8L416.3 2089.5L418.3 2089.3L420.2 2089.0L422.2 2088.7L424.2 2088.3L426.1 2087.9L428.1 2087.5L430.0 2087.1L432.0 2086.6L433.9 2086.0L435.8 2085.5L437.7 2084.9L439.7 2084.3L441.6 2083.7L443.5 2083.1L445.4 2082.6L447.3 2082.1L449.3 2081.6L451.2 2081.2L453.2 2080.9L455.2 2080.7L457.2 2080.5L459.1 2080.5L461.1 2080.5L463.1 2080.6L465.1 2080.8L467.1 2081.1L469.1 2081.3L471.1 2081.6L473.0 2081.9L475.0 2082.2L477.0 2082.4L479.0 2082.7L481.0 2082.9L483.0 2083.1L484.9 2083.4L486.9 2083.6L488.9 2083.9L490.9 2084.1L492.9 2084.4L494.9 2084.6L496.8 2084.9L498.8 2085.2L500.8 2085.5L502.8 2085.8L504.8 2086.1L506.7 2086.4L508.7 2086.8L510.7 2087.1L512.6 2087.5L514.6 2087.9L516.6 2088.3L518.5 2088.7L520.5 2089.2L522.4 2089.6L524.4 2089.9L526.3 2090.2L528.3 2090.3L530.3 2090.4L532.3 2090.4L534.3 2090.3L536.3 2090.1L538.3 2089.9L540.3 2089.7L542.2 2089.5L544.2 2089.2L546.2 2088.9L548.2 2088.6L550.2 2088.4L552.1 2088.1L554.1 2087.9L556.1 2087.6L558.1 2087.5L560.1 2087.3L562.1 2087.2L564.1 2087.1L566.1 2087.1L568.1 2087.2L570.1 2087.3L572.1 2087.5L574.1 2087.7L576.0 2087.9L578.0 2088.2L580.0 2088.4L582.0 2088.6L584.0 2088.8L586.0 2089.0L588.0 2089.0L590.0 2089.1L592.0 2089.0L594.0 2088.9L596.0 2088.8L597.9 2088.6L599.9 2088.4L601.9 2088.1L603.9 2087.8L605.9 2087.5L607.8 2087.2L609.8 2086.8L611.8 2086.5L613.7 2086.1L615.7 2085.7L617.6 2085.2L619.6 2084.8L621.5 2084.3L623.5 2083.8L625.4 2083.3L627.3 2082.7L629.2 2082.1L631.1 2081.5L633.0 2080.9L634.9 2080.2L636.8 2079.5L638.7 2078.8L640.5 2078.1L642.4 2077.4L644.3 2076.7L646.1 2075.9L648.0 2075.2L649.8 2074.4L651.6 2073.6L653.5 2072.8L655.3 2071.9L657.1 2071.1L658.9 2070.2L660.7 2069.4L662.5 2068.5L664.2 2067.5L666.0 2066.6L667.8 2065.6L669.5 2064.7L671.2 2063.7L673.0 2062.7L674.7 2061.7L676.4 2060.7L678.2 2059.7L679.9 2058.7L681.7 2057.7L683.4 2056.8L685.2 2055.9L687.0 2055.0L688.8 2054.1L690.6 2053.3L692.4 2052.4L694.2 2051.5L695.9 2050.5L697.6 2049.5L699.3 2048.4L700.9 2047.3L702.6 2046.1L704.2 2044.9L705.8 2043.7L707.3 2042.4L708.8 2041.1L710.3 2039.7L711.7 2038.3L713.0 2036.9L714.3 2035.4L715.6 2033.8L716.8 2032.2L718.0 2030.6L719.2 2029.0L720.3 2027.3L721.4 2025.7L722.5 2024.0L723.5 2022.3L724.6 2020.6L725.6 2018.9L726.7 2017.2L727.7 2015.5L728.7 2013.8L729.8 2012.1L730.8 2010.3L731.8 2008.6L732.8 2006.9L733.8 2005.2L734.8 2003.4L735.8 2001.7L736.8 2000.0L737.8 1998.2L738.8 1996.5L739.7 1994.7L740.7 1993.0L741.6 1991.2L742.6 1989.4L743.5 1987.7L744.5 1985.9L745.4 1984.2L746.4 1982.4L747.4 1980.7L748.4 1978.9L749.4 1977.2L750.4 1975.5L751.4 1973.8L752.4 1972.0L753.3 1970.2L754.1 1968.4L754.8 1966.6L755.5 1964.7L756.2 1962.8L756.7 1960.9L757.3 1959.0L757.8 1957.0L758.3 1955.1L758.8 1953.2L759.2 1951.2L759.6 1949.3L760.1 1947.3L760.5 1945.3L760.9 1943.4L761.2 1941.4L761.6 1939.5L762.0 1937.5L762.4 1935.5L762.8 1933.6L763.1 1931.6L763.5 1929.6L763.9 1927.7L764.2 1925.7L764.6 1923.7L765.0 1921.8L765.4 1919.8L765.7 1917.8L766.1 1915.9L766.5 1913.9L766.9 1912.0L767.3 1910.0L767.7 1908.0L768.2 1906.1L768.6 1904.1L769.0 1902.2L769.5 1900.2L769.9 1898.3L770.4 1896.3L770.9 1894.4L771.4 1892.5L771.9 1890.5L772.4 1888.6L772.9 1886.7L773.4 1884.7L774.0 1882.8L774.5 1880.9L775.0 1879.0L775.6 1877.0L776.1 1875.1L776.7 1873.2L777.2 1871.2L777.7 1869.3L778.3 1867.4L778.8 1865.5L779.4 1863.5L779.9 1861.6L780.4 1859.7L781.0 1857.8L781.5 1855.8L782.0 1853.9L782.5 1852.0L783.0 1850.0L783.5 1848.1L784.0 1846.2L784.5 1844.2L784.9 1842.3L785.4 1840.3L785.8 1838.4L786.3 1836.4L786.7 1834.5L787.1 1832.5L787.6 1830.6L788.0 1828.6L788.4 1826.6L788.8 1824.7L789.2 1822.7L789.6 1820.8L790.0 1818.8L790.4 1816.8L790.7 1814.9L791.1 1812.9L791.5 1811.0L791.9 1809.0L792.2 1807.0L792.6 1805.1L793.0 1803.1L793.3 1801.1L793.7 1799.1L794.0 1797.2L794.4 1795.2L794.7 1793.2L795.1 1791.3L795.4 1789.3L795.7 1787.3L796.1 1785.4L796.4 1783.4L796.8 1781.4L797.1 1779.4L797.4 1777.5L797.7 1775.5L798.0 1773.5L798.4 1771.5L798.7 1769.6L799.0 1767.6L799.3 1765.6L799.5 1763.6L799.8 1761.7L800.1 1759.7L800.4 1757.7L800.7 1755.7L801.0 1753.7L801.2 1751.8L801.5 1749.8L801.8 1747.8L802.1 1745.8L802.3 1743.8L802.6 1741.9L802.9 1739.9L803.2 1737.9L803.5 1735.9L803.8 1733.9L804.1 1732.0L804.4 1730.0L804.7 1728.0L805.0 1726.0L805.3 1724.1L805.7 1722.1L806.0 1720.1L806.3 1718.1L806.7 1716.2L807.1 1714.2L807.4 1712.2L807.8 1710.3L808.2 1708.3L808.5 1706.3L808.9 1704.4L809.3 1702.4L809.7 1700.5L810.1 1698.5L810.5 1696.5L810.9 1694.6L811.3 1692.6L811.7 1690.7L812.1 1688.7L812.5 1686.7L812.9 1684.8L813.3 1682.8L813.7 1680.9L814.1 1678.9L814.5 1676.9L814.9 1675.0L815.3 1673.0L815.7 1671.1L816.1 1669.1L816.4 1667.1L816.8 1665.2L817.2 1663.2L817.6 1661.2L817.9 1659.3L818.3 1657.3L818.6 1655.3L819.0 1653.4L819.3 1651.4L819.6 1649.4L820.0 1647.4L820.3 1645.5L820.6 1643.5L820.9 1641.5L821.3 1639.6L821.6 1637.6L821.9 1635.6L822.2 1633.6L822.5 1631.7L822.9 1629.7L823.2 1627.7L823.5 1625.7L823.8 1623.8L824.1 1621.8L824.5 1619.8L824.8 1617.8L825.1 1615.9L825.5 1613.9L825.8 1611.9L826.2 1610.0L826.5 1608.0L826.9 1606.0L827.3 1604.1L827.7 1602.1L828.2 1600.2L828.7 1598.2L829.3 1596.4L830.0 1594.6L830.9 1592.9L832.0 1591.3L833.3 1589.9L834.8 1588.6L836.3 1587.3L837.9 1586.2L839.5 1585.3L841.3 1584.7L843.0 1584.5L844.8 1584.6L846.6 1585.2L848.3 1586.1L849.8 1587.2L851.4 1588.5L852.8 1589.8L854.2 1591.3L855.5 1592.8L856.8 1594.3L858.0 1595.9L859.2 1597.5L860.3 1599.1L861.5 1600.8L862.6 1602.4L863.6 1604.1L864.7 1605.8L865.8 1607.5L866.8 1609.2L867.9 1610.9L869.0 1612.6L870.0 1614.3L871.1 1616.0L872.2 1617.6L873.3 1619.3L874.4 1621.0L875.4 1622.7L876.5 1624.4L877.5 1626.1L878.5 1627.8L879.5 1629.6L880.5 1631.3L881.4 1633.1L882.2 1634.9L883.1 1636.7L883.9 1638.5L884.7 1640.4L885.4 1642.2L886.1 1644.1L886.8 1646.0L887.4 1647.9L888.1 1649.8L888.7 1651.7L889.3 1653.6L889.9 1655.5L890.4 1657.4L891.0 1659.3L891.5 1661.3L892.0 1663.2L892.5 1665.1L893.0 1667.1L893.4 1669.0L893.9 1671.0L894.3 1672.9L894.7 1674.9L895.1 1676.8L895.5 1678.8L896.0 1680.8L896.4 1682.7L896.8 1684.7L897.2 1686.6L897.6 1688.6L898.0 1690.5L898.5 1692.5L898.9 1694.5L899.3 1696.4L899.7 1698.4L900.2 1700.3L900.6 1702.3L901.0 1704.2L901.4 1706.2L901.9 1708.1L902.3 1710.1L902.7 1712.0L903.1 1714.0L903.5 1716.0L904.0 1717.9L904.4 1719.9L904.8 1721.8L905.2 1723.8L905.6 1725.7L906.0 1727.7L906.4 1729.7L906.8 1731.6L907.2 1733.6L907.6 1735.5L908.0 1737.5L908.4 1739.5L908.8 1741.4L909.2 1743.4L909.6 1745.3L910.0 1747.3L910.4 1749.3L910.8 1751.2L911.2 1753.2L911.6 1755.1L912.0 1757.1L912.4 1759.1L912.8 1761.0L913.2 1763.0L913.6 1764.9L914.0 1766.9L914.4 1768.9L914.8 1770.8L915.1 1772.8L915.5 1774.7L915.9 1776.7L916.3 1778.7L916.7 1780.6L917.1 1782.6L917.4 1784.6L917.8 1786.5L918.2 1788.5L918.6 1790.5L919.0 1792.4L919.3 1794.4L919.7 1796.3L920.1 1798.3L920.4 1800.3L920.8 1802.2L921.1 1804.2L921.5 1806.2L921.8 1808.2L922.1 1810.1L922.4 1812.1L922.8 1814.1L923.1 1816.1L923.4 1818.0L923.7 1820.0L924.0 1822.0L924.4 1824.0L924.7 1825.9L925.1 1827.9L925.5 1829.8L925.9 1831.8L926.3 1833.8L926.7 1835.7L927.2 1837.7L927.6 1839.6L928.1 1841.5L928.6 1843.5L929.2 1845.4L929.7 1847.3L930.2 1849.3L930.8 1851.2L931.3 1853.1L931.9 1855.0L932.5 1856.9L933.1 1858.9L933.6 1860.8L934.2 1862.7L934.9 1864.6L935.5 1866.5L936.1 1868.4L936.7 1870.3L937.4 1872.2L938.0 1874.1L938.7 1876.0L939.3 1877.8L940.0 1879.7L940.7 1881.6L941.4 1883.5L942.2 1885.3L942.9 1887.2L943.7 1889.0L944.4 1890.9L945.2 1892.7L946.0 1894.5L946.9 1896.4L947.7 1898.2L948.6 1900.0L949.5 1901.7L950.5 1903.5L951.5 1905.2L952.6 1906.9L953.7 1908.6L954.9 1910.1L956.1 1911.7L957.5 1913.1L959.0 1914.3L960.6 1915.4L962.3 1916.3L964.2 1917.0L966.1 1917.4L968.0 1917.7L970.0 1917.7L971.9 1917.6L973.8 1917.2L975.7 1916.7L977.6 1916.0L979.3 1915.1L981.0 1914.1L982.6 1912.9L984.1 1911.7L985.5 1910.3L986.9 1908.8L988.1 1907.3L989.3 1905.7L990.5 1904.1L991.7 1902.4L992.8 1900.8L994.0 1899.2L995.2 1897.6L996.5 1896.1L997.9 1894.6L999.3 1893.3L1000.8 1891.9L1002.3 1890.7L1003.9 1889.6L1005.6 1888.6L1007.4 1887.7L1009.2 1887.2L1011.1 1886.9L1012.9 1887.0L1014.7 1887.5L1016.4 1888.3L1018.0 1889.3L1019.5 1890.6L1020.8 1892.0L1022.1 1893.5L1023.3 1895.2L1024.3 1896.8L1025.3 1898.5L1026.3 1900.3L1027.2 1902.1L1028.0 1903.9L1028.8 1905.7L1029.6 1907.6L1030.3 1909.4L1031.1 1911.3L1031.8 1913.1L1032.6 1915.0L1033.3 1916.9L1034.0 1918.7L1034.7 1920.6L1035.5 1922.5L1036.2 1924.3L1036.9 1926.2L1037.6 1928.1L1038.3 1929.9L1039.0 1931.8L1039.7 1933.7L1040.4 1935.5L1041.1 1937.4L1041.8 1939.3L1042.5 1941.2L1043.2 1943.1L1043.9 1944.9L1044.6 1946.8L1045.3 1948.7L1046.0 1950.6L1046.7 1952.4L1047.4 1954.3L1048.1 1956.2L1048.8 1958.0L1049.5 1959.9L1050.3 1961.8L1051.0 1963.6L1051.7 1965.5L1052.4 1967.4L1053.2 1969.2L1053.9 1971.1L1054.6 1972.9L1055.4 1974.8L1056.1 1976.6L1056.9 1978.5L1057.7 1980.3L1058.5 1982.2L1059.3 1984.0L1060.1 1985.8L1060.9 1987.7L1061.7 1989.5L1062.5 1991.3L1063.3 1993.1L1064.2 1995.0L1065.0 1996.8L1065.9 1998.6L1066.7 2000.4L1067.6 2002.2L1068.5 2003.9L1069.5 2005.7L1070.4 2007.5L1071.4 2009.2L1072.4 2011.0L1073.4 2012.7L1074.4 2014.4L1075.4 2016.1L1076.4 2017.9L1077.5 2019.6L1078.5 2021.3L1079.6 2023.0L1080.6 2024.7L1081.7 2026.4L1082.8 2028.0L1083.9 2029.7L1085.0 2031.4L1086.1 2033.1L1087.2 2034.7L1088.3 2036.4L1089.4 2038.1L1090.5 2039.7L1091.6 2041.4L1092.8 2043.0L1094.0 2044.6L1095.1 2046.3L1096.3 2047.9L1097.5 2049.5L1098.7 2051.0L1100.0 2052.6L1101.2 2054.2L1102.5 2055.7L1103.9 2057.2L1105.2 2058.6L1106.6 2060.1L1108.0 2061.5L1109.4 2062.9L1110.9 2064.3L1112.3 2065.7L1113.8 2067.0L1115.2 2068.4L1116.7 2069.8L1118.2 2071.1L1119.6 2072.5L1121.1 2073.9L1122.5 2075.3L1123.9 2076.7L1125.3 2078.2L1126.6 2079.6L1128.0 2081.1L1129.3 2082.6L1130.6 2084.1L1131.9 2085.6L1133.3 2087.1L1134.6 2088.6L1136.0 2090.0L1137.4 2091.4L1138.9 2092.8L1140.3 2094.1L1141.9 2095.4L1143.5 2096.6L1145.1 2097.7L1146.8 2098.8L1148.6 2099.7L1150.4 2100.5L1152.2 2101.2L1154.1 2101.8L1156.0 2102.3L1158.0 2102.8L1159.9 2103.2L1161.9 2103.6L1163.9 2104.0L1165.8 2104.4L1167.8 2104.7L1169.8 2105.1L1171.7 2105.5L1173.7 2106.0L1175.6 2106.4L1177.6 2106.8L1179.5 2107.3L1181.5 2107.7L1183.4 2108.1L1185.4 2108.5L1187.4 2108.9L1189.3 2109.3L1191.3 2109.7L1193.2 2110.1L1195.2 2110.4L1197.2 2110.8L1199.1 2111.1L1201.1 2111.4L1203.1 2111.7L1205.1 2112.0L1207.1 2112.3L1209.0 2112.5L1211.0 2112.7L1213.0 2112.9L1215.0 2113.0L1217.0 2113.1L1219.0 2113.2L1221.0 2113.4L1223.0 2113.5L1225.0 2113.6L1227.0 2113.7L1229.0 2113.9L1231.0 2114.1L1233.0 2114.3L1235.0 2114.5L1236.9 2114.7L1238.9 2115.0L1240.9 2115.2L1242.9 2115.5L1244.9 2115.7L1246.9 2116.0L1248.8 2116.3L1250.8 2116.5L1252.8 2116.8L1254.8 2117.0L1256.8 2117.3L1258.8 2117.5L1260.7 2117.8L1262.7 2118.0L1264.7 2118.3L1266.7 2118.5L1268.7 2118.7L1270.7 2119.0L1272.7 2119.2L1274.6 2119.5L1276.6 2119.7L1278.6 2119.9L1280.6 2120.2L1282.6 2120.4L1284.6 2120.6L1286.6 2120.9L1288.6 2121.1L1290.5 2121.3L1292.5 2121.5L1294.5 2121.7L1296.5 2121.9L1298.5 2122.1L1300.5 2122.3L1302.5 2122.5L1304.5 2122.7L1306.5 2122.9L1308.4 2123.1L1310.4 2123.3L1312.4 2123.5L1314.4 2123.7L1316.4 2123.9L1318.4 2124.1L1320.4 2124.3L1322.4 2124.5L1324.4 2124.7L1326.4 2125.0L1328.3 2125.2L1330.3 2125.4L1332.3 2125.5L1334.3 2125.7L1336.3 2125.8L1338.3 2125.9L1340.3 2126.0L1342.3 2126.0L1344.3 2125.9L1346.3 2125.9L1348.3 2125.7L1350.3 2125.5L1352.3 2125.3L1354.3 2125.1L1356.2 2124.9L1358.2 2124.7L1360.2 2124.5L1362.2 2124.3L1364.2 2124.1L1366.2 2124.0L1368.2 2123.9L1370.2 2123.8L1372.2 2123.7L1374.2 2123.7L1376.2 2123.7L1378.2 2123.7L1380.2 2123.6L1382.2 2123.7L1384.2 2123.7L1386.2 2123.7L1388.2 2123.7L1390.2 2123.7L1392.2 2123.7L1394.2 2123.8L1396.2 2123.8L1398.2 2123.8L1400.2 2123.8L1402.2 2123.8L1404.2 2123.8L1406.2 2123.8L1408.2 2123.8L1410.2 2123.8L1412.2 2123.8L1414.2 2123.8L1416.2 2123.8L1418.2 2123.8L1420.2 2123.8L1422.2 2123.8L1424.2 2123.8L1426.2 2123.8L1428.2 2123.8L1430.1 2123.8L1431.9 2123.8L1433.4 2123.8L1437.0 2123.8"/>
<path stroke="#1A6FDF" d="M136.8 2123.3L139.6 2123.4L141.1 2123.4L142.9 2123.5L144.8 2123.5L146.8 2123.6L148.8 2123.7L150.8 2123.7L152.8 2123.8L154.8 2123.8L156.8 2123.9L158.8 2123.9L160.8 2124.0L162.8 2124.0L164.8 2124.0L166.8 2124.1L168.8 2124.1L170.8 2124.1L172.8 2124.1L174.8 2124.1L176.8 2124.1L178.8 2124.0L180.8 2124.0L182.8 2124.0L184.8 2123.9L186.8 2123.9L188.8 2123.8L190.8 2123.8L192.8 2123.8L194.8 2123.7L196.8 2123.7L198.8 2123.6L200.8 2123.6L202.8 2123.5L204.8 2123.5L206.8 2123.4L208.8 2123.4L210.8 2123.3L212.8 2123.3L214.8 2123.2L216.8 2123.2L218.8 2123.1L220.8 2123.1L222.8 2123.0L224.8 2123.0L226.8 2122.9L228.8 2122.9L230.8 2122.8L232.8 2122.8L234.8 2122.7L236.8 2122.7L238.8 2122.6L240.8 2122.6L242.8 2122.6L244.8 2122.5L246.8 2122.5L248.8 2122.5L250.8 2122.5L252.8 2122.5L254.8 2122.6L256.8 2122.6L258.8 2122.7L260.8 2122.8L262.8 2123.0L264.8 2123.1L266.7 2123.2L268.7 2123.4L270.7 2123.6L272.7 2123.7L274.7 2123.8L276.7 2123.9L278.7 2124.0L280.7 2124.1L282.7 2124.1L284.7 2124.1L286.7 2124.2L288.7 2124.1L290.7 2124.1L292.7 2124.1L294.7 2124.0L296.7 2123.9L298.7 2123.8L300.7 2123.6L302.7 2123.4L304.7 2123.2L306.6 2122.9L308.6 2122.5L310.6 2122.1L312.5 2121.7L314.5 2121.2L316.4 2120.7L318.3 2120.2L320.2 2119.6L322.2 2119.1L324.1 2118.6L326.0 2118.1L328.0 2117.6L329.9 2117.1L331.8 2116.6L333.8 2116.0L335.7 2115.5L337.6 2115.0L339.6 2114.5L341.5 2114.1L343.5 2113.6L345.4 2113.1L347.4 2112.7L349.3 2112.2L351.3 2111.8L353.2 2111.4L355.2 2111.0L357.2 2110.7L359.1 2110.3L361.1 2109.9L363.1 2109.6L365.0 2109.2L367.0 2108.9L369.0 2108.5L370.9 2108.2L372.9 2107.8L374.9 2107.4L376.8 2107.1L378.8 2106.7L380.8 2106.3L382.7 2106.0L384.7 2105.6L386.7 2105.2L388.6 2104.9L390.6 2104.6L392.5 2104.3L394.5 2104.0L396.4 2103.6L398.3 2103.1L400.1 2102.4L401.9 2101.6L403.7 2100.7L405.4 2099.7L407.1 2098.6L408.8 2097.6L410.5 2096.6L412.3 2095.5L414.0 2094.5L415.7 2093.5L417.4 2092.5L419.2 2091.6L421.0 2090.7L422.8 2089.8L424.6 2089.0L426.5 2088.3L428.4 2087.7L430.3 2087.2L432.3 2086.9L434.2 2086.6L436.2 2086.3L438.2 2086.2L440.2 2086.1L442.2 2086.0L444.2 2085.9L446.2 2085.8L448.2 2085.7L450.2 2085.5L452.1 2085.3L454.1 2085.0L456.1 2084.7L458.0 2084.2L460.0 2083.8L461.9 2083.3L463.8 2082.7L465.8 2082.2L467.7 2081.6L469.6 2081.0L471.5 2080.5L473.4 2079.9L475.3 2079.4L477.3 2078.9L479.2 2078.4L481.2 2078.0L483.1 2077.6L485.1 2077.3L487.1 2077.2L489.1 2077.1L491.1 2077.2L493.0 2077.3L495.0 2077.6L497.0 2078.0L498.9 2078.5L500.8 2079.0L502.7 2079.7L504.5 2080.4L506.4 2081.2L508.1 2082.1L509.9 2083.0L511.6 2084.1L513.2 2085.2L514.8 2086.4L516.4 2087.6L517.9 2088.9L519.5 2090.2L521.0 2091.4L522.6 2092.6L524.3 2093.6L526.1 2094.5L527.9 2095.3L529.8 2095.9L531.7 2096.4L533.6 2096.7L535.6 2097.0L537.6 2097.2L539.6 2097.3L541.6 2097.3L543.6 2097.3L545.6 2097.3L547.6 2097.3L549.6 2097.2L551.6 2097.1L553.6 2096.9L555.6 2096.8L557.6 2096.7L559.6 2096.5L561.5 2096.4L563.5 2096.3L565.5 2096.2L567.5 2096.1L569.5 2096.1L571.5 2096.0L573.5 2096.0L575.5 2096.0L577.5 2096.0L579.5 2096.1L581.5 2096.1L583.5 2096.2L585.5 2096.2L587.5 2096.2L589.5 2096.2L591.5 2096.2L593.5 2096.1L595.5 2096.0L597.5 2095.9L599.5 2095.7L601.5 2095.5L603.5 2095.3L605.5 2095.0L607.5 2094.8L609.4 2094.5L611.4 2094.2L613.4 2093.9L615.4 2093.6L617.3 2093.2L619.3 2092.8L621.2 2092.4L623.2 2092.0L625.2 2091.6L627.1 2091.1L629.0 2090.6L631.0 2090.1L632.9 2089.6L634.8 2089.0L636.7 2088.4L638.6 2087.8L640.5 2087.1L642.4 2086.4L644.2 2085.6L646.0 2084.8L647.9 2084.0L649.7 2083.1L651.4 2082.2L653.2 2081.3L655.0 2080.3L656.7 2079.4L658.4 2078.4L660.2 2077.3L661.9 2076.3L663.6 2075.2L665.3 2074.2L667.0 2073.1L668.6 2072.0L670.3 2071.0L672.0 2069.8L673.6 2068.7L675.3 2067.6L676.9 2066.5L678.6 2065.3L680.2 2064.1L681.8 2062.9L683.4 2061.7L684.9 2060.4L686.4 2059.1L687.9 2057.8L689.3 2056.4L690.7 2055.0L692.0 2053.5L693.4 2052.0L694.7 2050.5L696.1 2049.1L697.6 2047.7L699.0 2046.4L700.5 2045.1L702.1 2043.8L703.6 2042.5L705.1 2041.2L706.6 2039.9L708.1 2038.5L709.5 2037.1L710.9 2035.7L712.3 2034.2L713.5 2032.7L714.8 2031.1L716.0 2029.6L717.2 2027.9L718.4 2026.3L719.5 2024.7L720.6 2023.0L721.7 2021.3L722.8 2019.7L723.9 2018.0L724.9 2016.3L726.0 2014.6L727.0 2012.9L728.0 2011.1L729.0 2009.4L730.0 2007.7L731.0 2005.9L731.9 2004.2L732.8 2002.4L733.8 2000.6L734.7 1998.8L735.6 1997.0L736.5 1995.2L737.3 1993.4L738.2 1991.6L739.0 1989.8L739.9 1988.0L740.8 1986.2L741.6 1984.4L742.5 1982.6L743.4 1980.8L744.3 1979.0L745.2 1977.3L746.1 1975.5L747.0 1973.7L747.8 1971.9L748.6 1970.0L749.3 1968.2L750.0 1966.3L750.6 1964.4L751.2 1962.5L751.8 1960.6L752.3 1958.6L752.8 1956.7L753.3 1954.8L753.8 1952.8L754.2 1950.9L754.7 1948.9L755.1 1947.0L755.5 1945.0L756.0 1943.1L756.4 1941.1L756.8 1939.2L757.2 1937.2L757.6 1935.2L758.0 1933.3L758.4 1931.3L758.8 1929.4L759.2 1927.4L759.6 1925.5L760.0 1923.5L760.4 1921.5L760.9 1919.6L761.3 1917.6L761.7 1915.7L762.1 1913.7L762.5 1911.7L762.9 1909.8L763.4 1907.8L763.8 1905.9L764.2 1903.9L764.7 1902.0L765.1 1900.0L765.6 1898.1L766.0 1896.1L766.5 1894.2L767.0 1892.3L767.5 1890.3L768.0 1888.4L768.5 1886.4L769.0 1884.5L769.5 1882.6L770.0 1880.6L770.5 1878.7L771.0 1876.8L771.5 1874.8L772.0 1872.9L772.5 1871.0L773.0 1869.0L773.5 1867.1L774.0 1865.1L774.5 1863.2L775.0 1861.3L775.5 1859.3L776.0 1857.4L776.4 1855.5L776.9 1853.5L777.4 1851.6L777.8 1849.6L778.3 1847.7L778.7 1845.7L779.2 1843.8L779.6 1841.8L780.0 1839.9L780.4 1837.9L780.8 1835.9L781.2 1834.0L781.5 1832.0L781.9 1830.0L782.3 1828.1L782.6 1826.1L783.0 1824.1L783.3 1822.2L783.6 1820.2L784.0 1818.2L784.3 1816.2L784.6 1814.3L784.9 1812.3L785.2 1810.3L785.5 1808.3L785.8 1806.4L786.1 1804.4L786.4 1802.4L786.7 1800.4L787.0 1798.5L787.3 1796.5L787.7 1794.5L788.0 1792.5L788.3 1790.6L788.6 1788.6L788.9 1786.6L789.2 1784.6L789.6 1782.7L789.9 1780.7L790.2 1778.7L790.6 1776.7L790.9 1774.8L791.3 1772.8L791.6 1770.8L792.0 1768.9L792.3 1766.9L792.7 1764.9L793.0 1763.0L793.4 1761.0L793.7 1759.0L794.1 1757.0L794.4 1755.1L794.8 1753.1L795.1 1751.1L795.5 1749.2L795.8 1747.2L796.2 1745.2L796.5 1743.3L796.9 1741.3L797.2 1739.3L797.6 1737.4L797.9 1735.4L798.3 1733.4L798.6 1731.5L799.0 1729.5L799.3 1727.5L799.7 1725.5L800.0 1723.6L800.3 1721.6L800.7 1719.6L801.0 1717.7L801.3 1715.7L801.6 1713.7L802.0 1711.7L802.3 1709.8L802.6 1707.8L802.9 1705.8L803.2 1703.8L803.5 1701.9L803.9 1699.9L804.2 1697.9L804.5 1695.9L804.8 1694.0L805.1 1692.0L805.4 1690.0L805.7 1688.0L806.0 1686.1L806.3 1684.1L806.6 1682.1L806.9 1680.1L807.3 1678.1L807.6 1676.2L807.9 1674.2L808.2 1672.2L808.5 1670.2L808.8 1668.3L809.1 1666.3L809.4 1664.3L809.7 1662.3L810.0 1660.4L810.3 1658.4L810.7 1656.4L811.0 1654.4L811.3 1652.5L811.6 1650.5L811.9 1648.5L812.2 1646.5L812.5 1644.6L812.8 1642.6L813.1 1640.6L813.4 1638.6L813.7 1636.6L814.0 1634.7L814.3 1632.7L814.6 1630.7L814.9 1628.7L815.2 1626.8L815.5 1624.8L815.8 1622.8L816.1 1620.8L816.4 1618.8L816.7 1616.9L817.0 1614.9L817.4 1612.9L817.7 1611.0L818.1 1609.0L818.4 1607.0L818.8 1605.0L819.1 1603.1L819.5 1601.1L819.9 1599.2L820.3 1597.2L820.7 1595.2L821.1 1593.3L821.5 1591.3L821.9 1589.4L822.3 1587.4L822.7 1585.4L823.2 1583.5L823.6 1581.5L824.1 1579.6L824.6 1577.7L825.0 1575.7L825.6 1573.8L826.1 1571.9L826.7 1569.9L827.3 1568.0L827.9 1566.1L828.6 1564.3L829.3 1562.4L830.1 1560.6L830.9 1558.7L831.8 1556.9L832.7 1555.2L833.7 1553.5L834.8 1551.8L835.9 1550.2L837.2 1548.7L838.5 1547.2L840.0 1546.0L841.6 1545.0L843.3 1544.4L845.1 1544.1L846.8 1544.3L848.5 1544.9L850.2 1545.8L851.7 1546.9L853.1 1548.3L854.5 1549.7L855.9 1551.2L857.2 1552.7L858.4 1554.3L859.7 1555.8L860.9 1557.4L862.0 1559.0L863.2 1560.7L864.3 1562.3L865.4 1564.0L866.5 1565.7L867.5 1567.4L868.5 1569.1L869.5 1570.8L870.5 1572.6L871.5 1574.3L872.5 1576.1L873.5 1577.8L874.4 1579.6L875.3 1581.3L876.2 1583.1L877.1 1584.9L878.0 1586.7L878.9 1588.5L879.7 1590.3L880.6 1592.1L881.4 1594.0L882.2 1595.8L883.0 1597.6L883.8 1599.5L884.6 1601.3L885.4 1603.1L886.1 1605.0L886.8 1606.9L887.6 1608.7L888.3 1610.6L888.9 1612.5L889.6 1614.4L890.3 1616.3L890.9 1618.1L891.5 1620.1L892.1 1622.0L892.7 1623.9L893.2 1625.8L893.8 1627.7L894.3 1629.6L894.9 1631.6L895.4 1633.5L895.9 1635.4L896.4 1637.4L896.9 1639.3L897.3 1641.3L897.8 1643.2L898.2 1645.2L898.7 1647.1L899.1 1649.1L899.5 1651.0L899.9 1653.0L900.4 1654.9L900.8 1656.9L901.2 1658.8L901.5 1660.8L901.9 1662.8L902.3 1664.7L902.7 1666.7L903.0 1668.7L903.4 1670.6L903.7 1672.6L904.0 1674.6L904.4 1676.6L904.7 1678.5L905.1 1680.5L905.4 1682.5L905.7 1684.4L906.1 1686.4L906.4 1688.4L906.8 1690.3L907.1 1692.3L907.5 1694.3L907.8 1696.3L908.2 1698.2L908.5 1700.2L908.9 1702.2L909.3 1704.1L909.6 1706.1L910.0 1708.1L910.3 1710.0L910.7 1712.0L911.1 1714.0L911.4 1715.9L911.8 1717.9L912.2 1719.9L912.5 1721.8L912.9 1723.8L913.3 1725.8L913.6 1727.7L914.0 1729.7L914.4 1731.7L914.8 1733.6L915.1 1735.6L915.5 1737.5L915.9 1739.5L916.2 1741.5L916.6 1743.4L917.0 1745.4L917.4 1747.4L917.7 1749.3L918.1 1751.3L918.5 1753.3L918.9 1755.2L919.3 1757.2L919.6 1759.2L920.0 1761.1L920.4 1763.1L920.8 1765.0L921.2 1767.0L921.6 1769.0L922.0 1770.9L922.4 1772.9L922.8 1774.8L923.2 1776.8L923.6 1778.8L923.9 1780.7L924.3 1782.7L924.7 1784.6L925.1 1786.6L925.5 1788.6L926.0 1790.5L926.4 1792.5L926.8 1794.4L927.2 1796.4L927.6 1798.4L928.0 1800.3L928.3 1802.3L928.7 1804.2L929.1 1806.2L929.5 1808.2L929.9 1810.1L930.3 1812.1L930.6 1814.1L931.0 1816.0L931.4 1818.0L931.8 1820.0L932.1 1821.9L932.5 1823.9L932.9 1825.8L933.4 1827.8L933.8 1829.7L934.2 1831.7L934.7 1833.6L935.2 1835.6L935.7 1837.5L936.2 1839.4L936.8 1841.4L937.4 1843.3L938.0 1845.2L938.6 1847.1L939.3 1849.0L939.9 1850.8L940.6 1852.7L941.4 1854.6L942.1 1856.4L942.8 1858.3L943.6 1860.1L944.4 1862.0L945.2 1863.8L946.0 1865.6L946.9 1867.5L947.7 1869.3L948.6 1871.1L949.5 1872.8L950.5 1874.6L951.6 1876.2L952.7 1877.9L953.9 1879.5L955.2 1881.0L956.5 1882.5L957.9 1883.9L959.3 1885.4L960.7 1886.7L962.2 1888.0L963.8 1889.0L965.5 1889.9L967.3 1890.4L969.1 1890.5L970.9 1890.3L972.7 1889.8L974.5 1888.9L976.1 1887.9L977.7 1886.7L979.2 1885.5L980.7 1884.1L982.1 1882.7L983.4 1881.2L984.7 1879.6L985.9 1878.0L987.0 1876.4L988.1 1874.7L989.1 1873.0L990.2 1871.3L991.2 1869.6L992.3 1867.9L993.4 1866.3L994.6 1864.7L995.8 1863.1L997.1 1861.6L998.5 1860.1L999.9 1858.7L1001.4 1857.4L1002.9 1856.1L1004.5 1855.0L1006.2 1854.1L1007.9 1853.4L1009.8 1853.1L1011.6 1853.1L1013.4 1853.5L1015.1 1854.2L1016.7 1855.2L1018.2 1856.5L1019.6 1857.9L1020.8 1859.4L1022.0 1861.0L1023.1 1862.7L1024.1 1864.4L1025.0 1866.2L1025.9 1867.9L1026.7 1869.8L1027.5 1871.6L1028.2 1873.5L1028.9 1875.3L1029.6 1877.2L1030.3 1879.1L1031.0 1881.0L1031.6 1882.9L1032.3 1884.8L1032.9 1886.7L1033.5 1888.6L1034.2 1890.4L1034.8 1892.3L1035.5 1894.2L1036.1 1896.1L1036.8 1898.0L1037.4 1899.9L1038.0 1901.8L1038.7 1903.7L1039.3 1905.6L1039.9 1907.5L1040.6 1909.4L1041.2 1911.3L1041.8 1913.2L1042.4 1915.1L1043.0 1917.0L1043.6 1918.9L1044.3 1920.8L1044.9 1922.7L1045.5 1924.6L1046.2 1926.5L1046.8 1928.4L1047.5 1930.3L1048.1 1932.2L1048.8 1934.1L1049.4 1936.0L1050.1 1937.8L1050.8 1939.7L1051.5 1941.6L1052.2 1943.5L1052.8 1945.4L1053.5 1947.2L1054.2 1949.1L1054.9 1951.0L1055.7 1952.8L1056.4 1954.7L1057.1 1956.6L1057.9 1958.4L1058.6 1960.3L1059.4 1962.1L1060.1 1964.0L1060.9 1965.8L1061.7 1967.7L1062.5 1969.5L1063.3 1971.3L1064.1 1973.2L1064.9 1975.0L1065.7 1976.8L1066.5 1978.6L1067.4 1980.4L1068.2 1982.3L1069.1 1984.1L1070.0 1985.9L1070.9 1987.7L1071.8 1989.4L1072.7 1991.2L1073.6 1993.0L1074.6 1994.7L1075.5 1996.5L1076.5 1998.2L1077.5 1999.9L1078.6 2001.7L1079.6 2003.4L1080.7 2005.1L1081.8 2006.7L1082.8 2008.4L1083.9 2010.1L1085.0 2011.8L1086.1 2013.5L1087.1 2015.2L1088.2 2016.9L1089.2 2018.6L1090.1 2020.4L1091.1 2022.1L1091.9 2023.9L1092.7 2025.8L1093.5 2027.6L1094.3 2029.4L1095.1 2031.3L1096.0 2033.0L1096.9 2034.8L1098.0 2036.5L1099.1 2038.1L1100.3 2039.7L1101.6 2041.2L1103.0 2042.7L1104.4 2044.1L1105.8 2045.4L1107.3 2046.8L1108.8 2048.1L1110.3 2049.4L1111.9 2050.7L1113.4 2051.9L1115.0 2053.2L1116.6 2054.4L1118.2 2055.6L1119.8 2056.8L1121.4 2058.0L1123.0 2059.2L1124.6 2060.4L1126.2 2061.6L1127.8 2062.7L1129.5 2063.9L1131.1 2065.0L1132.8 2066.1L1134.5 2067.2L1136.2 2068.2L1137.9 2069.3L1139.6 2070.3L1141.3 2071.3L1143.1 2072.3L1144.8 2073.3L1146.6 2074.2L1148.4 2075.1L1150.1 2076.0L1151.9 2076.9L1153.8 2077.7L1155.6 2078.5L1157.4 2079.3L1159.3 2080.1L1161.1 2080.8L1163.0 2081.5L1164.9 2082.2L1166.8 2082.9L1168.7 2083.5L1170.6 2084.0L1172.5 2084.6L1174.4 2085.0L1176.4 2085.5L1178.4 2085.9L1180.3 2086.3L1182.3 2086.7L1184.2 2087.2L1186.1 2087.7L1188.1 2088.2L1190.0 2088.8L1191.9 2089.4L1193.7 2090.1L1195.6 2090.9L1197.4 2091.7L1199.2 2092.5L1201.0 2093.4L1202.8 2094.3L1204.6 2095.2L1206.4 2096.0L1208.2 2096.9L1210.0 2097.7L1211.9 2098.5L1213.7 2099.3L1215.6 2100.0L1217.5 2100.7L1219.4 2101.3L1221.3 2101.9L1223.2 2102.4L1225.2 2102.8L1227.1 2103.2L1229.1 2103.6L1231.0 2104.0L1233.0 2104.3L1235.0 2104.7L1236.9 2105.1L1238.9 2105.5L1240.8 2105.9L1242.8 2106.3L1244.7 2106.8L1246.7 2107.4L1248.6 2108.0L1250.5 2108.6L1252.4 2109.2L1254.3 2109.8L1256.2 2110.4L1258.1 2111.1L1260.0 2111.7L1261.9 2112.3L1263.8 2112.9L1265.7 2113.4L1267.6 2113.9L1269.6 2114.4L1271.5 2114.8L1273.5 2115.2L1275.5 2115.6L1277.4 2115.9L1279.4 2116.2L1281.4 2116.5L1283.4 2116.7L1285.4 2117.0L1287.3 2117.2L1289.3 2117.4L1291.3 2117.5L1293.3 2117.7L1295.3 2117.8L1297.3 2117.8L1299.3 2117.8L1301.3 2117.8L1303.3 2117.7L1305.3 2117.5L1307.3 2117.4L1309.3 2117.3L1311.3 2117.3L1313.3 2117.3L1315.3 2117.4L1317.2 2117.7L1319.2 2117.9L1321.2 2118.3L1323.1 2118.7L1325.1 2119.1L1327.0 2119.6L1329.0 2120.1L1330.9 2120.5L1332.9 2121.0L1334.8 2121.4L1336.8 2121.8L1338.7 2122.2L1340.7 2122.5L1342.7 2122.8L1344.7 2123.0L1346.7 2123.2L1348.7 2123.4L1350.7 2123.5L1352.6 2123.6L1354.6 2123.7L1356.6 2123.7L1358.6 2123.8L1360.6 2123.8L1362.6 2123.8L1364.6 2123.8L1366.6 2123.8L1368.6 2123.8L1370.6 2123.7L1372.6 2123.7L1374.6 2123.7L1376.6 2123.6L1378.6 2123.5L1380.6 2123.4L1382.6 2123.4L1384.6 2123.3L1386.6 2123.2L1388.6 2123.1L1390.6 2123.0L1392.6 2123.0L1394.6 2122.9L1396.6 2122.9L1398.6 2122.8L1400.6 2122.8L1402.6 2122.8L1404.6 2122.8L1406.6 2122.9L1408.6 2122.9L1410.6 2122.9L1412.6 2123.0L1414.6 2123.0L1416.6 2123.1L1418.6 2123.2L1420.6 2123.2L1422.6 2123.3L1424.6 2123.4L1426.6 2123.4L1428.6 2123.5L1430.5 2123.6L1432.3 2123.6L1433.8 2123.7L1437.0 2123.8"/>
</g>
<line x1="707" y1="1243.3" x2="856" y2="1243.3" stroke="#515151" stroke-width="5.5"/>
<line x1="707" y1="1321" x2="856" y2="1321" stroke="#F14040" stroke-width="5.5"/>
<line x1="707" y1="1399.3" x2="856" y2="1399.3" stroke="#1A6FDF" stroke-width="5.5"/>
<text x="867.4" y="1265" font-size="63.5">Pd/Beta-C</text>
<text x="867.4" y="1343" font-size="63.5">Pd/Beta-C-750HTA</text>
<text x="867.4" y="1421" font-size="63.5">Pd/Beta-C-800HTA</text>
<rect x="134.0" y="1194.6" width="1304.0" height="1006.2000000000003" fill="none" stroke="#000" stroke-width="7"/>
<line x1="134.0" y1="2200.8" x2="134.0" y2="2215.3" stroke="#000" stroke-width="6.3"/>
<line x1="242.7" y1="2200.8" x2="242.7" y2="2209.8" stroke="#000" stroke-width="6.3"/>
<line x1="351.3" y1="2200.8" x2="351.3" y2="2215.3" stroke="#000" stroke-width="6.3"/>
<line x1="460.0" y1="2200.8" x2="460.0" y2="2209.8" stroke="#000" stroke-width="6.3"/>
<line x1="568.7" y1="2200.8" x2="568.7" y2="2215.3" stroke="#000" stroke-width="6.3"/>
<line x1="677.3" y1="2200.8" x2="677.3" y2="2209.8" stroke="#000" stroke-width="6.3"/>
<line x1="786.0" y1="2200.8" x2="786.0" y2="2215.3" stroke="#000" stroke-width="6.3"/>
<line x1="894.7" y1="2200.8" x2="894.7" y2="2209.8" stroke="#000" stroke-width="6.3"/>
<line x1="1003.3" y1="2200.8" x2="1003.3" y2="2215.3" stroke="#000" stroke-width="6.3"/>
<line x1="1112.0" y1="2200.8" x2="1112.0" y2="2209.8" stroke="#000" stroke-width="6.3"/>
<line x1="1220.7" y1="2200.8" x2="1220.7" y2="2215.3" stroke="#000" stroke-width="6.3"/>
<line x1="1329.3" y1="2200.8" x2="1329.3" y2="2209.8" stroke="#000" stroke-width="6.3"/>
<line x1="1438.0" y1="2200.8" x2="1438.0" y2="2215.3" stroke="#000" stroke-width="6.3"/>
<text x="132.5" y="2269" font-size="65" text-anchor="middle">−95</text>
<text x="349.8" y="2269" font-size="65" text-anchor="middle">−100</text>
<text x="567.2" y="2269" font-size="65" text-anchor="middle">−105</text>
<text x="784.5" y="2269" font-size="65" text-anchor="middle">−110</text>
<text x="1001.8" y="2269" font-size="65" text-anchor="middle">−115</text>
<text x="1219.2" y="2269" font-size="65" text-anchor="middle">−120</text>
<text x="1436.5" y="2269" font-size="65" text-anchor="middle">−125</text>
<text x="511" y="2335" font-size="64.3">Chemical shift (ppm)</text>
<text transform="translate(78.6,1864.3) rotate(-90)" font-size="63.2">Intensity (a.u.)</text>
<text x="155.4" y="1356" font-size="165">(</text>
<text x="210" y="1356" font-size="131">b</text>
<text x="274.8" y="1356" font-size="165">)</text>
<text transform="translate(788.5,1524) scale(1,1.028)" font-size="64.2">-111</text>
<text transform="translate(903,1633.7) scale(1,1.002)" font-size="65.9">-112</text>
<text transform="translate(978,1842) scale(1,1.033)" font-size="63.9">-115</text>
<text transform="translate(402,2025) scale(1,1.049)" font-size="62.9">-103</text>
<text transform="translate(597,1985.5) scale(1,1.063)" font-size="62.1">-107</text>
<g fill="none" stroke-width="6" stroke-linejoin="round" stroke-linecap="round">
<path stroke="#515151" d="M136.8 3299.3L138.8 3298.5L140.5 3297.8L142.4 3297.0L144.2 3296.3L146.1 3295.6L148.0 3294.9L149.9 3294.4L151.8 3293.9L153.8 3293.5L155.8 3293.2L157.8 3293.1L159.7 3292.9L161.7 3292.8L163.7 3292.7L165.7 3292.6L167.7 3292.4L169.7 3292.2L171.7 3292.0L173.7 3291.7L175.7 3291.5L177.6 3291.2L179.6 3290.8L181.6 3290.4L183.5 3289.9L185.4 3289.4L187.3 3288.7L189.1 3287.9L190.9 3287.0L192.7 3286.2L194.5 3285.3L196.4 3284.5L198.2 3283.8L200.1 3283.3L202.0 3283.3L203.8 3283.8L205.5 3284.8L207.1 3285.9L208.8 3286.4L210.5 3286.1L212.1 3285.0L213.7 3283.8L215.2 3282.7L217.0 3282.0L218.8 3282.1L220.6 3282.7L222.4 3283.7L224.1 3284.6L225.9 3285.4L227.8 3286.0L229.8 3286.2L231.8 3286.3L233.8 3286.3L235.8 3286.1L237.8 3285.9L239.7 3285.6L241.7 3285.1L243.6 3284.5L245.3 3283.6L246.9 3282.5L248.3 3281.0L249.4 3279.4L250.6 3277.8L251.7 3276.1L252.9 3274.6L254.2 3273.0L255.4 3271.4L256.6 3269.8L257.8 3268.2L259.1 3266.7L260.5 3265.3L262.1 3264.2L263.8 3263.8L265.6 3264.1L267.2 3265.1L268.6 3266.5L269.9 3268.0L271.3 3269.4L272.8 3270.7L274.4 3271.3L276.1 3271.1L277.7 3270.2L279.1 3268.8L280.5 3267.4L282.0 3266.3L283.7 3265.7L285.3 3266.2L286.8 3267.3L288.0 3268.9L289.2 3270.5L290.3 3272.1L291.5 3273.7L292.9 3275.1L294.5 3276.3L296.2 3277.2L298.1 3277.8L300.1 3278.1L302.0 3278.0L303.8 3277.5L305.4 3276.4L306.7 3275.0L307.7 3273.3L308.7 3271.5L309.6 3269.7L310.6 3268.0L311.8 3266.5L313.2 3265.1L314.9 3264.1L316.8 3263.4L318.7 3262.8L320.6 3262.4L322.6 3262.0L324.5 3261.5L326.4 3260.9L328.2 3260.2L330.0 3259.2L331.8 3258.3L333.6 3257.5L335.4 3257.2L337.3 3257.5L339.1 3258.3L340.7 3259.4L342.3 3260.7L343.7 3262.0L345.2 3263.4L346.6 3264.8L347.9 3266.4L349.1 3268.0L350.3 3269.6L351.5 3271.2L352.8 3272.6L354.3 3273.7L355.8 3274.1L357.3 3273.4L358.4 3272.0L359.3 3270.2L359.9 3268.3L360.6 3266.4L361.2 3264.5L361.7 3262.6L362.3 3260.7L362.9 3258.8L363.6 3256.9L364.5 3255.1L365.6 3253.5L367.0 3252.4L368.8 3252.1L370.5 3252.5L372.2 3253.5L373.6 3254.8L374.9 3256.4L376.2 3257.9L377.4 3259.5L378.7 3261.0L380.1 3262.3L381.8 3263.0L383.4 3262.9L384.9 3261.9L386.1 3260.4L387.2 3258.7L388.3 3257.1L389.4 3255.4L390.8 3254.1L392.4 3253.3L394.2 3253.3L396.0 3253.9L397.7 3254.9L399.4 3256.0L401.0 3257.1L402.8 3258.1L404.6 3258.9L406.5 3259.5L408.4 3259.8L410.3 3259.6L412.1 3258.9L413.6 3257.7L415.0 3256.3L416.3 3254.8L417.7 3253.3L419.0 3251.9L420.4 3250.5L421.9 3249.0L423.3 3247.7L424.9 3246.8L426.5 3246.7L428.0 3247.6L429.1 3249.1L430.0 3250.9L430.9 3252.6L432.1 3254.0L433.4 3254.7L434.8 3254.1L435.9 3252.7L436.9 3251.0L437.8 3249.2L438.6 3247.4L439.5 3245.6L440.5 3243.9L441.8 3242.6L443.3 3241.9L445.1 3242.1L446.9 3242.6L448.6 3242.6L450.2 3241.8L451.6 3240.5L453.0 3239.5L454.5 3239.3L455.8 3240.2L456.7 3241.8L457.5 3243.7L458.1 3245.6L458.7 3247.5L459.3 3249.4L459.9 3251.3L460.5 3253.2L461.1 3255.1L461.8 3257.0L462.6 3258.8L463.6 3260.4L464.9 3261.4L466.3 3261.4L467.7 3260.3L468.8 3258.7L469.7 3257.0L470.6 3255.2L471.5 3253.4L472.4 3251.6L473.4 3249.9L474.4 3248.2L475.7 3246.7L477.3 3245.7L479.1 3245.2L481.0 3245.2L483.0 3245.3L484.9 3245.1L486.6 3244.4L488.1 3243.2L489.3 3241.6L490.3 3239.9L491.3 3238.2L492.2 3236.4L493.2 3234.7L494.3 3233.1L495.7 3232.0L497.3 3231.8L498.8 3232.6L500.0 3234.1L501.1 3235.8L502.1 3237.5L503.0 3239.2L504.0 3241.0L505.1 3242.7L506.1 3244.4L507.1 3246.1L508.1 3247.9L509.0 3249.6L510.0 3251.4L511.1 3253.1L512.3 3254.7L513.6 3256.1L515.2 3257.1L517.0 3257.6L518.9 3257.6L520.8 3257.0L522.6 3256.1L524.2 3255.0L525.6 3253.6L526.8 3252.0L527.9 3250.3L529.1 3248.7L530.4 3247.3L532.0 3246.4L533.9 3246.0L535.8 3246.1L537.7 3246.6L539.6 3247.3L541.4 3248.1L543.2 3249.1L544.8 3250.2L546.3 3251.5L547.8 3252.8L549.3 3254.2L550.8 3255.4L552.5 3256.2L554.3 3256.2L555.9 3255.4L557.2 3254.1L558.4 3252.5L559.7 3251.0L561.1 3249.7L562.8 3248.8L564.7 3248.4L566.7 3248.4L568.7 3248.4L570.7 3248.4L572.6 3248.1L574.5 3247.5L576.1 3246.4L577.5 3245.0L578.9 3243.6L580.2 3242.1L581.7 3240.8L583.3 3239.8L585.2 3239.3L587.1 3239.3L589.0 3239.7L590.9 3240.4L592.8 3241.1L594.6 3241.9L596.5 3242.6L598.3 3243.4L600.1 3244.2L601.9 3245.1L603.6 3246.1L605.3 3247.3L606.8 3248.6L608.2 3250.0L609.5 3251.4L610.8 3252.9L612.2 3254.4L613.7 3255.7L615.4 3256.7L617.2 3257.2L619.1 3257.0L620.8 3256.3L622.4 3255.1L623.7 3253.6L624.9 3252.0L625.9 3250.4L626.9 3248.6L627.9 3246.9L628.8 3245.1L629.8 3243.3L630.7 3241.6L631.7 3239.8L632.7 3238.1L633.8 3236.4L634.9 3234.8L636.3 3233.4L637.8 3232.1L639.5 3231.1L641.4 3230.5L643.3 3230.0L645.3 3229.8L647.2 3229.8L649.2 3230.1L651.1 3230.7L652.9 3230.9L654.6 3230.5L656.0 3229.3L657.0 3227.6L657.8 3225.8L658.7 3224.0L659.8 3222.4L661.0 3220.9L662.6 3219.7L664.3 3218.8L666.2 3218.0L668.1 3217.4L670.0 3217.0L672.0 3216.6L674.0 3216.3L676.0 3216.2L677.9 3216.2L679.9 3216.6L681.8 3217.2L683.7 3217.8L685.6 3218.3L687.5 3218.5L689.2 3218.0L690.7 3216.9L691.9 3215.4L692.9 3213.7L693.9 3211.9L695.0 3210.5L696.5 3209.7L698.1 3209.8L699.8 3209.9L701.2 3209.3L702.1 3207.8L702.8 3205.9L703.3 3204.0L703.8 3202.1L704.3 3200.2L704.9 3198.2L705.6 3196.5L706.8 3195.0L708.3 3194.4L710.1 3194.5L711.9 3194.6L713.6 3194.2L714.8 3193.0L715.7 3191.3L716.3 3189.4L716.9 3187.5L717.5 3185.6L718.3 3183.8L719.4 3182.2L720.9 3181.2L722.7 3180.7L724.6 3180.2L726.2 3179.3L727.5 3177.9L728.5 3176.2L729.3 3174.4L730.1 3172.6L730.8 3170.7L731.5 3168.8L732.2 3167.0L732.9 3165.1L733.6 3163.2L734.4 3161.4L735.2 3159.5L736.0 3157.7L736.7 3155.9L737.4 3154.0L738.1 3152.1L738.6 3150.2L739.1 3148.2L739.6 3146.3L740.0 3144.3L740.4 3142.4L740.8 3140.4L741.1 3138.5L741.6 3136.5L742.0 3134.5L742.4 3132.6L742.9 3130.6L743.4 3128.7L743.9 3126.8L744.4 3124.8L745.0 3123.0L745.8 3121.1L746.8 3119.4L747.9 3117.7L749.2 3116.2L750.5 3114.7L751.7 3113.1L752.9 3111.5L753.9 3109.8L754.7 3108.0L755.4 3106.1L756.1 3104.2L756.7 3102.3L757.3 3100.4L757.8 3098.5L758.4 3096.6L758.9 3094.6L759.4 3092.7L760.0 3090.8L760.5 3088.8L761.0 3086.9L761.4 3085.0L761.9 3083.0L762.4 3081.1L762.8 3079.1L763.3 3077.2L763.8 3075.2L764.2 3073.3L764.7 3071.3L765.1 3069.4L765.6 3067.4L766.0 3065.5L766.4 3063.5L766.9 3061.6L767.3 3059.6L767.7 3057.7L768.2 3055.7L768.6 3053.8L769.0 3051.8L769.5 3049.9L769.9 3047.9L770.4 3046.0L770.8 3044.0L771.3 3042.1L771.7 3040.1L772.2 3038.2L772.6 3036.2L773.1 3034.3L773.5 3032.3L773.9 3030.4L774.2 3028.4L774.6 3026.4L774.9 3024.4L775.2 3022.5L775.5 3020.5L775.8 3018.5L776.1 3016.5L776.4 3014.6L776.7 3012.6L776.9 3010.6L777.2 3008.6L777.5 3006.6L777.8 3004.7L778.1 3002.7L778.4 3000.7L778.7 2998.7L779.0 2996.7L779.3 2994.8L779.6 2992.8L779.9 2990.8L780.2 2988.8L780.5 2986.9L780.8 2984.9L781.1 2982.9L781.4 2980.9L781.7 2978.9L782.0 2977.0L782.3 2975.0L782.6 2973.0L782.9 2971.0L783.2 2969.1L783.5 2967.1L783.7 2965.1L784.0 2963.1L784.3 2961.1L784.6 2959.2L784.9 2957.2L785.2 2955.2L785.5 2953.2L785.8 2951.3L786.1 2949.3L786.5 2947.3L786.8 2945.3L787.2 2943.4L787.6 2941.4L788.0 2939.4L788.3 2937.5L788.6 2935.5L788.8 2933.5L789.1 2931.5L789.3 2929.5L789.5 2927.6L789.7 2925.6L789.9 2923.6L790.1 2921.6L790.3 2919.6L790.4 2917.6L790.6 2915.6L790.8 2913.6L791.0 2911.6L791.1 2909.6L791.3 2907.6L791.5 2905.6L791.6 2903.6L791.8 2901.7L792.0 2899.7L792.1 2897.7L792.3 2895.7L792.5 2893.7L792.6 2891.7L792.8 2889.7L792.9 2887.7L793.1 2885.7L793.3 2883.7L793.4 2881.7L793.6 2879.7L793.7 2877.7L793.9 2875.7L794.0 2873.7L794.2 2871.7L794.3 2869.8L794.5 2867.8L794.6 2865.8L794.8 2863.8L794.9 2861.8L795.1 2859.8L795.2 2857.8L795.4 2855.8L795.5 2853.8L795.7 2851.8L795.8 2849.8L795.9 2847.8L796.1 2845.8L796.2 2843.8L796.4 2841.8L796.5 2839.8L796.6 2837.8L796.8 2835.8L796.9 2833.8L797.0 2831.8L797.2 2829.9L797.3 2827.9L797.4 2825.9L797.5 2823.9L797.7 2821.9L797.8 2819.9L797.9 2817.9L798.0 2815.9L798.2 2813.9L798.3 2811.9L798.4 2809.9L798.5 2807.9L798.6 2805.9L798.8 2803.9L798.9 2801.9L799.0 2799.9L799.1 2797.9L799.2 2795.9L799.4 2793.9L799.5 2791.9L799.6 2789.9L799.7 2787.9L799.8 2785.9L800.0 2783.9L800.1 2781.9L800.2 2779.9L800.3 2778.0L800.5 2776.0L800.6 2774.0L800.7 2772.0L800.8 2770.0L801.0 2768.0L801.1 2766.0L801.2 2764.0L801.3 2762.0L801.5 2760.0L801.6 2758.0L801.7 2756.0L801.8 2754.0L801.9 2752.0L802.1 2750.0L802.2 2748.0L802.3 2746.0L802.4 2744.0L802.6 2742.0L802.7 2740.0L802.8 2738.0L802.9 2736.0L803.0 2734.0L803.2 2732.0L803.3 2730.0L803.4 2728.0L803.5 2726.1L803.7 2724.1L803.8 2722.1L803.9 2720.1L804.0 2718.1L804.2 2716.1L804.3 2714.1L804.4 2712.1L804.5 2710.1L804.6 2708.1L804.8 2706.1L804.9 2704.1L805.0 2702.1L805.1 2700.1L805.3 2698.1L805.4 2696.1L805.5 2694.1L805.6 2692.1L805.8 2690.1L805.9 2688.1L806.0 2686.1L806.1 2684.1L806.2 2682.1L806.4 2680.1L806.5 2678.1L806.6 2676.1L806.7 2674.1L806.8 2672.2L807.0 2670.2L807.1 2668.2L807.2 2666.2L807.3 2664.2L807.4 2662.2L807.6 2660.2L807.7 2658.2L807.8 2656.2L807.9 2654.2L808.1 2652.2L808.2 2650.2L808.3 2648.2L808.4 2646.2L808.6 2644.2L808.7 2642.2L808.8 2640.2L809.0 2638.2L809.1 2636.2L809.2 2634.2L809.4 2632.2L809.5 2630.2L809.7 2628.2L809.8 2626.2L810.0 2624.3L810.1 2622.3L810.3 2620.3L810.4 2618.3L810.6 2616.3L810.7 2614.3L810.9 2612.3L811.0 2610.3L811.2 2608.3L811.4 2606.3L811.5 2604.3L811.7 2602.3L811.9 2600.3L812.0 2598.3L812.2 2596.3L812.4 2594.4L812.6 2592.4L812.7 2590.4L812.9 2588.4L813.1 2586.4L813.3 2584.4L813.4 2582.4L813.6 2580.4L813.8 2578.4L814.0 2576.4L814.2 2574.4L814.4 2572.4L814.5 2570.4L814.7 2568.5L814.9 2566.5L815.1 2564.5L815.3 2562.5L815.5 2560.5L815.6 2558.5L815.8 2556.5L816.0 2554.5L816.2 2552.5L816.4 2550.5L816.5 2548.5L816.7 2546.5L816.9 2544.6L817.1 2542.6L817.3 2540.6L817.5 2538.6L817.6 2536.6L817.8 2534.6L818.0 2532.6L818.2 2530.6L818.4 2528.6L818.6 2526.6L818.8 2524.6L819.0 2522.7L819.2 2520.7L819.4 2518.7L819.6 2516.7L819.9 2514.7L820.1 2512.7L820.3 2510.7L820.6 2508.7L820.8 2506.8L821.1 2504.8L821.3 2502.8L821.6 2500.8L821.9 2498.8L822.2 2496.9L822.5 2494.9L822.8 2492.9L823.1 2490.9L823.5 2489.0L823.8 2487.0L824.2 2485.0L824.5 2483.1L824.9 2481.1L825.3 2479.1L825.7 2477.2L826.2 2475.2L826.6 2473.3L827.1 2471.3L827.6 2469.4L828.2 2467.5L828.8 2465.6L829.4 2463.7L830.2 2461.8L831.1 2460.1L832.2 2458.5L833.5 2457.7L834.9 2458.0L836.1 2459.3L836.9 2461.0L837.6 2462.9L838.2 2464.8L838.8 2466.7L839.3 2468.7L839.8 2470.6L840.3 2472.5L840.8 2474.5L841.2 2476.4L841.6 2478.4L842.1 2480.3L842.5 2482.3L842.9 2484.3L843.3 2486.2L843.7 2488.2L844.1 2490.1L844.5 2492.1L844.9 2494.1L845.3 2496.0L845.6 2498.0L846.0 2499.9L846.4 2501.9L846.8 2503.9L847.2 2505.8L847.6 2507.8L848.0 2509.7L848.4 2511.7L848.8 2513.7L849.2 2515.6L849.6 2517.6L850.0 2519.6L850.4 2521.5L850.7 2523.5L851.1 2525.4L851.5 2527.4L851.9 2529.4L852.3 2531.3L852.7 2533.3L853.1 2535.3L853.5 2537.2L853.8 2539.2L854.2 2541.1L854.6 2543.1L855.0 2545.1L855.4 2547.0L855.8 2549.0L856.1 2551.0L856.5 2552.9L856.9 2554.9L857.3 2556.8L857.7 2558.8L858.0 2560.8L858.4 2562.7L858.8 2564.7L859.2 2566.7L859.6 2568.6L860.0 2570.6L860.4 2572.5L860.8 2574.5L861.2 2576.4L861.7 2578.4L862.2 2580.3L862.7 2582.3L863.2 2584.2L863.8 2586.1L864.4 2588.0L865.1 2589.9L865.8 2591.8L866.6 2593.6L867.3 2595.5L868.1 2597.3L869.0 2599.1L870.0 2600.5L871.2 2601.1L872.5 2600.4L873.5 2598.9L874.3 2597.1L874.9 2595.2L875.4 2593.3L875.8 2591.3L876.1 2589.4L876.4 2587.4L876.7 2585.4L877.0 2583.4L877.2 2581.5L877.4 2579.5L877.7 2577.5L877.9 2575.5L878.1 2573.5L878.3 2571.5L878.6 2569.5L878.8 2567.5L879.0 2565.6L879.2 2563.6L879.4 2561.6L879.6 2559.6L879.8 2557.6L880.0 2555.6L880.2 2553.6L880.4 2551.6L880.6 2549.6L880.8 2547.6L881.0 2545.7L881.2 2543.7L881.3 2541.7L881.5 2539.7L881.7 2537.7L881.9 2535.7L882.0 2533.7L882.2 2531.7L882.3 2529.7L882.5 2527.7L882.6 2525.7L882.8 2523.7L882.9 2521.7L883.0 2519.7L883.2 2517.7L883.3 2515.7L883.5 2513.8L883.7 2511.8L883.8 2509.8L884.0 2507.8L884.2 2505.8L884.4 2503.8L884.6 2501.8L884.8 2499.8L885.1 2497.8L885.3 2495.9L885.6 2493.9L886.0 2491.9L886.3 2489.9L886.7 2488.0L887.1 2486.0L887.5 2484.1L888.0 2482.1L888.4 2480.2L888.9 2478.2L889.4 2476.3L889.9 2474.4L890.5 2472.4L891.0 2470.5L891.6 2468.6L892.2 2466.7L892.8 2464.8L893.5 2463.0L894.5 2461.9L895.8 2461.9L897.0 2463.0L897.9 2464.7L898.6 2466.6L899.0 2468.5L899.4 2470.5L899.7 2472.5L899.9 2474.5L900.1 2476.4L900.3 2478.4L900.5 2480.4L900.6 2482.4L900.7 2484.4L900.9 2486.4L901.0 2488.4L901.1 2490.4L901.2 2492.4L901.3 2494.4L901.4 2496.4L901.5 2498.4L901.5 2500.4L901.6 2502.4L901.7 2504.4L901.8 2506.4L901.9 2508.4L902.0 2510.4L902.1 2512.4L902.1 2514.4L902.2 2516.4L902.3 2518.4L902.4 2520.4L902.5 2522.4L902.6 2524.4L902.7 2526.4L902.8 2528.4L902.9 2530.4L903.0 2532.4L903.1 2534.4L903.2 2536.4L903.3 2538.4L903.4 2540.4L903.5 2542.4L903.6 2544.4L903.7 2546.3L903.8 2548.3L903.9 2550.3L904.0 2552.3L904.1 2554.3L904.2 2556.3L904.3 2558.3L904.4 2560.3L904.5 2562.3L904.6 2564.3L904.7 2566.3L904.8 2568.3L904.9 2570.3L905.0 2572.3L905.1 2574.3L905.2 2576.3L905.3 2578.3L905.4 2580.3L905.5 2582.3L905.6 2584.3L905.7 2586.3L905.9 2588.3L906.0 2590.3L906.1 2592.3L906.2 2594.3L906.3 2596.3L906.4 2598.3L906.5 2600.3L906.6 2602.3L906.7 2604.3L906.8 2606.3L906.9 2608.3L907.0 2610.3L907.1 2612.3L907.2 2614.3L907.3 2616.3L907.4 2618.3L907.5 2620.3L907.6 2622.2L907.7 2624.2L907.8 2626.2L907.9 2628.2L908.0 2630.2L908.1 2632.2L908.2 2634.2L908.3 2636.2L908.4 2638.2L908.4 2640.2L908.5 2642.2L908.6 2644.2L908.7 2646.2L908.8 2648.2L908.9 2650.2L909.0 2652.2L909.1 2654.2L909.2 2656.2L909.3 2658.2L909.4 2660.2L909.5 2662.2L909.6 2664.2L909.7 2666.2L909.8 2668.2L909.9 2670.2L910.0 2672.2L910.1 2674.2L910.2 2676.2L910.3 2678.2L910.4 2680.2L910.5 2682.2L910.6 2684.2L910.7 2686.2L910.8 2688.2L910.9 2690.2L911.0 2692.2L911.1 2694.2L911.2 2696.2L911.3 2698.2L911.4 2700.2L911.5 2702.2L911.5 2704.2L911.6 2706.1L911.7 2708.1L911.8 2710.1L911.9 2712.1L912.0 2714.1L912.1 2716.1L912.2 2718.1L912.3 2720.1L912.4 2722.1L912.5 2724.1L912.6 2726.1L912.7 2728.1L912.8 2730.1L912.9 2732.1L913.0 2734.1L913.1 2736.1L913.2 2738.1L913.3 2740.1L913.4 2742.1L913.5 2744.1L913.6 2746.1L913.7 2748.1L913.8 2750.1L913.9 2752.1L914.0 2754.1L914.1 2756.1L914.3 2758.1L914.4 2760.1L914.5 2762.1L914.7 2764.1L914.8 2766.1L914.9 2768.1L915.1 2770.1L915.2 2772.0L915.4 2774.0L915.5 2776.0L915.7 2778.0L915.8 2780.0L916.0 2782.0L916.2 2784.0L916.3 2786.0L916.5 2788.0L916.7 2790.0L916.9 2792.0L917.0 2794.0L917.2 2796.0L917.4 2798.0L917.5 2800.0L917.7 2801.9L917.9 2803.9L918.0 2805.9L918.2 2807.9L918.4 2809.9L918.5 2811.9L918.7 2813.9L918.9 2815.9L919.0 2817.9L919.2 2819.9L919.4 2821.9L919.5 2823.9L919.7 2825.9L919.9 2827.9L920.0 2829.9L920.2 2831.8L920.4 2833.8L920.5 2835.8L920.7 2837.8L920.9 2839.8L921.0 2841.8L921.2 2843.8L921.4 2845.8L921.5 2847.8L921.7 2849.8L921.9 2851.8L922.0 2853.8L922.2 2855.8L922.4 2857.8L922.5 2859.7L922.7 2861.7L922.9 2863.7L923.1 2865.7L923.2 2867.7L923.4 2869.7L923.6 2871.7L923.7 2873.7L923.9 2875.7L924.1 2877.7L924.2 2879.7L924.4 2881.7L924.6 2883.7L924.8 2885.7L924.9 2887.6L925.1 2889.6L925.3 2891.6L925.4 2893.6L925.6 2895.6L925.7 2897.6L925.9 2899.6L926.1 2901.6L926.2 2903.6L926.4 2905.6L926.5 2907.6L926.7 2909.6L926.8 2911.6L927.0 2913.6L927.1 2915.6L927.2 2917.6L927.4 2919.5L927.5 2921.5L927.6 2923.5L927.8 2925.5L927.9 2927.5L928.0 2929.5L928.1 2931.5L928.3 2933.5L928.4 2935.5L928.5 2937.5L928.7 2939.5L928.8 2941.5L928.9 2943.5L929.1 2945.5L929.3 2947.5L929.4 2949.5L929.6 2951.5L929.8 2953.5L930.0 2955.5L930.2 2957.4L930.4 2959.4L930.7 2961.4L930.9 2963.4L931.2 2965.4L931.4 2967.4L931.7 2969.3L932.0 2971.3L932.3 2973.3L932.6 2975.3L932.9 2977.3L933.2 2979.2L933.6 2981.2L933.9 2983.2L934.3 2985.1L934.7 2987.1L935.1 2989.0L935.6 2991.0L936.0 2992.9L936.5 2994.9L937.0 2996.8L937.5 2998.8L938.0 3000.7L938.6 3002.6L939.2 3004.5L939.8 3006.4L940.4 3008.3L941.1 3010.2L941.7 3012.1L942.5 3014.0L943.2 3015.8L944.0 3017.7L944.8 3019.5L945.7 3021.3L946.6 3023.1L947.6 3024.8L948.6 3026.5L949.8 3028.1L951.0 3029.7L952.3 3031.2L953.7 3032.7L955.1 3034.0L956.7 3035.3L958.3 3036.4L960.1 3037.3L961.9 3038.0L963.9 3038.2L965.7 3037.9L967.4 3037.1L968.8 3035.8L970.0 3034.1L970.9 3032.4L971.7 3030.6L972.5 3028.7L973.2 3026.8L973.8 3025.0L974.4 3023.0L975.0 3021.1L975.5 3019.2L976.0 3017.3L976.5 3015.3L976.9 3013.4L977.3 3011.4L977.7 3009.4L978.1 3007.5L978.4 3005.5L978.8 3003.5L979.1 3001.6L979.4 2999.6L979.7 2997.6L980.0 2995.6L980.2 2993.6L980.5 2991.7L980.8 2989.7L981.0 2987.7L981.3 2985.7L981.6 2983.7L981.8 2981.8L982.1 2979.8L982.3 2977.8L982.6 2975.8L982.8 2973.8L983.0 2971.8L983.3 2969.8L983.5 2967.9L983.8 2965.9L984.0 2963.9L984.3 2961.9L984.6 2959.9L984.8 2957.9L985.1 2956.0L985.3 2954.0L985.6 2952.0L985.9 2950.0L986.1 2948.0L986.4 2946.0L986.7 2944.1L987.0 2942.1L987.2 2940.1L987.5 2938.1L987.8 2936.1L988.0 2934.2L988.3 2932.2L988.6 2930.2L988.9 2928.2L989.1 2926.2L989.4 2924.2L989.6 2922.3L989.9 2920.3L990.2 2918.3L990.4 2916.3L990.7 2914.3L990.9 2912.3L991.1 2910.4L991.4 2908.4L991.6 2906.4L991.8 2904.4L992.1 2902.4L992.3 2900.4L992.5 2898.4L992.7 2896.4L992.9 2894.5L993.1 2892.5L993.3 2890.5L993.5 2888.5L993.7 2886.5L993.9 2884.5L994.0 2882.5L994.2 2880.5L994.4 2878.5L994.6 2876.5L994.8 2874.5L995.0 2872.6L995.2 2870.6L995.4 2868.6L995.6 2866.6L995.8 2864.6L996.0 2862.6L996.2 2860.6L996.5 2858.6L996.7 2856.6L996.9 2854.7L997.2 2852.7L997.5 2850.7L997.7 2848.7L998.0 2846.7L998.3 2844.8L998.6 2842.8L998.8 2840.8L999.1 2838.8L999.4 2836.8L999.8 2834.9L1000.1 2832.9L1000.4 2830.9L1000.7 2828.9L1001.0 2827.0L1001.4 2825.0L1001.7 2823.0L1002.0 2821.1L1002.4 2819.1L1002.7 2817.1L1003.1 2815.1L1003.4 2813.2L1003.8 2811.2L1004.2 2809.2L1004.6 2807.3L1005.0 2805.3L1005.4 2803.4L1005.9 2801.4L1006.5 2799.5L1007.2 2797.7L1008.0 2795.9L1009.1 2794.2L1010.5 2792.8L1012.0 2791.8L1013.7 2791.5L1015.4 2792.1L1016.8 2793.4L1017.8 2795.0L1018.7 2796.8L1019.3 2798.7L1019.9 2800.6L1020.3 2802.6L1020.7 2804.5L1021.1 2806.5L1021.4 2808.5L1021.7 2810.4L1022.0 2812.4L1022.3 2814.4L1022.6 2816.4L1022.8 2818.4L1023.1 2820.3L1023.3 2822.3L1023.5 2824.3L1023.7 2826.3L1023.9 2828.3L1024.0 2830.3L1024.2 2832.3L1024.3 2834.3L1024.4 2836.3L1024.6 2838.3L1024.7 2840.3L1024.8 2842.3L1024.9 2844.3L1025.0 2846.3L1025.1 2848.3L1025.2 2850.3L1025.3 2852.3L1025.4 2854.3L1025.5 2856.3L1025.6 2858.2L1025.7 2860.2L1025.8 2862.2L1025.9 2864.2L1026.0 2866.2L1026.1 2868.2L1026.2 2870.2L1026.3 2872.2L1026.5 2874.2L1026.6 2876.2L1026.7 2878.2L1026.8 2880.2L1027.0 2882.2L1027.1 2884.2L1027.2 2886.2L1027.4 2888.2L1027.5 2890.2L1027.7 2892.2L1027.8 2894.2L1027.9 2896.2L1028.1 2898.2L1028.2 2900.2L1028.4 2902.2L1028.5 2904.2L1028.7 2906.1L1028.8 2908.1L1028.9 2910.1L1029.1 2912.1L1029.2 2914.1L1029.4 2916.1L1029.5 2918.1L1029.7 2920.1L1029.9 2922.1L1030.0 2924.1L1030.2 2926.1L1030.3 2928.1L1030.5 2930.1L1030.6 2932.1L1030.8 2934.1L1030.9 2936.1L1031.1 2938.1L1031.2 2940.1L1031.4 2942.0L1031.6 2944.0L1031.7 2946.0L1031.9 2948.0L1032.0 2950.0L1032.2 2952.0L1032.4 2954.0L1032.5 2956.0L1032.7 2958.0L1032.9 2960.0L1033.1 2962.0L1033.2 2964.0L1033.4 2966.0L1033.6 2968.0L1033.8 2969.9L1034.0 2971.9L1034.2 2973.9L1034.4 2975.9L1034.6 2977.9L1034.8 2979.9L1035.0 2981.9L1035.2 2983.9L1035.5 2985.9L1035.7 2987.8L1035.9 2989.8L1036.1 2991.8L1036.4 2993.8L1036.6 2995.8L1036.8 2997.8L1037.1 2999.8L1037.3 3001.7L1037.5 3003.7L1037.8 3005.7L1038.0 3007.7L1038.3 3009.7L1038.5 3011.7L1038.7 3013.7L1039.0 3015.6L1039.2 3017.6L1039.5 3019.6L1039.7 3021.6L1039.9 3023.6L1040.2 3025.6L1040.4 3027.6L1040.7 3029.5L1041.0 3031.5L1041.2 3033.5L1041.5 3035.5L1041.7 3037.5L1042.0 3039.5L1042.3 3041.4L1042.5 3043.4L1042.8 3045.4L1043.0 3047.4L1043.3 3049.4L1043.5 3051.4L1043.8 3053.3L1044.0 3055.3L1044.2 3057.3L1044.4 3059.3L1044.6 3061.3L1044.8 3063.3L1044.9 3065.3L1045.1 3067.3L1045.2 3069.3L1045.3 3071.3L1045.5 3073.3L1045.6 3075.3L1045.7 3077.3L1045.8 3079.3L1045.9 3081.3L1046.0 3083.3L1046.1 3085.2L1046.3 3087.2L1046.5 3089.2L1046.7 3091.2L1046.9 3093.2L1047.1 3095.2L1047.5 3097.2L1047.8 3099.1L1048.2 3101.1L1048.6 3103.1L1049.0 3105.0L1049.5 3106.9L1050.0 3108.9L1050.6 3110.8L1051.1 3112.7L1051.7 3114.6L1052.3 3116.6L1052.9 3118.5L1053.5 3120.4L1054.1 3122.3L1054.8 3124.2L1055.4 3126.0L1056.1 3127.9L1056.8 3129.8L1057.6 3131.6L1058.4 3133.5L1059.2 3135.3L1059.9 3137.2L1060.7 3139.0L1061.4 3140.9L1062.1 3142.8L1062.8 3144.6L1063.4 3146.5L1064.0 3148.5L1064.5 3150.4L1065.0 3152.3L1065.4 3154.3L1065.8 3156.2L1066.2 3158.2L1066.6 3160.2L1067.0 3162.1L1067.4 3164.1L1067.8 3166.0L1068.2 3168.0L1068.7 3169.9L1069.1 3171.9L1069.6 3173.8L1070.1 3175.8L1070.7 3177.7L1071.4 3179.5L1072.2 3181.4L1073.1 3183.2L1074.1 3184.9L1075.1 3186.6L1076.3 3188.2L1077.5 3189.8L1078.8 3191.3L1080.1 3192.8L1081.6 3194.2L1083.2 3195.3L1084.8 3196.4L1086.4 3197.6L1087.8 3199.1L1089.1 3200.6L1090.2 3202.2L1091.3 3203.9L1092.4 3205.5L1093.6 3207.2L1094.7 3208.8L1096.0 3210.4L1097.4 3211.8L1099.0 3213.0L1100.6 3214.1L1102.2 3215.3L1103.6 3216.6L1104.9 3218.2L1106.1 3219.8L1107.2 3221.4L1108.3 3223.1L1109.4 3224.8L1110.6 3226.4L1111.8 3228.0L1113.1 3229.5L1114.6 3230.7L1116.3 3231.6L1118.2 3232.0L1120.1 3232.1L1122.1 3232.2L1124.0 3232.6L1125.6 3233.5L1127.0 3234.8L1128.1 3236.4L1129.1 3238.2L1130.1 3239.9L1131.1 3241.6L1132.2 3243.2L1133.6 3244.6L1135.3 3245.5L1137.2 3245.8L1139.1 3245.7L1141.1 3245.4L1143.0 3244.9L1145.0 3244.4L1146.9 3244.1L1148.9 3244.0L1150.8 3244.4L1152.6 3245.2L1154.3 3246.2L1156.0 3247.2L1157.8 3247.9L1159.7 3248.1L1161.6 3247.7L1163.5 3247.3L1165.4 3247.2L1167.0 3247.7L1168.3 3249.0L1169.3 3250.7L1170.1 3252.5L1170.8 3254.4L1171.5 3256.3L1172.3 3258.1L1173.2 3259.8L1174.4 3261.0L1175.9 3261.2L1177.4 3260.4L1178.8 3259.0L1180.1 3257.5L1181.4 3256.2L1183.0 3255.4L1184.7 3255.6L1186.1 3256.7L1187.4 3258.2L1188.5 3259.8L1189.6 3261.5L1190.8 3263.1L1192.1 3264.6L1193.6 3265.9L1195.3 3267.0L1197.1 3267.8L1198.9 3268.6L1200.7 3269.4L1202.4 3270.4L1203.9 3271.6L1205.1 3273.2L1206.1 3274.9L1206.9 3276.7L1207.9 3278.4L1209.2 3279.8L1210.8 3280.9L1212.6 3281.8L1214.5 3282.4L1216.4 3282.7L1218.4 3282.8L1220.3 3282.5L1222.0 3281.7L1223.5 3280.4L1225.0 3279.1L1226.5 3278.0L1228.3 3277.5L1230.2 3277.5L1232.1 3278.0L1234.0 3278.7L1235.8 3279.5L1237.7 3280.2L1239.6 3280.9L1241.5 3281.4L1243.4 3281.8L1245.4 3282.2L1247.4 3282.5L1249.3 3283.0L1251.1 3283.8L1252.9 3284.7L1254.6 3285.7L1256.3 3286.6L1258.2 3287.0L1259.9 3286.6L1261.4 3285.5L1262.7 3284.0L1263.8 3282.4L1264.8 3280.6L1265.8 3278.9L1266.8 3277.2L1267.9 3275.6L1269.2 3274.1L1270.8 3273.1L1272.6 3272.7L1274.6 3272.8L1276.5 3273.3L1278.4 3273.7L1280.4 3273.9L1282.4 3273.8L1284.3 3273.5L1286.3 3273.2L1288.3 3273.1L1290.2 3273.3L1292.1 3273.8L1294.0 3274.6L1295.7 3275.5L1297.5 3276.5L1299.2 3277.6L1300.9 3278.6L1302.6 3279.6L1304.3 3280.7L1306.0 3281.8L1307.6 3282.9L1309.3 3284.1L1310.9 3285.2L1312.5 3286.4L1314.1 3287.6L1315.6 3288.9L1317.2 3290.1L1318.7 3291.4L1320.3 3292.7L1321.8 3294.0L1323.2 3295.4L1324.7 3296.8L1326.0 3298.3L1327.3 3299.8L1328.5 3301.4L1329.8 3302.9L1331.2 3304.0L1332.8 3304.4L1334.3 3303.6L1335.4 3302.2L1336.3 3300.5L1337.1 3298.6L1337.9 3296.8L1338.7 3295.0L1339.6 3293.2L1340.6 3291.4L1341.7 3289.8L1343.0 3288.3L1344.5 3287.1L1346.3 3286.4L1348.2 3286.3L1350.1 3286.7L1352.0 3287.3L1353.8 3288.1L1355.6 3289.0L1357.3 3290.0L1358.8 3291.3L1360.3 3292.6L1361.9 3293.8L1363.6 3294.6L1365.5 3294.9L1367.4 3294.8L1369.4 3294.4L1371.3 3293.9L1373.3 3293.5L1375.2 3293.3L1377.2 3293.3L1379.2 3293.7L1381.1 3294.2L1383.0 3294.7L1385.0 3295.3L1386.9 3295.7L1388.8 3295.9L1390.7 3295.6L1392.5 3294.8L1394.0 3293.6L1395.5 3292.3L1397.0 3291.1L1398.7 3290.3L1400.6 3290.0L1402.6 3290.1L1404.6 3290.2L1406.6 3290.2L1408.5 3289.8L1410.3 3289.1L1412.1 3288.1L1413.8 3287.1L1415.5 3286.1L1417.3 3285.2L1419.2 3284.5L1421.1 3284.1L1423.1 3283.8L1425.1 3283.7L1427.1 3283.7L1429.1 3283.7L1431.1 3283.8L1433.0 3283.9L1434.7 3284.0L1436.5 3284.1"/>
<path stroke="#F14040" d="M136.8 3293.3L138.8 3292.6L140.6 3292.1L142.5 3291.6L144.5 3291.3L146.4 3291.5L148.1 3292.3L149.7 3293.4L151.2 3294.7L152.8 3295.7L154.6 3296.1L156.5 3295.9L158.4 3295.3L160.2 3294.4L162.0 3293.5L163.8 3292.6L165.6 3291.9L167.5 3291.4L169.5 3291.2L171.4 3291.4L173.4 3291.8L175.3 3292.3L177.3 3292.8L179.2 3293.3L181.1 3293.6L183.1 3293.6L185.1 3293.4L187.1 3293.0L189.0 3292.7L191.0 3292.5L192.9 3292.7L194.8 3293.2L196.6 3294.1L198.3 3295.1L200.0 3296.1L201.8 3297.0L203.6 3297.6L205.6 3297.7L207.5 3297.4L209.4 3297.0L211.4 3296.7L213.3 3296.9L215.3 3297.4L217.2 3298.0L219.1 3298.5L221.0 3299.0L223.0 3299.1L224.9 3298.8L226.8 3298.3L228.7 3297.7L230.6 3297.1L232.6 3296.8L234.5 3296.8L236.5 3297.1L238.4 3297.7L240.2 3298.4L242.1 3299.0L244.1 3299.4L246.0 3299.3L247.8 3298.7L249.3 3297.6L250.6 3296.1L251.8 3294.5L252.9 3292.8L253.9 3291.1L255.0 3289.5L256.2 3287.9L257.6 3286.5L259.2 3285.4L261.1 3284.9L263.0 3284.7L265.0 3284.9L266.9 3285.2L268.9 3285.5L270.9 3285.8L272.9 3286.1L274.8 3286.5L276.8 3286.9L278.8 3287.2L280.7 3287.5L282.7 3287.7L284.7 3287.7L286.7 3287.4L288.7 3287.1L290.6 3286.9L292.6 3286.8L294.5 3287.2L296.2 3288.0L297.7 3289.3L298.9 3290.8L299.9 3292.6L300.8 3294.3L301.7 3296.1L302.6 3297.9L303.5 3299.7L304.5 3301.4L305.7 3302.9L307.2 3304.0L309.0 3304.5L310.8 3304.3L312.6 3303.5L314.3 3302.4L315.9 3301.2L317.4 3299.9L318.8 3298.6L320.3 3297.2L321.7 3295.8L323.0 3294.3L324.2 3292.7L325.3 3291.0L326.4 3289.3L327.5 3287.7L328.6 3286.0L329.8 3284.4L331.1 3282.9L332.5 3281.6L334.2 3280.9L335.9 3281.0L337.4 3282.0L338.8 3283.4L340.0 3285.0L341.0 3286.6L342.1 3288.3L343.2 3290.0L344.3 3291.7L345.6 3293.1L347.1 3294.2L348.8 3294.6L350.5 3294.1L352.1 3292.9L353.4 3291.5L354.7 3289.9L355.8 3288.3L357.0 3286.7L358.3 3285.1L359.6 3283.7L361.1 3282.5L362.8 3281.9L364.6 3282.0L366.3 3282.8L367.9 3283.9L369.5 3285.1L371.2 3286.1L373.0 3286.7L375.0 3286.9L376.9 3286.7L378.9 3286.3L380.8 3285.8L382.8 3285.3L384.7 3284.7L386.6 3284.2L388.6 3283.7L390.5 3283.3L392.4 3282.8L394.4 3282.3L396.3 3281.7L398.2 3281.0L400.0 3280.2L401.8 3279.4L403.5 3278.4L405.2 3277.3L406.9 3276.2L408.5 3275.0L410.2 3274.0L411.9 3273.0L413.8 3272.4L415.6 3272.3L417.3 3273.0L419.0 3274.0L420.8 3274.9L422.6 3275.6L424.5 3276.2L426.4 3276.9L428.3 3277.6L430.1 3278.5L431.8 3279.5L433.4 3280.6L435.0 3281.8L436.6 3283.0L438.2 3284.3L439.8 3285.4L441.6 3286.2L443.4 3286.6L445.3 3286.3L447.0 3285.4L448.6 3284.3L450.2 3283.1L451.9 3282.2L453.6 3282.0L455.4 3282.5L457.2 3283.3L459.0 3283.9L460.7 3283.8L462.3 3282.9L463.8 3281.6L465.0 3280.0L466.3 3278.5L467.5 3276.9L468.7 3275.3L470.1 3273.8L471.5 3272.5L473.1 3271.3L474.9 3270.4L476.7 3269.6L478.6 3269.2L480.6 3269.1L482.5 3269.4L484.4 3270.0L486.1 3271.0L487.7 3272.1L489.3 3273.4L490.9 3274.6L492.6 3275.7L494.3 3276.5L496.2 3277.1L498.1 3277.1L500.0 3276.8L501.9 3276.2L503.7 3275.3L505.5 3274.4L507.3 3273.5L509.0 3272.5L510.8 3271.6L512.6 3270.7L514.3 3269.7L516.0 3268.7L517.8 3267.8L519.6 3267.0L521.6 3266.5L523.5 3266.1L525.5 3265.9L527.5 3265.8L529.5 3265.8L531.5 3266.0L533.4 3266.3L535.3 3266.9L537.2 3267.7L538.9 3268.7L540.5 3269.8L542.2 3270.9L543.9 3271.9L545.7 3272.7L547.6 3273.0L549.5 3272.7L551.3 3272.0L552.9 3270.9L554.5 3269.7L556.0 3268.4L557.5 3267.0L559.1 3265.8L560.7 3264.7L562.5 3263.7L564.3 3263.0L566.2 3262.4L568.2 3262.1L570.1 3261.9L572.1 3262.1L574.0 3262.6L575.6 3263.6L577.0 3265.0L578.2 3266.5L579.4 3268.1L580.7 3269.6L582.2 3270.9L583.9 3271.6L585.8 3271.6L587.6 3271.0L589.4 3270.2L591.2 3269.2L592.9 3268.3L594.7 3267.5L596.6 3266.9L598.6 3266.7L600.5 3266.9L602.5 3267.4L604.4 3268.0L606.3 3268.6L608.2 3269.0L610.1 3269.0L612.0 3268.7L613.8 3267.8L615.5 3266.8L617.0 3265.5L618.5 3264.2L620.0 3262.8L621.4 3261.5L622.9 3260.1L624.2 3258.6L625.5 3257.2L627.0 3256.2L628.6 3256.2L630.0 3257.2L631.2 3258.7L632.2 3260.5L633.1 3262.2L634.1 3264.0L635.1 3265.7L636.4 3267.2L637.8 3268.5L639.6 3269.2L641.5 3269.5L643.4 3269.4L645.3 3268.9L647.2 3268.2L648.9 3267.3L650.6 3266.2L652.1 3264.9L653.4 3263.4L654.6 3261.8L655.6 3260.1L656.5 3258.3L657.4 3256.5L658.3 3254.7L659.2 3252.9L660.2 3251.2L661.3 3249.5L662.6 3248.2L664.2 3247.3L666.1 3247.3L667.9 3247.8L669.7 3248.7L671.5 3249.4L673.4 3249.8L675.4 3249.9L677.3 3249.8L679.3 3249.5L681.3 3249.0L683.1 3248.4L684.9 3247.5L686.6 3246.5L688.1 3245.2L689.4 3243.7L690.6 3242.1L691.7 3240.4L692.6 3238.7L693.6 3236.9L694.6 3235.2L695.7 3233.5L696.8 3231.8L698.0 3230.3L699.4 3228.8L700.9 3227.5L702.5 3226.3L704.2 3225.2L705.9 3224.2L707.6 3223.2L709.3 3222.2L711.1 3221.2L712.8 3220.2L714.6 3219.3L716.3 3218.3L718.1 3217.5L719.9 3216.6L721.7 3215.7L723.5 3214.7L725.2 3213.7L726.8 3212.5L728.4 3211.3L730.0 3210.1L731.6 3208.9L733.1 3207.6L734.7 3206.3L736.2 3205.0L737.6 3203.7L739.1 3202.3L740.5 3200.8L741.8 3199.4L743.0 3197.8L744.2 3196.2L745.1 3194.4L746.0 3192.6L746.7 3190.7L747.3 3188.8L747.9 3186.9L748.5 3185.0L749.2 3183.1L750.0 3181.4L751.1 3179.8L752.6 3178.5L754.3 3177.8L756.3 3177.4L758.2 3177.2L760.1 3176.8L761.8 3175.9L763.3 3174.6L764.5 3173.0L765.5 3171.3L766.5 3169.6L767.3 3167.8L768.1 3165.9L768.9 3164.1L769.6 3162.2L770.3 3160.3L770.9 3158.5L771.6 3156.6L772.1 3154.6L772.6 3152.7L773.1 3150.8L773.6 3148.8L774.0 3146.9L774.3 3144.9L774.7 3142.9L775.0 3141.0L775.4 3139.0L775.7 3137.0L776.1 3135.0L776.4 3133.1L776.8 3131.1L777.2 3129.1L777.6 3127.2L778.0 3125.2L778.4 3123.3L778.8 3121.3L779.2 3119.4L779.6 3117.4L780.0 3115.4L780.4 3113.5L780.8 3111.5L781.2 3109.5L781.5 3107.6L781.9 3105.6L782.2 3103.6L782.5 3101.7L782.8 3099.7L783.2 3097.7L783.4 3095.7L783.7 3093.8L784.0 3091.8L784.3 3089.8L784.6 3087.8L784.9 3085.8L785.1 3083.9L785.4 3081.9L785.7 3079.9L786.0 3077.9L786.3 3075.9L786.6 3074.0L787.0 3072.0L787.3 3070.0L787.6 3068.0L787.9 3066.1L788.3 3064.1L788.6 3062.1L788.8 3060.1L789.1 3058.2L789.4 3056.2L789.6 3054.2L789.9 3052.2L790.1 3050.2L790.3 3048.2L790.5 3046.2L790.7 3044.3L791.0 3042.3L791.2 3040.3L791.4 3038.3L791.5 3036.3L791.7 3034.3L791.9 3032.3L792.1 3030.3L792.3 3028.3L792.5 3026.3L792.7 3024.3L792.9 3022.4L793.0 3020.4L793.2 3018.4L793.4 3016.4L793.6 3014.4L793.8 3012.4L793.9 3010.4L794.1 3008.4L794.3 3006.4L794.5 3004.4L794.6 3002.4L794.8 3000.4L795.0 2998.5L795.1 2996.5L795.3 2994.5L795.5 2992.5L795.6 2990.5L795.8 2988.5L796.0 2986.5L796.1 2984.5L796.3 2982.5L796.5 2980.5L796.6 2978.5L796.8 2976.5L797.0 2974.5L797.1 2972.5L797.3 2970.5L797.5 2968.6L797.6 2966.6L797.8 2964.6L798.0 2962.6L798.1 2960.6L798.3 2958.6L798.5 2956.6L798.7 2954.6L798.8 2952.6L799.0 2950.6L799.2 2948.6L799.3 2946.6L799.5 2944.6L799.7 2942.6L799.8 2940.7L800.0 2938.7L800.2 2936.7L800.3 2934.7L800.5 2932.7L800.6 2930.7L800.8 2928.7L800.9 2926.7L801.1 2924.7L801.2 2922.7L801.3 2920.7L801.5 2918.7L801.6 2916.7L801.7 2914.7L801.9 2912.7L802.0 2910.7L802.1 2908.7L802.2 2906.7L802.4 2904.7L802.5 2902.7L802.6 2900.8L802.7 2898.8L802.8 2896.8L802.9 2894.8L803.1 2892.8L803.2 2890.8L803.3 2888.8L803.4 2886.8L803.5 2884.8L803.6 2882.8L803.7 2880.8L803.8 2878.8L803.9 2876.8L804.1 2874.8L804.2 2872.8L804.3 2870.8L804.4 2868.8L804.5 2866.8L804.6 2864.8L804.7 2862.8L804.9 2860.8L805.0 2858.8L805.1 2856.8L805.2 2854.8L805.3 2852.8L805.5 2850.8L805.6 2848.8L805.7 2846.8L805.8 2844.8L805.9 2842.8L806.1 2840.9L806.2 2838.9L806.3 2836.9L806.4 2834.9L806.6 2832.9L806.7 2830.9L806.8 2828.9L807.0 2826.9L807.1 2824.9L807.2 2822.9L807.3 2820.9L807.5 2818.9L807.6 2816.9L807.7 2814.9L807.9 2812.9L808.0 2810.9L808.1 2808.9L808.2 2806.9L808.4 2804.9L808.5 2802.9L808.6 2800.9L808.8 2798.9L808.9 2796.9L809.0 2794.9L809.1 2793.0L809.3 2791.0L809.4 2789.0L809.5 2787.0L809.7 2785.0L809.8 2783.0L809.9 2781.0L810.0 2779.0L810.2 2777.0L810.3 2775.0L810.4 2773.0L810.6 2771.0L810.7 2769.0L810.8 2767.0L810.9 2765.0L811.1 2763.0L811.2 2761.0L811.3 2759.0L811.4 2757.0L811.6 2755.0L811.7 2753.0L811.8 2751.0L811.9 2749.0L812.1 2747.0L812.2 2745.0L812.3 2743.1L812.4 2741.1L812.5 2739.1L812.7 2737.1L812.8 2735.1L812.9 2733.1L813.0 2731.1L813.2 2729.1L813.3 2727.1L813.4 2725.1L813.5 2723.1L813.7 2721.1L813.8 2719.1L813.9 2717.1L814.0 2715.1L814.2 2713.1L814.3 2711.1L814.4 2709.1L814.5 2707.1L814.7 2705.1L814.8 2703.1L814.9 2701.1L815.1 2699.1L815.2 2697.1L815.3 2695.1L815.4 2693.1L815.6 2691.2L815.7 2689.2L815.8 2687.2L815.9 2685.2L816.1 2683.2L816.2 2681.2L816.3 2679.2L816.4 2677.2L816.5 2675.2L816.7 2673.2L816.8 2671.2L816.9 2669.2L817.0 2667.2L817.2 2665.2L817.3 2663.2L817.4 2661.2L817.5 2659.2L817.7 2657.2L817.8 2655.2L817.9 2653.2L818.1 2651.2L818.2 2649.2L818.3 2647.2L818.4 2645.2L818.6 2643.2L818.7 2641.3L818.9 2639.3L819.0 2637.3L819.1 2635.3L819.3 2633.3L819.4 2631.3L819.6 2629.3L819.7 2627.3L819.9 2625.3L820.0 2623.3L820.2 2621.3L820.3 2619.3L820.5 2617.3L820.6 2615.3L820.8 2613.3L820.9 2611.3L821.1 2609.3L821.2 2607.3L821.4 2605.4L821.6 2603.4L821.7 2601.4L821.9 2599.4L822.1 2597.4L822.2 2595.4L822.4 2593.4L822.6 2591.4L822.7 2589.4L822.9 2587.4L823.1 2585.4L823.3 2583.4L823.4 2581.4L823.6 2579.4L823.8 2577.5L824.0 2575.5L824.2 2573.5L824.4 2571.5L824.6 2569.5L824.8 2567.5L825.0 2565.5L825.2 2563.5L825.5 2561.5L825.7 2559.6L826.0 2557.6L826.3 2555.6L826.7 2553.6L827.1 2551.7L827.7 2549.8L828.4 2547.9L829.1 2546.0L829.8 2544.2L830.4 2542.3L831.2 2540.4L832.1 2538.8L833.2 2537.9L834.5 2538.2L835.6 2539.6L836.4 2541.3L837.1 2543.2L837.7 2545.1L838.3 2547.0L838.8 2548.9L839.4 2550.9L839.8 2552.8L840.3 2554.8L840.8 2556.7L841.2 2558.7L841.6 2560.6L842.0 2562.6L842.4 2564.5L842.8 2566.5L843.2 2568.4L843.6 2570.4L844.0 2572.4L844.4 2574.3L844.8 2576.3L845.1 2578.3L845.5 2580.2L845.9 2582.2L846.2 2584.2L846.6 2586.1L846.9 2588.1L847.3 2590.1L847.6 2592.0L848.0 2594.0L848.3 2596.0L848.6 2598.0L848.9 2599.9L849.2 2601.9L849.5 2603.9L849.8 2605.9L850.1 2607.8L850.4 2609.8L850.7 2611.8L851.0 2613.8L851.3 2615.8L851.6 2617.7L851.9 2619.7L852.2 2621.7L852.5 2623.7L852.8 2625.6L853.2 2627.6L853.5 2629.6L853.8 2631.6L854.1 2633.5L854.5 2635.5L854.8 2637.5L855.2 2639.4L855.6 2641.4L855.9 2643.4L856.3 2645.3L856.6 2647.3L857.0 2649.3L857.4 2651.2L857.8 2653.2L858.2 2655.2L858.6 2657.1L859.0 2659.1L859.4 2661.0L859.8 2663.0L860.2 2664.9L860.6 2666.9L861.1 2668.9L861.5 2670.8L862.0 2672.8L862.4 2674.7L862.8 2676.7L863.3 2678.6L863.7 2680.6L864.1 2682.5L864.5 2684.5L865.0 2686.4L865.4 2688.4L865.9 2690.3L866.4 2692.3L867.0 2694.2L867.7 2696.0L868.6 2697.4L869.7 2697.7L870.7 2696.7L871.5 2695.1L872.1 2693.2L872.6 2691.2L873.0 2689.3L873.4 2687.3L873.8 2685.4L874.2 2683.4L874.5 2681.4L874.9 2679.5L875.2 2677.5L875.5 2675.5L875.8 2673.5L876.1 2671.6L876.4 2669.6L876.6 2667.6L876.9 2665.6L877.1 2663.6L877.3 2661.6L877.5 2659.6L877.8 2657.7L878.0 2655.7L878.1 2653.7L878.3 2651.7L878.5 2649.7L878.7 2647.7L878.9 2645.7L879.1 2643.7L879.2 2641.7L879.4 2639.7L879.6 2637.7L879.8 2635.8L879.9 2633.8L880.1 2631.8L880.3 2629.8L880.5 2627.8L880.6 2625.8L880.8 2623.8L881.0 2621.8L881.2 2619.8L881.4 2617.8L881.5 2615.8L881.7 2613.8L881.9 2611.8L882.0 2609.9L882.2 2607.9L882.4 2605.9L882.5 2603.9L882.7 2601.9L882.9 2599.9L883.0 2597.9L883.2 2595.9L883.4 2593.9L883.5 2591.9L883.7 2589.9L883.9 2587.9L884.0 2585.9L884.2 2583.9L884.3 2581.9L884.5 2580.0L884.7 2578.0L884.8 2576.0L885.0 2574.0L885.2 2572.0L885.3 2570.0L885.5 2568.0L885.7 2566.0L885.8 2564.0L886.0 2562.0L886.1 2560.0L886.3 2558.0L886.5 2556.0L886.6 2554.0L886.8 2552.0L886.9 2550.1L887.1 2548.1L887.2 2546.1L887.4 2544.1L887.5 2542.1L887.7 2540.1L887.9 2538.1L888.0 2536.1L888.2 2534.1L888.3 2532.1L888.5 2530.1L888.7 2528.1L888.8 2526.1L889.0 2524.1L889.2 2522.1L889.4 2520.2L889.6 2518.2L889.7 2516.2L889.9 2514.2L890.1 2512.2L890.3 2510.2L890.6 2508.2L890.8 2506.2L891.0 2504.2L891.2 2502.2L891.5 2500.3L891.7 2498.3L891.9 2496.3L892.2 2494.3L892.5 2492.3L892.7 2490.3L893.0 2488.4L893.3 2486.4L893.5 2484.4L893.8 2482.4L894.1 2480.4L894.4 2478.5L894.7 2476.5L895.1 2474.5L895.5 2472.6L896.0 2470.7L896.7 2469.4L897.7 2469.2L898.6 2470.3L899.2 2472.1L899.6 2474.1L899.9 2476.1L900.1 2478.0L900.3 2480.0L900.5 2482.0L900.6 2484.0L900.8 2486.0L900.9 2488.0L901.1 2490.0L901.2 2492.0L901.4 2494.0L901.5 2496.0L901.6 2498.0L901.7 2500.0L901.9 2502.0L902.0 2504.0L902.1 2506.0L902.2 2508.0L902.3 2510.0L902.4 2512.0L902.5 2513.9L902.7 2515.9L902.8 2517.9L902.9 2519.9L903.0 2521.9L903.1 2523.9L903.2 2525.9L903.3 2527.9L903.4 2529.9L903.5 2531.9L903.7 2533.9L903.8 2535.9L903.9 2537.9L904.0 2539.9L904.1 2541.9L904.2 2543.9L904.3 2545.9L904.4 2547.9L904.5 2549.9L904.6 2551.9L904.7 2553.9L904.8 2555.9L904.9 2557.9L905.0 2559.9L905.1 2561.9L905.2 2563.9L905.3 2565.9L905.4 2567.9L905.5 2569.9L905.6 2571.9L905.7 2573.9L905.8 2575.9L905.9 2577.9L906.0 2579.9L906.1 2581.9L906.2 2583.9L906.3 2585.8L906.4 2587.8L906.5 2589.8L906.6 2591.8L906.7 2593.8L906.8 2595.8L906.9 2597.8L907.0 2599.8L907.1 2601.8L907.2 2603.8L907.3 2605.8L907.4 2607.8L907.5 2609.8L907.6 2611.8L907.7 2613.8L907.8 2615.8L908.0 2617.8L908.1 2619.8L908.2 2621.8L908.3 2623.8L908.4 2625.8L908.5 2627.8L908.6 2629.8L908.7 2631.8L908.8 2633.8L908.9 2635.8L909.0 2637.8L909.1 2639.8L909.2 2641.8L909.3 2643.8L909.4 2645.8L909.5 2647.8L909.6 2649.8L909.7 2651.8L909.8 2653.8L909.9 2655.8L910.0 2657.8L910.1 2659.8L910.2 2661.8L910.3 2663.7L910.4 2665.7L910.5 2667.7L910.6 2669.7L910.7 2671.7L910.8 2673.7L910.9 2675.7L911.0 2677.7L911.1 2679.7L911.2 2681.7L911.3 2683.7L911.4 2685.7L911.5 2687.7L911.6 2689.7L911.7 2691.7L911.8 2693.7L911.9 2695.7L912.0 2697.7L912.1 2699.7L912.2 2701.7L912.3 2703.7L912.4 2705.7L912.5 2707.7L912.5 2709.7L912.6 2711.7L912.7 2713.7L912.8 2715.7L912.9 2717.7L913.0 2719.7L913.1 2721.7L913.2 2723.7L913.3 2725.7L913.4 2727.7L913.5 2729.7L913.6 2731.7L913.7 2733.7L913.8 2735.7L913.9 2737.7L914.0 2739.7L914.1 2741.7L914.2 2743.7L914.3 2745.6L914.5 2747.6L914.6 2749.6L914.7 2751.6L914.8 2753.6L914.9 2755.6L915.0 2757.6L915.2 2759.6L915.3 2761.6L915.4 2763.6L915.6 2765.6L915.7 2767.6L915.8 2769.6L916.0 2771.6L916.1 2773.6L916.3 2775.6L916.4 2777.6L916.6 2779.6L916.7 2781.6L916.9 2783.6L917.1 2785.6L917.2 2787.5L917.4 2789.5L917.6 2791.5L917.7 2793.5L917.9 2795.5L918.1 2797.5L918.2 2799.5L918.4 2801.5L918.6 2803.5L918.7 2805.5L918.9 2807.5L919.0 2809.5L919.2 2811.5L919.4 2813.5L919.5 2815.5L919.7 2817.4L919.8 2819.4L920.0 2821.4L920.2 2823.4L920.3 2825.4L920.5 2827.4L920.6 2829.4L920.8 2831.4L921.0 2833.4L921.1 2835.4L921.3 2837.4L921.5 2839.4L921.6 2841.4L921.8 2843.4L922.0 2845.4L922.1 2847.3L922.3 2849.3L922.5 2851.3L922.6 2853.3L922.8 2855.3L922.9 2857.3L923.1 2859.3L923.3 2861.3L923.4 2863.3L923.6 2865.3L923.8 2867.3L923.9 2869.3L924.1 2871.3L924.2 2873.3L924.4 2875.3L924.5 2877.2L924.7 2879.2L924.9 2881.2L925.0 2883.2L925.2 2885.2L925.4 2887.2L925.5 2889.2L925.7 2891.2L925.8 2893.2L926.0 2895.2L926.2 2897.2L926.3 2899.2L926.5 2901.2L926.7 2903.2L926.8 2905.2L927.0 2907.1L927.2 2909.1L927.3 2911.1L927.5 2913.1L927.7 2915.1L927.8 2917.1L928.0 2919.1L928.2 2921.1L928.3 2923.1L928.5 2925.1L928.6 2927.1L928.8 2929.1L929.0 2931.1L929.1 2933.1L929.3 2935.1L929.5 2937.0L929.7 2939.0L929.8 2941.0L930.0 2943.0L930.2 2945.0L930.4 2947.0L930.6 2949.0L930.9 2951.0L931.1 2953.0L931.3 2955.0L931.6 2956.9L931.8 2958.9L932.1 2960.9L932.4 2962.9L932.6 2964.9L932.9 2966.8L933.2 2968.8L933.5 2970.8L933.8 2972.8L934.1 2974.7L934.5 2976.7L934.8 2978.7L935.1 2980.7L935.5 2982.6L935.9 2984.6L936.2 2986.6L936.6 2988.5L937.0 2990.5L937.4 2992.4L937.8 2994.4L938.3 2996.4L938.7 2998.3L939.2 3000.3L939.6 3002.2L940.1 3004.1L940.6 3006.1L941.1 3008.0L941.7 3009.9L942.2 3011.9L942.8 3013.8L943.4 3015.7L943.9 3017.6L944.5 3019.5L945.2 3021.4L945.8 3023.3L946.4 3025.2L947.0 3027.1L947.7 3029.0L948.3 3030.9L949.0 3032.8L949.6 3034.7L950.3 3036.6L951.0 3038.4L951.8 3040.3L952.5 3042.1L953.3 3044.0L954.1 3045.8L954.9 3047.7L955.7 3049.5L956.6 3051.2L957.6 3053.0L958.6 3054.7L959.8 3056.3L961.0 3057.9L962.3 3059.4L963.8 3060.8L965.2 3062.1L966.8 3063.4L968.5 3064.2L970.2 3064.3L971.8 3063.6L973.0 3062.1L974.0 3060.5L974.9 3058.7L975.7 3056.8L976.5 3055.0L977.2 3053.1L977.9 3051.2L978.5 3049.3L979.1 3047.4L979.7 3045.5L980.2 3043.6L980.8 3041.7L981.3 3039.7L981.8 3037.8L982.4 3035.9L982.9 3033.9L983.3 3032.0L983.8 3030.1L984.3 3028.1L984.7 3026.2L985.1 3024.2L985.5 3022.3L985.9 3020.3L986.3 3018.3L986.8 3016.4L987.2 3014.4L987.5 3012.5L987.9 3010.5L988.3 3008.5L988.6 3006.5L988.9 3004.6L989.2 3002.6L989.5 3000.6L989.7 2998.6L990.0 2996.6L990.3 2994.7L990.5 2992.7L990.7 2990.7L991.0 2988.7L991.2 2986.7L991.4 2984.7L991.7 2982.7L991.9 2980.8L992.1 2978.8L992.3 2976.8L992.6 2974.8L992.8 2972.8L993.0 2970.8L993.2 2968.8L993.4 2966.8L993.7 2964.9L993.9 2962.9L994.1 2960.9L994.3 2958.9L994.6 2956.9L994.8 2954.9L995.0 2952.9L995.2 2950.9L995.5 2949.0L995.7 2947.0L995.9 2945.0L996.2 2943.0L996.4 2941.0L996.6 2939.0L996.9 2937.0L997.2 2935.1L997.4 2933.1L997.7 2931.1L997.9 2929.1L998.2 2927.1L998.5 2925.1L998.7 2923.2L999.0 2921.2L999.3 2919.2L999.6 2917.2L999.8 2915.2L1000.1 2913.3L1000.4 2911.3L1000.7 2909.3L1000.9 2907.3L1001.2 2905.3L1001.5 2903.4L1001.7 2901.4L1002.0 2899.4L1002.2 2897.4L1002.5 2895.4L1002.7 2893.4L1002.9 2891.4L1003.2 2889.5L1003.4 2887.5L1003.6 2885.5L1003.8 2883.5L1004.0 2881.5L1004.2 2879.5L1004.4 2877.5L1004.6 2875.5L1004.8 2873.5L1005.0 2871.6L1005.2 2869.6L1005.4 2867.6L1005.6 2865.6L1005.8 2863.6L1005.9 2861.6L1006.1 2859.6L1006.3 2857.6L1006.5 2855.6L1006.7 2853.6L1006.9 2851.6L1007.1 2849.7L1007.3 2847.7L1007.5 2845.7L1007.7 2843.7L1007.9 2841.7L1008.2 2839.7L1008.4 2837.7L1008.7 2835.7L1008.9 2833.8L1009.2 2831.8L1009.5 2829.8L1009.7 2827.8L1010.1 2825.8L1010.4 2823.9L1010.7 2821.9L1011.1 2819.9L1011.5 2818.0L1012.0 2816.1L1012.7 2814.3L1013.7 2813.1L1015.0 2813.2L1016.0 2814.3L1016.8 2816.1L1017.5 2818.0L1017.9 2819.9L1018.4 2821.9L1018.8 2823.8L1019.1 2825.8L1019.4 2827.8L1019.7 2829.7L1020.0 2831.7L1020.2 2833.7L1020.4 2835.7L1020.6 2837.7L1020.8 2839.7L1021.0 2841.7L1021.2 2843.7L1021.3 2845.7L1021.5 2847.6L1021.7 2849.6L1021.8 2851.6L1022.0 2853.6L1022.1 2855.6L1022.3 2857.6L1022.4 2859.6L1022.6 2861.6L1022.7 2863.6L1022.9 2865.6L1023.0 2867.6L1023.2 2869.6L1023.3 2871.6L1023.4 2873.6L1023.6 2875.6L1023.7 2877.6L1023.9 2879.6L1024.0 2881.6L1024.2 2883.5L1024.3 2885.5L1024.5 2887.5L1024.6 2889.5L1024.7 2891.5L1024.9 2893.5L1025.0 2895.5L1025.2 2897.5L1025.3 2899.5L1025.5 2901.5L1025.6 2903.5L1025.8 2905.5L1025.9 2907.5L1026.1 2909.5L1026.2 2911.5L1026.3 2913.5L1026.5 2915.5L1026.6 2917.5L1026.8 2919.5L1026.9 2921.5L1027.0 2923.4L1027.2 2925.4L1027.3 2927.4L1027.4 2929.4L1027.6 2931.4L1027.7 2933.4L1027.8 2935.4L1028.0 2937.4L1028.1 2939.4L1028.3 2941.4L1028.4 2943.4L1028.5 2945.4L1028.7 2947.4L1028.8 2949.4L1029.0 2951.4L1029.1 2953.4L1029.3 2955.4L1029.4 2957.4L1029.6 2959.4L1029.8 2961.3L1029.9 2963.3L1030.1 2965.3L1030.3 2967.3L1030.5 2969.3L1030.7 2971.3L1030.8 2973.3L1031.1 2975.3L1031.3 2977.3L1031.5 2979.3L1031.7 2981.3L1031.9 2983.2L1032.2 2985.2L1032.4 2987.2L1032.7 2989.2L1032.9 2991.2L1033.2 2993.2L1033.4 2995.1L1033.7 2997.1L1034.0 2999.1L1034.2 3001.1L1034.5 3003.1L1034.8 3005.0L1035.1 3007.0L1035.4 3009.0L1035.7 3011.0L1036.0 3013.0L1036.3 3014.9L1036.6 3016.9L1036.9 3018.9L1037.2 3020.9L1037.5 3022.8L1037.9 3024.8L1038.2 3026.8L1038.5 3028.8L1038.9 3030.7L1039.3 3032.7L1039.6 3034.7L1040.0 3036.6L1040.4 3038.6L1040.9 3040.5L1041.3 3042.5L1041.7 3044.4L1042.2 3046.4L1042.6 3048.3L1043.1 3050.3L1043.6 3052.2L1044.1 3054.1L1044.7 3056.0L1045.4 3057.9L1046.0 3059.8L1046.5 3061.8L1047.0 3063.7L1047.4 3065.7L1047.8 3067.6L1048.1 3069.6L1048.5 3071.6L1048.8 3073.5L1049.1 3075.5L1049.4 3077.5L1049.7 3079.5L1050.1 3081.4L1050.4 3083.4L1050.7 3085.4L1051.0 3087.4L1051.4 3089.3L1051.7 3091.3L1052.1 3093.3L1052.5 3095.2L1052.9 3097.2L1053.3 3099.1L1053.7 3101.1L1054.2 3103.0L1054.6 3105.0L1055.1 3106.9L1055.6 3108.9L1056.1 3110.8L1056.6 3112.7L1057.1 3114.7L1057.7 3116.6L1058.3 3118.5L1058.9 3120.4L1059.5 3122.3L1060.2 3124.2L1060.9 3126.1L1061.5 3128.0L1062.2 3129.8L1063.0 3131.7L1063.7 3133.6L1064.5 3135.4L1065.3 3137.2L1066.1 3139.1L1067.0 3140.9L1067.9 3142.6L1068.9 3144.3L1070.0 3146.0L1071.2 3147.6L1072.6 3149.0L1074.2 3150.2L1075.9 3151.2L1077.7 3152.1L1079.5 3152.9L1081.3 3153.7L1083.1 3154.7L1084.6 3155.9L1086.0 3157.3L1087.2 3158.9L1088.2 3160.6L1089.0 3162.4L1089.8 3164.3L1090.5 3166.1L1091.2 3168.0L1091.8 3169.9L1092.5 3171.8L1093.1 3173.7L1093.6 3175.6L1094.2 3177.6L1094.7 3179.5L1095.1 3181.4L1095.6 3183.4L1096.1 3185.3L1096.5 3187.3L1097.0 3189.2L1097.6 3191.1L1098.2 3193.1L1098.8 3194.9L1099.5 3196.8L1100.3 3198.6L1101.3 3200.4L1102.3 3202.1L1103.4 3203.8L1104.6 3205.4L1105.9 3206.9L1107.2 3208.4L1108.5 3209.9L1109.8 3211.4L1111.2 3212.9L1112.5 3214.4L1113.8 3215.9L1115.1 3217.4L1116.4 3219.0L1117.7 3220.4L1119.2 3221.8L1120.8 3222.9L1122.5 3223.5L1124.4 3223.5L1126.3 3223.0L1128.2 3222.4L1130.1 3222.2L1132.0 3222.5L1133.8 3223.3L1135.5 3224.3L1137.1 3225.4L1138.7 3226.6L1140.3 3227.9L1141.8 3229.2L1143.3 3230.5L1144.7 3232.0L1146.0 3233.4L1147.4 3234.9L1148.7 3236.4L1150.1 3237.8L1151.6 3239.1L1153.2 3240.3L1154.9 3241.3L1156.8 3242.1L1158.7 3242.7L1160.6 3243.2L1162.5 3243.6L1164.5 3244.0L1166.5 3244.4L1168.4 3244.7L1170.3 3244.6L1172.0 3243.9L1173.3 3242.6L1174.2 3240.9L1174.9 3239.0L1175.4 3237.1L1175.9 3235.1L1176.5 3233.2L1177.2 3231.4L1178.3 3230.1L1179.8 3229.6L1181.4 3230.1L1182.9 3231.3L1184.2 3232.8L1185.3 3234.4L1186.2 3236.2L1187.0 3238.0L1187.6 3239.9L1188.2 3241.8L1188.7 3243.7L1189.4 3245.6L1190.2 3247.5L1191.1 3249.2L1192.3 3250.8L1193.6 3252.2L1195.2 3253.5L1196.8 3254.7L1198.5 3255.6L1200.3 3256.5L1202.2 3257.1L1204.2 3257.5L1206.1 3257.8L1208.1 3258.1L1210.1 3258.3L1212.1 3258.6L1214.1 3258.9L1216.0 3259.2L1218.0 3259.5L1220.0 3259.8L1221.9 3260.2L1223.9 3260.6L1225.8 3261.1L1227.8 3261.6L1229.7 3262.0L1231.7 3262.4L1233.7 3262.7L1235.7 3262.9L1237.6 3263.3L1239.6 3263.6L1241.5 3264.1L1243.4 3264.8L1245.2 3265.6L1247.0 3266.5L1248.8 3267.3L1250.7 3267.8L1252.6 3267.8L1254.5 3267.4L1256.4 3266.7L1258.2 3265.9L1260.0 3265.1L1261.9 3264.3L1263.8 3263.7L1265.7 3263.3L1267.7 3263.1L1269.7 3263.1L1271.7 3263.2L1273.6 3263.5L1275.6 3264.0L1277.4 3264.7L1279.1 3265.7L1280.7 3266.9L1282.0 3268.4L1283.1 3270.0L1284.1 3271.8L1285.0 3273.5L1285.9 3275.3L1286.8 3277.1L1287.9 3278.7L1289.3 3280.0L1290.9 3280.5L1292.5 3280.1L1294.0 3279.0L1295.4 3277.6L1296.7 3276.1L1298.1 3274.7L1299.7 3273.6L1301.6 3273.0L1303.5 3272.7L1305.5 3272.7L1307.5 3272.7L1309.4 3272.6L1311.3 3272.1L1312.9 3271.1L1314.2 3269.6L1315.3 3268.0L1316.2 3266.2L1317.3 3264.6L1318.6 3263.3L1320.3 3262.7L1322.0 3263.0L1323.7 3263.9L1325.3 3265.1L1326.8 3266.4L1328.2 3267.8L1329.5 3269.3L1330.9 3270.8L1332.2 3272.3L1333.3 3273.9L1334.3 3275.6L1335.3 3277.4L1336.2 3279.2L1337.1 3280.9L1338.3 3282.4L1339.6 3283.1L1340.9 3282.7L1342.0 3281.3L1342.9 3279.6L1343.6 3277.7L1344.3 3275.9L1345.1 3274.0L1346.0 3272.3L1347.2 3271.2L1348.6 3271.2L1349.8 3272.3L1350.8 3273.9L1351.7 3275.7L1352.5 3277.5L1353.3 3279.3L1354.0 3281.2L1354.8 3283.0L1355.6 3284.8L1356.6 3286.6L1357.7 3288.2L1359.1 3289.6L1360.8 3290.4L1362.7 3290.8L1364.6 3290.9L1366.6 3291.0L1368.5 3291.5L1370.2 3292.4L1371.9 3293.5L1373.5 3294.7L1375.2 3295.5L1377.1 3295.8L1378.8 3295.4L1380.4 3294.4L1381.9 3293.0L1383.1 3291.5L1384.4 3289.9L1385.7 3288.4L1387.0 3286.9L1388.5 3285.5L1390.1 3284.5L1391.9 3283.8L1393.8 3283.4L1395.8 3283.4L1397.8 3283.5L1399.8 3283.6L1401.8 3283.5L1403.7 3283.0L1405.5 3282.3L1407.2 3281.3L1408.8 3280.1L1410.4 3278.9L1412.0 3277.6L1413.5 3276.4L1415.1 3275.2L1416.9 3274.3L1418.7 3273.7L1420.5 3273.7L1422.1 3274.5L1423.5 3275.8L1424.7 3277.4L1425.7 3279.1L1426.7 3280.8L1427.7 3282.6L1428.8 3284.2L1430.1 3285.4L1431.7 3285.7L1433.3 3285.1L1434.7 3284.0L1436.5 3282.1"/>
<path stroke="#1A6FDF" d="M136.8 3304.7L138.6 3303.5L140.1 3302.4L141.7 3301.2L143.3 3300.1L145.0 3299.0L146.8 3298.1L148.6 3297.3L150.5 3296.9L152.5 3296.8L154.4 3297.0L156.3 3297.6L158.1 3298.4L159.9 3299.3L161.6 3300.4L163.3 3301.4L165.0 3302.5L166.6 3303.7L168.3 3304.8L169.9 3306.0L171.4 3307.3L172.8 3308.6L174.3 3310.0L175.7 3311.4L177.1 3312.8L178.6 3314.2L180.1 3315.5L181.8 3316.6L183.5 3317.5L185.3 3318.0L187.2 3317.8L188.9 3317.0L190.5 3315.8L191.9 3314.4L193.1 3312.9L194.4 3311.3L195.6 3309.7L196.9 3308.2L198.3 3306.8L199.9 3305.6L201.6 3304.8L203.5 3304.5L205.5 3304.6L207.4 3304.9L209.4 3305.4L211.3 3305.9L213.2 3306.3L215.2 3306.3L217.0 3305.8L218.6 3304.8L219.8 3303.3L220.8 3301.6L221.7 3299.8L222.5 3298.0L223.3 3296.1L224.2 3294.4L225.3 3292.8L226.8 3291.8L228.5 3291.6L230.3 3292.1L231.9 3293.2L233.4 3294.5L234.9 3295.8L236.4 3297.1L238.0 3298.4L239.6 3299.5L241.3 3300.5L243.1 3301.5L244.8 3302.5L246.6 3303.4L248.4 3304.3L250.2 3305.1L252.1 3305.8L254.0 3306.2L256.0 3306.3L257.9 3306.0L259.7 3305.3L261.4 3304.3L262.9 3303.0L264.4 3301.6L265.8 3300.2L267.1 3298.8L268.6 3297.3L270.0 3296.0L271.7 3295.0L273.4 3294.4L275.3 3294.4L276.9 3295.2L278.4 3296.5L279.7 3298.0L280.9 3299.6L282.1 3301.2L283.3 3302.8L284.5 3304.4L285.9 3305.8L287.5 3306.7L289.2 3306.8L290.8 3306.1L292.2 3304.7L293.4 3303.2L294.6 3301.5L295.7 3299.9L297.0 3298.4L298.5 3297.4L300.2 3297.1L301.8 3297.8L303.3 3299.0L304.8 3300.4L306.2 3301.7L307.8 3302.7L309.6 3302.9L311.3 3302.4L312.7 3301.2L314.1 3299.7L315.3 3298.1L316.4 3296.5L317.6 3294.9L318.7 3293.2L319.9 3291.6L321.2 3290.1L322.7 3288.8L324.4 3287.9L326.2 3287.3L328.2 3287.3L330.1 3287.5L332.0 3288.1L333.9 3288.7L335.9 3289.2L337.8 3289.8L339.7 3290.4L341.6 3291.0L343.5 3291.7L345.3 3292.4L347.2 3293.1L349.1 3293.6L351.1 3293.8L353.0 3293.7L354.6 3292.9L356.0 3291.5L357.0 3289.9L357.9 3288.1L358.6 3286.2L359.4 3284.4L360.3 3282.7L361.5 3281.1L363.0 3279.9L364.8 3279.1L366.7 3278.6L368.7 3278.4L370.7 3278.4L372.7 3278.5L374.7 3278.7L376.6 3279.0L378.6 3279.4L380.5 3280.0L382.4 3280.6L384.2 3281.4L386.0 3282.3L387.8 3283.3L389.4 3284.4L390.7 3285.8L391.9 3287.4L392.9 3289.2L393.9 3290.9L394.9 3292.6L396.1 3294.0L397.7 3294.7L399.3 3294.4L400.8 3293.4L402.2 3291.9L403.4 3290.3L404.5 3288.7L405.6 3287.0L406.6 3285.3L407.7 3283.6L408.7 3281.9L409.7 3280.1L410.7 3278.4L411.7 3276.7L412.8 3275.0L413.9 3273.4L415.1 3271.7L416.3 3270.2L417.7 3268.7L419.1 3267.3L420.6 3266.0L422.1 3264.7L423.7 3263.6L425.5 3262.9L427.4 3262.8L429.2 3263.3L431.0 3264.2L432.7 3265.3L434.3 3266.4L435.9 3267.6L437.5 3268.9L438.9 3270.3L440.3 3271.7L441.7 3273.1L443.1 3274.5L444.7 3275.7L446.4 3276.7L448.2 3277.4L450.1 3277.5L452.1 3277.4L454.1 3277.1L456.0 3276.7L458.0 3276.4L460.0 3276.3L461.9 3276.5L463.8 3277.1L465.6 3277.9L467.4 3278.7L469.2 3279.5L471.1 3279.8L472.9 3279.4L474.5 3278.5L476.0 3277.2L477.5 3275.9L479.1 3275.1L480.7 3275.1L482.1 3276.1L483.1 3277.6L484.0 3279.4L484.7 3281.3L485.4 3283.2L486.0 3285.1L486.7 3287.0L487.4 3288.8L488.1 3290.7L489.0 3292.4L490.2 3293.9L491.6 3294.5L493.2 3294.1L494.6 3292.9L495.8 3291.4L496.9 3289.7L498.0 3288.1L499.1 3286.4L500.3 3284.8L501.7 3283.4L503.2 3282.1L504.9 3281.1L506.7 3280.2L508.5 3279.4L510.3 3278.5L512.1 3277.7L513.8 3276.6L515.4 3275.5L517.0 3274.3L518.6 3273.0L520.3 3272.0L522.0 3271.2L523.9 3271.1L525.7 3271.6L527.4 3272.6L528.9 3273.8L530.4 3275.1L532.0 3276.2L533.7 3276.8L535.5 3276.6L537.0 3275.6L538.3 3274.1L539.5 3272.5L540.7 3270.9L542.0 3269.5L543.5 3268.7L545.1 3268.9L546.5 3270.0L547.7 3271.5L548.8 3273.2L549.9 3274.8L551.1 3276.4L552.5 3277.7L554.2 3278.4L556.0 3278.3L557.9 3277.7L559.6 3276.9L561.4 3275.9L563.1 3274.9L564.9 3274.1L566.8 3273.7L568.7 3273.9L570.4 3274.6L572.1 3275.7L573.7 3276.9L575.4 3277.9L577.2 3278.4L579.0 3278.3L580.8 3277.6L582.5 3276.5L584.1 3275.3L585.6 3274.0L587.2 3272.7L588.7 3271.5L590.3 3270.3L592.0 3269.3L593.8 3268.3L595.6 3267.5L597.4 3266.7L599.3 3266.0L601.2 3265.5L603.2 3265.2L605.1 3265.3L607.0 3265.8L608.8 3266.6L610.4 3267.7L612.0 3268.9L613.6 3270.1L615.2 3271.3L617.0 3272.2L618.8 3272.9L620.7 3273.2L622.7 3273.1L624.6 3272.7L626.5 3272.0L628.4 3271.3L630.2 3270.5L632.0 3269.6L633.8 3268.8L635.6 3268.0L637.4 3267.1L639.2 3266.2L641.0 3265.3L642.7 3264.2L644.2 3263.0L645.7 3261.7L647.1 3260.2L648.4 3258.7L649.5 3257.0L650.5 3255.3L651.5 3253.6L652.5 3251.8L653.4 3250.1L654.5 3248.4L655.5 3246.7L656.7 3245.1L658.1 3243.7L659.6 3242.6L661.4 3242.1L663.3 3242.3L665.1 3243.1L666.8 3244.1L668.4 3245.2L670.0 3246.4L671.6 3247.6L673.3 3248.7L675.1 3249.5L677.0 3249.8L678.9 3249.6L680.7 3248.8L682.3 3247.8L683.8 3246.4L685.1 3244.9L686.3 3243.4L687.5 3241.8L688.6 3240.1L689.6 3238.4L690.6 3236.6L691.5 3234.9L692.4 3233.1L693.3 3231.3L694.2 3229.5L695.1 3227.7L695.9 3225.9L696.9 3224.1L697.8 3222.4L698.8 3220.7L700.0 3219.1L701.4 3217.9L702.9 3217.7L704.3 3218.6L705.4 3220.1L706.5 3221.7L707.8 3222.9L709.4 3223.3L711.0 3222.7L712.4 3221.5L713.8 3220.1L715.2 3218.6L716.6 3217.2L718.1 3216.1L719.9 3215.5L721.7 3215.7L723.5 3216.4L725.2 3217.1L727.0 3217.4L728.5 3216.7L729.7 3215.3L730.6 3213.6L731.3 3211.7L732.0 3209.9L732.8 3208.0L733.8 3206.4L735.1 3205.0L736.8 3204.2L738.7 3203.9L740.7 3203.7L742.5 3203.3L744.2 3202.4L745.5 3201.0L746.4 3199.3L747.2 3197.4L747.8 3195.5L748.4 3193.6L749.0 3191.7L749.6 3189.8L750.3 3187.9L751.1 3186.1L752.0 3184.3L753.0 3182.6L754.2 3181.0L755.4 3179.4L756.7 3177.9L758.0 3176.4L759.4 3174.9L760.8 3173.5L762.1 3172.0L763.2 3170.4L764.0 3168.6L764.7 3166.7L765.2 3164.8L765.6 3162.8L766.0 3160.9L766.3 3158.9L766.6 3156.9L767.0 3154.9L767.3 3153.0L767.7 3151.0L768.1 3149.0L768.5 3147.1L768.8 3145.1L769.2 3143.2L769.6 3141.2L770.0 3139.2L770.4 3137.3L770.8 3135.3L771.2 3133.4L771.6 3131.4L771.9 3129.4L772.3 3127.5L772.6 3125.5L773.0 3123.5L773.3 3121.5L773.6 3119.6L774.0 3117.6L774.3 3115.6L774.6 3113.7L774.9 3111.7L775.2 3109.7L775.6 3107.7L775.9 3105.8L776.2 3103.8L776.4 3101.8L776.7 3099.8L777.0 3097.8L777.3 3095.8L777.5 3093.9L777.8 3091.9L778.1 3089.9L778.4 3087.9L778.7 3086.0L779.0 3084.0L779.4 3082.0L779.8 3080.1L780.2 3078.1L780.6 3076.1L781.1 3074.2L781.6 3072.3L782.0 3070.3L782.5 3068.4L783.0 3066.4L783.5 3064.5L783.9 3062.5L784.4 3060.6L784.8 3058.6L785.3 3056.7L785.7 3054.7L786.1 3052.8L786.6 3050.8L787.0 3048.9L787.4 3046.9L787.8 3045.0L788.2 3043.0L788.6 3041.0L788.9 3039.1L789.3 3037.1L789.6 3035.1L789.9 3033.1L790.2 3031.2L790.5 3029.2L790.7 3027.2L791.0 3025.2L791.2 3023.2L791.4 3021.2L791.6 3019.3L791.9 3017.3L792.1 3015.3L792.3 3013.3L792.5 3011.3L792.7 3009.3L793.0 3007.3L793.2 3005.3L793.4 3003.4L793.6 3001.4L793.9 2999.4L794.1 2997.4L794.4 2995.4L794.6 2993.4L794.8 2991.4L795.1 2989.5L795.3 2987.5L795.6 2985.5L795.8 2983.5L796.0 2981.5L796.3 2979.5L796.5 2977.5L796.7 2975.6L797.0 2973.6L797.2 2971.6L797.4 2969.6L797.6 2967.6L797.8 2965.6L798.0 2963.6L798.3 2961.6L798.5 2959.7L798.7 2957.7L798.9 2955.7L799.1 2953.7L799.4 2951.7L799.6 2949.7L799.8 2947.7L800.0 2945.7L800.2 2943.7L800.4 2941.8L800.6 2939.8L800.8 2937.8L801.0 2935.8L801.2 2933.8L801.4 2931.8L801.6 2929.8L801.7 2927.8L801.9 2925.8L802.1 2923.8L802.2 2921.8L802.4 2919.8L802.6 2917.9L802.7 2915.9L802.9 2913.9L803.0 2911.9L803.2 2909.9L803.3 2907.9L803.4 2905.9L803.6 2903.9L803.7 2901.9L803.9 2899.9L804.0 2897.9L804.1 2895.9L804.2 2893.9L804.4 2891.9L804.5 2889.9L804.6 2887.9L804.8 2885.9L804.9 2883.9L805.0 2881.9L805.1 2879.9L805.3 2877.9L805.4 2875.9L805.5 2873.9L805.6 2872.0L805.7 2870.0L805.9 2868.0L806.0 2866.0L806.1 2864.0L806.2 2862.0L806.4 2860.0L806.5 2858.0L806.6 2856.0L806.7 2854.0L806.9 2852.0L807.0 2850.0L807.1 2848.0L807.2 2846.0L807.4 2844.0L807.5 2842.0L807.6 2840.0L807.8 2838.0L807.9 2836.0L808.0 2834.0L808.1 2832.0L808.3 2830.0L808.4 2828.0L808.5 2826.0L808.6 2824.0L808.8 2822.1L808.9 2820.1L809.0 2818.1L809.1 2816.1L809.3 2814.1L809.4 2812.1L809.5 2810.1L809.6 2808.1L809.8 2806.1L809.9 2804.1L810.0 2802.1L810.1 2800.1L810.3 2798.1L810.4 2796.1L810.5 2794.1L810.6 2792.1L810.8 2790.1L810.9 2788.1L811.0 2786.1L811.1 2784.1L811.3 2782.1L811.4 2780.1L811.5 2778.1L811.6 2776.1L811.8 2774.1L811.9 2772.2L812.0 2770.2L812.1 2768.2L812.3 2766.2L812.4 2764.2L812.5 2762.2L812.6 2760.2L812.8 2758.2L812.9 2756.2L813.0 2754.2L813.1 2752.2L813.3 2750.2L813.4 2748.2L813.5 2746.2L813.6 2744.2L813.7 2742.2L813.9 2740.2L814.0 2738.2L814.1 2736.2L814.2 2734.2L814.4 2732.2L814.5 2730.2L814.6 2728.2L814.7 2726.2L814.8 2724.2L815.0 2722.2L815.1 2720.2L815.2 2718.3L815.3 2716.3L815.5 2714.3L815.6 2712.3L815.7 2710.3L815.8 2708.3L816.0 2706.3L816.1 2704.3L816.2 2702.3L816.3 2700.3L816.5 2698.3L816.6 2696.3L816.7 2694.3L816.8 2692.3L816.9 2690.3L817.1 2688.3L817.2 2686.3L817.3 2684.3L817.4 2682.3L817.5 2680.3L817.7 2678.3L817.8 2676.3L817.9 2674.3L818.0 2672.3L818.1 2670.3L818.3 2668.3L818.4 2666.3L818.5 2664.4L818.6 2662.4L818.7 2660.4L818.9 2658.4L819.0 2656.4L819.1 2654.4L819.2 2652.4L819.4 2650.4L819.5 2648.4L819.6 2646.4L819.8 2644.4L819.9 2642.4L820.0 2640.4L820.2 2638.4L820.3 2636.4L820.4 2634.4L820.6 2632.4L820.7 2630.4L820.8 2628.4L821.0 2626.4L821.1 2624.4L821.3 2622.4L821.4 2620.5L821.6 2618.5L821.8 2616.5L821.9 2614.5L822.1 2612.5L822.2 2610.5L822.4 2608.5L822.6 2606.5L822.7 2604.5L822.9 2602.5L823.1 2600.5L823.2 2598.5L823.4 2596.5L823.6 2594.5L823.7 2592.5L823.9 2590.6L824.1 2588.6L824.3 2586.6L824.4 2584.6L824.6 2582.6L824.8 2580.6L825.0 2578.6L825.2 2576.6L825.3 2574.6L825.5 2572.6L825.7 2570.6L825.9 2568.6L826.1 2566.7L826.3 2564.7L826.5 2562.7L826.6 2560.7L826.8 2558.7L827.0 2556.7L827.2 2554.7L827.4 2552.7L827.6 2550.7L827.8 2548.7L828.0 2546.7L828.2 2544.8L828.4 2542.8L828.6 2540.8L828.8 2538.8L829.0 2536.8L829.2 2534.8L829.4 2532.8L829.6 2530.8L829.9 2528.8L830.1 2526.9L830.3 2524.9L830.6 2522.9L830.8 2520.9L831.1 2518.9L831.4 2516.9L831.7 2515.0L832.1 2513.0L832.5 2511.1L833.2 2509.5L834.3 2509.0L835.4 2509.7L836.4 2511.3L837.1 2513.1L837.7 2515.0L838.3 2516.9L838.8 2518.8L839.3 2520.8L839.8 2522.7L840.2 2524.7L840.6 2526.6L841.0 2528.6L841.4 2530.6L841.8 2532.5L842.2 2534.5L842.5 2536.4L842.9 2538.4L843.3 2540.4L843.6 2542.3L844.0 2544.3L844.3 2546.3L844.7 2548.2L845.0 2550.2L845.4 2552.2L845.8 2554.1L846.1 2556.1L846.5 2558.1L846.9 2560.0L847.3 2562.0L847.7 2564.0L848.1 2565.9L848.4 2567.9L848.8 2569.9L849.2 2571.8L849.6 2573.8L850.0 2575.7L850.4 2577.7L850.8 2579.7L851.2 2581.6L851.6 2583.6L852.0 2585.5L852.4 2587.5L852.7 2589.5L853.1 2591.4L853.5 2593.4L853.9 2595.4L854.3 2597.3L854.7 2599.3L855.1 2601.2L855.5 2603.2L855.9 2605.2L856.3 2607.1L856.7 2609.1L857.1 2611.0L857.4 2613.0L857.8 2615.0L858.2 2616.9L858.6 2618.9L858.9 2620.9L859.3 2622.8L859.7 2624.8L860.0 2626.8L860.4 2628.7L860.8 2630.7L861.2 2632.7L861.6 2634.6L862.0 2636.6L862.4 2638.5L862.8 2640.5L863.2 2642.4L863.7 2644.4L864.2 2646.3L864.6 2648.3L865.1 2650.2L865.7 2652.1L866.2 2654.1L866.9 2655.9L867.7 2657.7L868.8 2658.8L870.1 2658.8L871.2 2657.7L872.1 2656.0L872.8 2654.1L873.4 2652.2L873.9 2650.3L874.3 2648.3L874.7 2646.4L875.1 2644.4L875.4 2642.4L875.7 2640.5L875.9 2638.5L876.1 2636.5L876.4 2634.5L876.6 2632.5L876.8 2630.5L876.9 2628.5L877.1 2626.5L877.3 2624.6L877.4 2622.6L877.6 2620.6L877.8 2618.6L877.9 2616.6L878.1 2614.6L878.3 2612.6L878.4 2610.6L878.6 2608.6L878.8 2606.6L879.0 2604.6L879.1 2602.6L879.3 2600.6L879.5 2598.6L879.6 2596.7L879.8 2594.7L880.0 2592.7L880.1 2590.7L880.3 2588.7L880.5 2586.7L880.6 2584.7L880.8 2582.7L880.9 2580.7L881.1 2578.7L881.3 2576.7L881.4 2574.7L881.6 2572.7L881.7 2570.7L881.9 2568.7L882.0 2566.7L882.2 2564.8L882.4 2562.8L882.5 2560.8L882.7 2558.8L882.8 2556.8L883.0 2554.8L883.1 2552.8L883.3 2550.8L883.4 2548.8L883.6 2546.8L883.7 2544.8L883.9 2542.8L884.0 2540.8L884.2 2538.8L884.3 2536.8L884.5 2534.8L884.6 2532.8L884.8 2530.9L884.9 2528.9L885.1 2526.9L885.3 2524.9L885.4 2522.9L885.6 2520.9L885.8 2518.9L886.0 2516.9L886.2 2514.9L886.4 2512.9L886.6 2510.9L886.8 2508.9L887.0 2507.0L887.2 2505.0L887.4 2503.0L887.6 2501.0L887.8 2499.0L888.0 2497.0L888.3 2495.0L888.5 2493.0L888.7 2491.1L889.0 2489.1L889.3 2487.1L889.5 2485.1L889.8 2483.1L890.1 2481.2L890.5 2479.2L890.8 2477.2L891.2 2475.3L891.7 2473.3L892.1 2471.4L892.6 2469.4L893.2 2467.5L893.8 2465.6L894.7 2463.9L895.8 2462.7L897.1 2462.6L898.2 2463.8L898.9 2465.5L899.5 2467.4L899.9 2469.3L900.2 2471.3L900.6 2473.3L900.8 2475.3L901.1 2477.2L901.3 2479.2L901.5 2481.2L901.7 2483.2L901.9 2485.2L902.0 2487.2L902.2 2489.2L902.3 2491.2L902.5 2493.2L902.6 2495.2L902.7 2497.2L902.9 2499.2L903.0 2501.2L903.1 2503.2L903.2 2505.2L903.3 2507.2L903.5 2509.2L903.6 2511.1L903.7 2513.1L903.8 2515.1L903.9 2517.1L904.0 2519.1L904.1 2521.1L904.2 2523.1L904.4 2525.1L904.5 2527.1L904.6 2529.1L904.7 2531.1L904.8 2533.1L904.9 2535.1L905.0 2537.1L905.1 2539.1L905.2 2541.1L905.3 2543.1L905.4 2545.1L905.6 2547.1L905.7 2549.1L905.8 2551.1L905.9 2553.1L906.0 2555.1L906.1 2557.1L906.2 2559.1L906.2 2561.1L906.3 2563.1L906.4 2565.1L906.5 2567.1L906.6 2569.1L906.7 2571.1L906.8 2573.1L906.9 2575.1L907.0 2577.1L907.1 2579.1L907.2 2581.1L907.3 2583.1L907.4 2585.0L907.5 2587.0L907.6 2589.0L907.7 2591.0L907.8 2593.0L907.9 2595.0L908.0 2597.0L908.1 2599.0L908.2 2601.0L908.3 2603.0L908.4 2605.0L908.5 2607.0L908.6 2609.0L908.7 2611.0L908.8 2613.0L908.9 2615.0L909.0 2617.0L909.1 2619.0L909.2 2621.0L909.3 2623.0L909.4 2625.0L909.5 2627.0L909.6 2629.0L909.7 2631.0L909.8 2633.0L909.9 2635.0L910.0 2637.0L910.1 2639.0L910.2 2641.0L910.3 2643.0L910.4 2645.0L910.5 2647.0L910.6 2649.0L910.7 2651.0L910.8 2653.0L910.9 2655.0L911.0 2657.0L911.1 2659.0L911.2 2661.0L911.3 2662.9L911.4 2664.9L911.5 2666.9L911.6 2668.9L911.7 2670.9L911.8 2672.9L911.9 2674.9L912.0 2676.9L912.1 2678.9L912.2 2680.9L912.3 2682.9L912.4 2684.9L912.5 2686.9L912.6 2688.9L912.7 2690.9L912.8 2692.9L912.9 2694.9L913.0 2696.9L913.1 2698.9L913.2 2700.9L913.3 2702.9L913.4 2704.9L913.5 2706.9L913.6 2708.9L913.7 2710.9L913.8 2712.9L913.8 2714.9L913.9 2716.9L914.0 2718.9L914.1 2720.9L914.2 2722.9L914.3 2724.9L914.4 2726.9L914.5 2728.9L914.6 2730.9L914.7 2732.9L914.8 2734.9L914.9 2736.9L915.0 2738.9L915.1 2740.9L915.2 2742.9L915.3 2744.9L915.4 2746.8L915.5 2748.8L915.7 2750.8L915.8 2752.8L915.9 2754.8L916.0 2756.8L916.1 2758.8L916.3 2760.8L916.4 2762.8L916.5 2764.8L916.7 2766.8L916.8 2768.8L917.0 2770.8L917.1 2772.8L917.3 2774.8L917.5 2776.8L917.6 2778.8L917.8 2780.8L918.0 2782.8L918.2 2784.7L918.3 2786.7L918.5 2788.7L918.7 2790.7L918.9 2792.7L919.0 2794.7L919.2 2796.7L919.4 2798.7L919.6 2800.7L919.8 2802.7L919.9 2804.7L920.1 2806.7L920.3 2808.7L920.4 2810.6L920.6 2812.6L920.8 2814.6L920.9 2816.6L921.1 2818.6L921.3 2820.6L921.4 2822.6L921.6 2824.6L921.8 2826.6L921.9 2828.6L922.1 2830.6L922.3 2832.6L922.4 2834.6L922.6 2836.6L922.8 2838.6L922.9 2840.5L923.1 2842.5L923.3 2844.5L923.4 2846.5L923.6 2848.5L923.7 2850.5L923.9 2852.5L924.1 2854.5L924.2 2856.5L924.4 2858.5L924.6 2860.5L924.7 2862.5L924.9 2864.5L925.1 2866.5L925.2 2868.4L925.4 2870.4L925.6 2872.4L925.7 2874.4L925.9 2876.4L926.0 2878.4L926.2 2880.4L926.4 2882.4L926.5 2884.4L926.7 2886.4L926.9 2888.4L927.0 2890.4L927.2 2892.4L927.4 2894.4L927.5 2896.4L927.7 2898.3L927.9 2900.3L928.0 2902.3L928.2 2904.3L928.4 2906.3L928.6 2908.3L928.8 2910.3L928.9 2912.3L929.1 2914.3L929.3 2916.3L929.5 2918.3L929.6 2920.3L929.8 2922.3L930.0 2924.2L930.2 2926.2L930.4 2928.2L930.5 2930.2L930.7 2932.2L930.9 2934.2L931.1 2936.2L931.3 2938.2L931.5 2940.2L931.7 2942.2L931.9 2944.2L932.1 2946.1L932.4 2948.1L932.6 2950.1L932.8 2952.1L933.1 2954.1L933.4 2956.1L933.6 2958.0L933.9 2960.0L934.2 2962.0L934.5 2964.0L934.8 2966.0L935.1 2967.9L935.4 2969.9L935.7 2971.9L936.1 2973.9L936.4 2975.8L936.8 2977.8L937.1 2979.8L937.5 2981.7L937.9 2983.7L938.3 2985.7L938.6 2987.6L939.1 2989.6L939.5 2991.5L939.9 2993.5L940.3 2995.4L940.8 2997.4L941.2 2999.3L941.7 3001.3L942.2 3003.2L942.7 3005.1L943.3 3007.1L943.8 3009.0L944.4 3010.9L944.9 3012.8L945.5 3014.8L946.1 3016.7L946.7 3018.6L947.3 3020.5L947.9 3022.4L948.6 3024.3L949.2 3026.2L949.9 3028.1L950.5 3029.9L951.2 3031.8L951.9 3033.7L952.6 3035.6L953.3 3037.4L954.1 3039.3L954.9 3041.1L955.8 3042.9L956.7 3044.7L957.7 3046.4L958.8 3048.1L960.0 3049.7L961.4 3051.1L962.9 3052.3L964.6 3053.0L966.5 3053.0L968.3 3052.3L969.9 3051.2L971.4 3049.9L972.7 3048.4L973.9 3046.8L974.9 3045.1L975.9 3043.4L976.8 3041.6L977.6 3039.8L978.4 3037.9L979.1 3036.0L979.7 3034.2L980.4 3032.3L981.0 3030.3L981.5 3028.4L982.1 3026.5L982.6 3024.6L983.1 3022.6L983.5 3020.7L984.0 3018.7L984.4 3016.8L984.8 3014.8L985.2 3012.9L985.5 3010.9L985.8 3008.9L986.1 3006.9L986.4 3005.0L986.7 3003.0L987.0 3001.0L987.2 2999.0L987.5 2997.0L987.7 2995.0L987.9 2993.1L988.1 2991.1L988.4 2989.1L988.6 2987.1L988.8 2985.1L988.9 2983.1L989.1 2981.1L989.3 2979.1L989.5 2977.1L989.7 2975.1L989.9 2973.2L990.0 2971.2L990.2 2969.2L990.4 2967.2L990.5 2965.2L990.7 2963.2L990.8 2961.2L991.0 2959.2L991.1 2957.2L991.2 2955.2L991.3 2953.2L991.5 2951.2L991.6 2949.2L991.7 2947.2L991.8 2945.2L991.9 2943.2L992.1 2941.2L992.2 2939.2L992.3 2937.2L992.4 2935.2L992.6 2933.2L992.7 2931.2L992.8 2929.3L993.0 2927.3L993.1 2925.3L993.2 2923.3L993.4 2921.3L993.5 2919.3L993.7 2917.3L993.9 2915.3L994.0 2913.3L994.2 2911.3L994.4 2909.3L994.5 2907.3L994.7 2905.3L994.9 2903.3L995.0 2901.3L995.2 2899.3L995.4 2897.4L995.5 2895.4L995.7 2893.4L995.9 2891.4L996.0 2889.4L996.2 2887.4L996.4 2885.4L996.6 2883.4L996.7 2881.4L996.9 2879.4L997.1 2877.4L997.2 2875.4L997.4 2873.4L997.6 2871.4L997.7 2869.5L997.9 2867.5L998.0 2865.5L998.2 2863.5L998.3 2861.5L998.5 2859.5L998.6 2857.5L998.8 2855.5L999.0 2853.5L999.1 2851.5L999.3 2849.5L999.4 2847.5L999.6 2845.5L999.7 2843.5L999.9 2841.5L1000.1 2839.5L1000.2 2837.6L1000.4 2835.6L1000.6 2833.6L1000.8 2831.6L1001.0 2829.6L1001.2 2827.6L1001.4 2825.6L1001.6 2823.6L1001.9 2821.6L1002.1 2819.6L1002.3 2817.7L1002.6 2815.7L1002.9 2813.7L1003.1 2811.7L1003.4 2809.7L1003.7 2807.8L1004.0 2805.8L1004.3 2803.8L1004.7 2801.8L1005.0 2799.9L1005.4 2797.9L1005.7 2795.9L1006.1 2794.0L1006.5 2792.0L1006.9 2790.1L1007.4 2788.1L1008.1 2786.2L1008.8 2784.4L1009.7 2782.6L1010.9 2781.0L1012.3 2779.9L1013.9 2779.6L1015.5 2780.3L1016.7 2781.7L1017.6 2783.4L1018.3 2785.3L1018.8 2787.2L1019.2 2789.2L1019.6 2791.1L1019.9 2793.1L1020.2 2795.1L1020.6 2797.0L1020.9 2799.0L1021.2 2801.0L1021.5 2803.0L1021.8 2804.9L1022.1 2806.9L1022.4 2808.9L1022.7 2810.9L1022.9 2812.9L1023.2 2814.8L1023.4 2816.8L1023.6 2818.8L1023.8 2820.8L1024.0 2822.8L1024.2 2824.8L1024.4 2826.8L1024.6 2828.8L1024.7 2830.8L1024.9 2832.8L1025.0 2834.8L1025.1 2836.8L1025.3 2838.8L1025.4 2840.7L1025.5 2842.7L1025.7 2844.7L1025.8 2846.7L1025.9 2848.7L1026.0 2850.7L1026.2 2852.7L1026.3 2854.7L1026.4 2856.7L1026.5 2858.7L1026.7 2860.7L1026.8 2862.7L1026.9 2864.7L1027.0 2866.7L1027.2 2868.7L1027.3 2870.7L1027.5 2872.7L1027.6 2874.7L1027.8 2876.7L1027.9 2878.7L1028.1 2880.7L1028.2 2882.7L1028.4 2884.6L1028.5 2886.6L1028.7 2888.6L1028.9 2890.6L1029.0 2892.6L1029.2 2894.6L1029.4 2896.6L1029.5 2898.6L1029.7 2900.6L1029.9 2902.6L1030.1 2904.6L1030.2 2906.6L1030.4 2908.6L1030.6 2910.6L1030.7 2912.5L1030.9 2914.5L1031.1 2916.5L1031.3 2918.5L1031.4 2920.5L1031.6 2922.5L1031.8 2924.5L1031.9 2926.5L1032.1 2928.5L1032.2 2930.5L1032.4 2932.5L1032.5 2934.5L1032.7 2936.5L1032.8 2938.5L1033.0 2940.5L1033.1 2942.5L1033.3 2944.4L1033.5 2946.4L1033.6 2948.4L1033.8 2950.4L1033.9 2952.4L1034.1 2954.4L1034.2 2956.4L1034.4 2958.4L1034.6 2960.4L1034.8 2962.4L1035.0 2964.4L1035.1 2966.4L1035.3 2968.4L1035.5 2970.3L1035.7 2972.3L1036.0 2974.3L1036.2 2976.3L1036.4 2978.3L1036.6 2980.3L1036.9 2982.3L1037.1 2984.3L1037.3 2986.2L1037.6 2988.2L1037.8 2990.2L1038.1 2992.2L1038.3 2994.2L1038.6 2996.2L1038.8 2998.2L1039.1 3000.1L1039.4 3002.1L1039.6 3004.1L1039.9 3006.1L1040.2 3008.1L1040.5 3010.0L1040.8 3012.0L1041.1 3014.0L1041.4 3016.0L1041.7 3018.0L1042.0 3019.9L1042.3 3021.9L1042.6 3023.9L1042.9 3025.8L1043.3 3027.8L1043.6 3029.8L1044.0 3031.8L1044.3 3033.7L1044.7 3035.7L1045.1 3037.7L1045.5 3039.6L1045.8 3041.6L1046.2 3043.5L1046.6 3045.5L1047.0 3047.5L1047.4 3049.4L1047.9 3051.4L1048.3 3053.3L1048.7 3055.3L1049.2 3057.2L1049.6 3059.2L1050.1 3061.1L1050.5 3063.1L1051.0 3065.0L1051.6 3066.9L1052.1 3068.9L1052.7 3070.8L1053.3 3072.7L1054.0 3074.6L1054.7 3076.4L1055.3 3078.3L1056.0 3080.2L1056.6 3082.1L1057.2 3084.0L1057.8 3085.9L1058.3 3087.9L1058.9 3089.8L1059.3 3091.7L1059.8 3093.7L1060.3 3095.6L1060.8 3097.6L1061.2 3099.5L1061.7 3101.5L1062.1 3103.4L1062.6 3105.3L1063.0 3107.3L1063.5 3109.2L1064.0 3111.2L1064.5 3113.1L1064.9 3115.1L1065.4 3117.0L1065.9 3118.9L1066.5 3120.9L1067.0 3122.8L1067.6 3124.7L1068.3 3126.6L1069.0 3128.5L1069.7 3130.3L1070.5 3132.2L1071.3 3134.0L1072.1 3135.8L1072.9 3137.6L1073.8 3139.4L1074.6 3141.3L1075.4 3143.1L1076.2 3145.0L1076.9 3146.8L1077.6 3148.7L1078.2 3150.6L1078.9 3152.5L1079.5 3154.4L1080.1 3156.3L1080.7 3158.2L1081.4 3160.1L1082.0 3162.0L1082.7 3163.9L1083.3 3165.7L1084.0 3167.6L1084.8 3169.5L1085.6 3171.3L1086.5 3173.1L1087.6 3174.7L1089.0 3176.0L1090.7 3176.7L1092.7 3176.9L1094.6 3177.1L1096.4 3177.5L1098.0 3178.5L1099.3 3180.0L1100.4 3181.6L1101.4 3183.3L1102.3 3185.1L1103.2 3186.9L1104.1 3188.7L1105.0 3190.5L1105.9 3192.3L1106.8 3194.1L1107.7 3195.8L1108.8 3197.5L1109.9 3199.2L1111.2 3200.7L1112.5 3202.2L1113.9 3203.7L1115.3 3205.0L1116.8 3206.4L1118.3 3207.7L1119.8 3209.0L1121.3 3210.4L1122.7 3211.8L1124.2 3213.0L1125.9 3213.9L1127.8 3214.4L1129.7 3214.2L1131.6 3213.7L1133.5 3213.0L1135.4 3212.5L1137.3 3212.3L1139.1 3212.8L1140.5 3213.9L1141.7 3215.4L1142.6 3217.2L1143.3 3219.0L1144.0 3220.9L1144.7 3222.8L1145.3 3224.7L1145.9 3226.6L1146.7 3228.4L1147.5 3230.2L1148.6 3231.7L1150.1 3232.6L1151.8 3232.5L1153.5 3231.7L1155.1 3230.5L1156.6 3229.3L1158.2 3228.3L1159.9 3228.0L1161.6 3228.6L1163.0 3229.9L1164.1 3231.5L1165.2 3233.2L1166.3 3234.9L1167.4 3236.5L1168.6 3238.1L1169.9 3239.7L1171.2 3241.2L1172.6 3242.4L1174.3 3243.3L1176.2 3243.6L1178.1 3243.4L1180.0 3242.8L1181.9 3242.1L1183.7 3241.2L1185.4 3240.2L1187.0 3239.0L1188.4 3237.6L1189.8 3236.2L1191.2 3234.8L1192.7 3233.8L1194.4 3233.5L1195.9 3234.2L1197.3 3235.6L1198.4 3237.2L1199.4 3238.9L1200.4 3240.7L1201.4 3242.4L1202.6 3244.0L1203.9 3245.5L1205.4 3246.7L1207.1 3247.8L1208.8 3248.8L1210.6 3249.6L1212.5 3250.3L1214.4 3250.8L1216.3 3251.1L1218.3 3251.1L1220.1 3251.5L1221.9 3252.2L1223.6 3253.3L1225.3 3254.4L1227.0 3255.4L1228.8 3256.2L1230.7 3256.7L1232.5 3256.6L1234.3 3255.9L1235.9 3254.8L1237.4 3253.5L1238.9 3252.2L1240.5 3250.9L1242.1 3250.0L1243.8 3249.8L1245.3 3250.5L1246.4 3252.0L1247.3 3253.8L1248.1 3255.6L1249.0 3257.3L1250.1 3258.7L1251.6 3259.3L1253.2 3258.9L1254.6 3257.7L1255.9 3256.2L1257.0 3254.6L1258.2 3252.9L1259.3 3251.3L1260.4 3249.6L1261.5 3247.9L1262.7 3246.3L1264.0 3244.9L1265.5 3244.0L1267.0 3244.1L1268.3 3245.1L1269.1 3246.8L1269.8 3248.7L1270.4 3250.6L1270.9 3252.5L1271.5 3254.4L1272.2 3256.3L1272.9 3258.2L1273.5 3260.1L1274.1 3262.0L1274.7 3263.9L1275.4 3265.8L1276.2 3267.5L1277.4 3269.0L1279.0 3269.8L1280.8 3269.9L1282.6 3269.3L1284.4 3268.4L1286.1 3267.4L1287.8 3266.4L1289.5 3265.4L1291.2 3264.4L1292.9 3263.2L1294.5 3262.0L1296.1 3260.8L1297.7 3259.6L1299.3 3258.5L1301.0 3257.5L1302.8 3256.7L1304.7 3256.4L1306.6 3256.7L1308.2 3257.6L1309.7 3258.8L1311.0 3260.4L1312.2 3262.0L1313.3 3263.6L1314.4 3265.3L1315.6 3266.9L1316.9 3268.4L1318.3 3269.7L1320.0 3270.5L1321.8 3270.7L1323.6 3270.1L1325.3 3269.1L1326.8 3267.9L1328.4 3266.6L1330.0 3265.5L1331.7 3264.7L1333.4 3264.6L1335.0 3265.3L1336.3 3266.7L1337.3 3268.4L1338.1 3270.2L1338.9 3272.1L1339.6 3273.9L1340.4 3275.7L1341.3 3277.5L1342.4 3279.1L1343.8 3280.4L1345.5 3281.2L1347.4 3281.4L1349.4 3281.2L1351.3 3280.7L1353.2 3280.1L1355.1 3279.4L1357.0 3278.9L1358.9 3278.5L1360.8 3278.5L1362.7 3279.0L1364.4 3279.9L1366.2 3280.6L1367.9 3280.6L1369.6 3279.9L1371.1 3278.7L1372.5 3277.2L1373.9 3275.8L1375.3 3274.4L1376.8 3273.2L1378.5 3272.6L1380.2 3272.9L1381.9 3273.9L1383.5 3274.9L1385.2 3275.5L1386.9 3275.3L1388.5 3274.4L1390.0 3273.1L1391.3 3271.6L1392.7 3270.2L1394.2 3268.8L1395.8 3267.7L1397.5 3267.0L1399.4 3266.9L1401.4 3267.2L1403.3 3267.8L1405.2 3268.4L1407.1 3269.1L1408.9 3269.9L1410.7 3270.6L1412.6 3271.4L1414.4 3272.2L1416.2 3273.1L1418.0 3274.0L1419.8 3274.8L1421.7 3275.5L1423.6 3275.8L1425.6 3275.9L1427.6 3275.6L1429.5 3275.2L1431.4 3274.7L1433.3 3274.1L1434.9 3273.6L1436.5 3273.1"/>
</g>
<line x1="117" y1="2643.1" x2="265" y2="2643.1" stroke="#515151" stroke-width="5.5"/>
<line x1="117" y1="2721" x2="265" y2="2721" stroke="#F14040" stroke-width="5.5"/>
<line x1="117" y1="2799.3" x2="265" y2="2799.3" stroke="#1A6FDF" stroke-width="5.5"/>
<text x="277" y="2665.5" font-size="63.5">Pd/Beta-Si</text>
<text x="277" y="2744" font-size="63.5">Pd/Beta-Si-750HTA</text>
<text x="277" y="2822" font-size="63.5">Pd/Beta-Si-800HTA</text>
<rect x="134.0" y="2374.6" width="1304.0" height="1006.4000000000001" fill="none" stroke="#000" stroke-width="7"/>
<line x1="134.0" y1="3381" x2="134.0" y2="3395.5" stroke="#000" stroke-width="6.3"/>
<line x1="242.7" y1="3381" x2="242.7" y2="3390" stroke="#000" stroke-width="6.3"/>
<line x1="351.3" y1="3381" x2="351.3" y2="3395.5" stroke="#000" stroke-width="6.3"/>
<line x1="460.0" y1="3381" x2="460.0" y2="3390" stroke="#000" stroke-width="6.3"/>
<line x1="568.7" y1="3381" x2="568.7" y2="3395.5" stroke="#000" stroke-width="6.3"/>
<line x1="677.3" y1="3381" x2="677.3" y2="3390" stroke="#000" stroke-width="6.3"/>
<line x1="786.0" y1="3381" x2="786.0" y2="3395.5" stroke="#000" stroke-width="6.3"/>
<line x1="894.7" y1="3381" x2="894.7" y2="3390" stroke="#000" stroke-width="6.3"/>
<line x1="1003.3" y1="3381" x2="1003.3" y2="3395.5" stroke="#000" stroke-width="6.3"/>
<line x1="1112.0" y1="3381" x2="1112.0" y2="3390" stroke="#000" stroke-width="6.3"/>
<line x1="1220.7" y1="3381" x2="1220.7" y2="3395.5" stroke="#000" stroke-width="6.3"/>
<line x1="1329.3" y1="3381" x2="1329.3" y2="3390" stroke="#000" stroke-width="6.3"/>
<line x1="1438.0" y1="3381" x2="1438.0" y2="3395.5" stroke="#000" stroke-width="6.3"/>
<text x="132.5" y="3442.5" font-size="65" text-anchor="middle">−95</text>
<text x="349.8" y="3442.5" font-size="65" text-anchor="middle">−100</text>
<text x="567.2" y="3442.5" font-size="65" text-anchor="middle">−105</text>
<text x="784.5" y="3442.5" font-size="65" text-anchor="middle">−110</text>
<text x="1001.8" y="3442.5" font-size="65" text-anchor="middle">−115</text>
<text x="1219.2" y="3442.5" font-size="65" text-anchor="middle">−120</text>
<text x="1436.5" y="3442.5" font-size="65" text-anchor="middle">−125</text>
<text x="511" y="3514.5" font-size="64.3">Chemical shift (ppm)</text>
<text transform="translate(74.0,3046) rotate(-90)" font-size="63.7">Intensity (a.u.)</text>
<text x="158.4" y="2532" font-size="165">(</text>
<text x="212" y="2532" font-size="131">c</text>
<text x="272" y="2532" font-size="165">)</text>
<text transform="translate(716.5,2446.5) scale(1,1.003)" font-size="65.8">-110</text>
<text transform="translate(909.5,2450) scale(1,1.006)" font-size="65.6">-112</text>
<text transform="translate(990,2773) scale(1,1.026)" font-size="64.3">-115</text>
</svg></body></html>
